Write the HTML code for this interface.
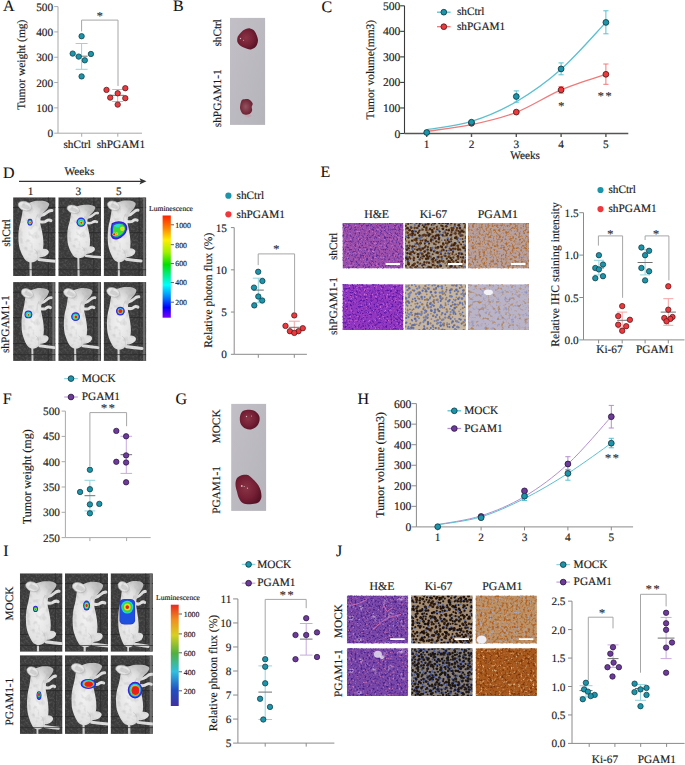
<!DOCTYPE html><html><head><meta charset="utf-8"><title>Figure</title><style>html,body{margin:0;padding:0;background:#fff;width:685px;height:765px;overflow:hidden}svg text{font-family:'Liberation Serif', serif;text-rendering:geometricPrecision;stroke:#1a1a1a;stroke-width:0.16px;paint-order:stroke}</style></head><body><svg width="685" height="765" viewBox="0 0 685 765" style="display:block;font-family:'Liberation Serif', serif"><defs>
<linearGradient id="gbox" x1="0" y1="0" x2="1" y2="1">
 <stop offset="0" stop-color="#c2c0c6"/><stop offset="1" stop-color="#b6b4bb"/>
</linearGradient>
<radialGradient id="tum" cx="0.42" cy="0.45" r="0.62">
 <stop offset="0" stop-color="#8a3446"/><stop offset="0.6" stop-color="#741f34"/><stop offset="1" stop-color="#541224"/>
</radialGradient>
<radialGradient id="tum2" cx="0.45" cy="0.5" r="0.6">
 <stop offset="0" stop-color="#945462"/><stop offset="0.6" stop-color="#7a3040"/><stop offset="1" stop-color="#62202e"/>
</radialGradient>
<linearGradient id="cbar" x1="0" y1="0" x2="0" y2="1">
 <stop offset="0" stop-color="#ff2000"/><stop offset="0.12" stop-color="#ff8000"/><stop offset="0.24" stop-color="#ffee00"/>
 <stop offset="0.36" stop-color="#a0f000"/><stop offset="0.48" stop-color="#00e000"/><stop offset="0.6" stop-color="#00f0a0"/>
 <stop offset="0.68" stop-color="#00ffff"/><stop offset="0.8" stop-color="#0080ff"/><stop offset="0.9" stop-color="#0000ff"/>
 <stop offset="1" stop-color="#8000ff"/>
</linearGradient>
<linearGradient id="cbar2" x1="0" y1="0" x2="0" y2="1">
 <stop offset="0" stop-color="#e82a20"/><stop offset="0.15" stop-color="#f09020"/><stop offset="0.3" stop-color="#d8d020"/>
 <stop offset="0.48" stop-color="#50b040"/><stop offset="0.66" stop-color="#30c0e0"/><stop offset="0.84" stop-color="#2050c0"/>
 <stop offset="1" stop-color="#4030a0"/>
</linearGradient>
<radialGradient id="lum1"><stop offset="0" stop-color="#e83020"/><stop offset="0.35" stop-color="#40c040"/><stop offset="0.7" stop-color="#2060e0"/><stop offset="1" stop-color="#3020c0"/></radialGradient>
<radialGradient id="lum2"><stop offset="0" stop-color="#e82020"/><stop offset="0.3" stop-color="#e8c020"/><stop offset="0.5" stop-color="#40c040"/><stop offset="0.75" stop-color="#2060e0"/><stop offset="1" stop-color="#3020c0"/></radialGradient>
<radialGradient id="lum3"><stop offset="0" stop-color="#a0e040"/><stop offset="0.5" stop-color="#40e080"/><stop offset="0.8" stop-color="#20a0f0"/><stop offset="1" stop-color="#2020d0"/></radialGradient>
<radialGradient id="lum4"><stop offset="0" stop-color="#e81818"/><stop offset="0.45" stop-color="#e03020"/><stop offset="0.7" stop-color="#2050e0"/><stop offset="1" stop-color="#3020c0"/></radialGradient>
<radialGradient id="lum5" cx="0.55" cy="0.35" r="0.6"><stop offset="0" stop-color="#e83020"/><stop offset="0.25" stop-color="#d0d020"/><stop offset="0.45" stop-color="#40b040"/><stop offset="0.7" stop-color="#2070d0"/><stop offset="1" stop-color="#2040b0"/></radialGradient>
<radialGradient id="lum6"><stop offset="0" stop-color="#f02020"/><stop offset="0.55" stop-color="#f02818"/><stop offset="0.7" stop-color="#40c040"/><stop offset="0.85" stop-color="#2060e0"/><stop offset="1" stop-color="#3030b0"/></radialGradient>
<radialGradient id="mshade" cx="0.42" cy="0.55" r="0.62"><stop offset="0" stop-color="#f2f2f2"/><stop offset="0.65" stop-color="#e2e2e2"/><stop offset="1" stop-color="#bcbcbc"/></radialGradient>
<g id="mouse">
 <path d="M28.5,20.5 Q33,19.5 35,17.5 Q37,15.5 39.5,15.8" stroke="#dedede" stroke-width="2.6" stroke-linecap="round" stroke-linejoin="round" fill="none"/>
 <path d="M28.2,25.5 Q32.5,26.6 34.5,24.8 Q36.5,23.5 38.6,24.6" stroke="#e2e2e2" stroke-width="2.6" stroke-linecap="round" stroke-linejoin="round" fill="none"/>
 <path d="M27.5,58.4 Q35,59.4 42.5,60.0" stroke="#dcdcdc" stroke-width="2.6" stroke-linecap="round" fill="none"/>
 <path d="M20.0,58 L20.3,79" stroke="#d4d4d4" stroke-width="2.0" stroke-linecap="round" fill="none"/>
 <ellipse cx="30.0" cy="52.8" rx="6.8" ry="3.6" transform="rotate(-12 30 52.8)" fill="#e0e0e0"/>
 <path d="M19.00,9.00 C20.43,8.52 22.25,7.87 24.00,7.60 C25.75,7.33 27.75,7.30 29.50,7.40 C31.25,7.50 33.25,7.73 34.50,8.20 C35.75,8.67 36.82,9.30 37.00,10.20 C37.18,11.10 36.35,12.47 35.60,13.60 C34.85,14.73 33.47,15.85 32.50,17.00 C31.53,18.15 30.38,19.25 29.80,20.50 C29.22,21.75 29.13,23.28 29.00,24.50 C28.87,25.72 28.87,26.70 29.00,27.80 C29.13,28.90 29.43,29.43 29.80,31.10 C30.17,32.77 30.87,35.57 31.20,37.80 C31.53,40.03 31.80,42.47 31.80,44.50 C31.80,46.53 31.57,48.42 31.20,50.00 C30.83,51.58 30.20,52.77 29.60,54.00 C29.00,55.23 28.50,56.37 27.60,57.40 C26.70,58.43 25.38,59.60 24.20,60.20 C23.02,60.80 21.63,61.00 20.50,61.00 C19.37,61.00 18.32,60.63 17.40,60.20 C16.48,59.77 15.90,59.53 15.00,58.40 C14.10,57.27 12.90,55.35 12.00,53.40 C11.10,51.45 10.10,49.12 9.60,46.70 C9.10,44.28 9.05,41.12 9.00,38.90 C8.95,36.68 9.13,35.05 9.30,33.40 C9.47,31.75 9.72,30.32 10.00,29.00 C10.28,27.68 10.70,26.67 11.00,25.50 C11.30,24.33 11.57,23.15 11.80,22.00 C12.03,20.85 12.17,19.85 12.40,18.60 C12.63,17.35 12.70,15.85 13.20,14.50 C13.70,13.15 14.43,11.42 15.40,10.50 C16.37,9.58 17.57,9.48 19.00,9.00Z" fill="url(#mshade)"/>
 <path d="M27,19 Q24,22 25,27" stroke="#c4c4c4" stroke-width="0.7" fill="none" opacity="0.7"/>
 <path d="M23.5,49.5 Q27.5,52 26.5,57" stroke="#c4c4c4" stroke-width="0.7" fill="none" opacity="0.8"/>
 <ellipse cx="15.0" cy="12.0" rx="6.4" ry="3.9" transform="rotate(18 15 12)" fill="#e6e6e6" stroke="#b4b4b4" stroke-width="0.5"/>
 <ellipse cx="15.4" cy="12.4" rx="3.6" ry="1.9" transform="rotate(18 15.4 12.4)" fill="#d0d0d0"/>
</g>
<filter id="mnoise" x="-5%" y="-5%" width="110%" height="110%" color-interpolation-filters="sRGB"><feTurbulence type="fractalNoise" baseFrequency="0.22" numOctaves="2" seed="4" result="n"/><feColorMatrix in="n" type="matrix" values="0 0 0 0 0.62  0 0 0 0 0.62  0 0 0 0 0.62  0.9 0 0 0 -0.44" result="g"/><feComposite in="g" in2="SourceAlpha" operator="in"/></filter><filter id="bgn" x="0" y="0" width="100%" height="100%" color-interpolation-filters="sRGB"><feTurbulence type="fractalNoise" baseFrequency="0.45" numOctaves="2" seed="21" result="n"/><feColorMatrix in="n" type="matrix" values="0 0 0 0 0.5  0 0 0 0 0.5  0 0 0 0 0.5  0.9 0 0 0 -0.38"/></filter><filter id="hblur" x="0" y="0" width="100%" height="100%"><feGaussianBlur stdDeviation="0.55"/></filter><filter id="the1" x="0" y="0" width="100%" height="100%" color-interpolation-filters="sRGB"><feTurbulence type="fractalNoise" baseFrequency="0.5" numOctaves="2" seed="3" result="n"/><feColorMatrix in="n" type="matrix" values="0 0 0 0 0.831  0 0 0 0 0.439  0 0 0 0 0.737  0 4.00 0 0 -2.274" result="l2"/><feColorMatrix in="n" type="matrix" values="0 0 0 0 0.353  0 0 0 0 0.165  0 0 0 0 0.596  4.00 0 0 0 -2.000" result="l1"/><feMerge><feMergeNode in="l2"/><feMergeNode in="l1"/></feMerge><feGaussianBlur stdDeviation="0.4"/></filter><filter id="the2" x="0" y="0" width="100%" height="100%" color-interpolation-filters="sRGB"><feTurbulence type="fractalNoise" baseFrequency="0.5" numOctaves="2" seed="5" result="n"/><feColorMatrix in="n" type="matrix" values="0 0 0 0 0.816  0 0 0 0 0.439  0 0 0 0 0.847  0 4.00 0 0 -2.304" result="l2"/><feColorMatrix in="n" type="matrix" values="0 0 0 0 0.353  0 0 0 0 0.078  0 0 0 0 0.643  4.00 0 0 0 -2.000" result="l1"/><feMerge><feMergeNode in="l2"/><feMergeNode in="l1"/></feMerge><feGaussianBlur stdDeviation="0.4"/></filter><filter id="the3" x="0" y="0" width="100%" height="100%" color-interpolation-filters="sRGB"><feTurbulence type="fractalNoise" baseFrequency="0.5" numOctaves="2" seed="6" result="n"/><feTurbulence type="fractalNoise" baseFrequency="0.12" numOctaves="2" seed="56" result="n3"/><feColorMatrix in="n3" type="matrix" values="0 0 0 0 0.925  0 0 0 0 0.863  0 0 0 0 0.925  4.00 0 0 0 -2.669" result="l3"/><feColorMatrix in="n" type="matrix" values="0 0 0 0 0.816  0 0 0 0 0.471  0 0 0 0 0.722  0 4.00 0 0 -2.304" result="l2"/><feColorMatrix in="n" type="matrix" values="0 0 0 0 0.282  0 0 0 0 0.125  0 0 0 0 0.541  4.00 0 0 0 -2.000" result="l1"/><feMerge><feMergeNode in="l3"/><feMergeNode in="l2"/><feMergeNode in="l1"/></feMerge><feGaussianBlur stdDeviation="0.4"/></filter><filter id="tpg1" x="0" y="0" width="100%" height="100%" color-interpolation-filters="sRGB"><feTurbulence type="fractalNoise" baseFrequency="0.45" numOctaves="2" seed="13" result="n"/><feColorMatrix in="n" type="matrix" values="0 0 0 0 0.659  0 0 0 0 0.643  0 0 0 0 0.784  0 3.60 0 0 -2.046" result="l2"/><feColorMatrix in="n" type="matrix" values="0 0 0 0 0.690  0 0 0 0 0.424  0 0 0 0 0.188  3.60 0 0 0 -1.636" result="l1"/><feMerge><feMergeNode in="l2"/><feMergeNode in="l1"/></feMerge><feGaussianBlur stdDeviation="0.45"/></filter><filter id="tpg2" x="0" y="0" width="100%" height="100%" color-interpolation-filters="sRGB"><feTurbulence type="fractalNoise" baseFrequency="0.3" numOctaves="2" seed="15" result="n"/><feColorMatrix in="n" type="matrix" values="0 0 0 0 0.549  0 0 0 0 0.565  0 0 0 0 0.753  0 3.20 0 0 -1.843" result="l2"/><feColorMatrix in="n" type="matrix" values="0 0 0 0 0.690  0 0 0 0 0.502  0 0 0 0 0.314  3.20 0 0 0 -1.722" result="l1"/><feMerge><feMergeNode in="l2"/><feMergeNode in="l1"/></feMerge><feGaussianBlur stdDeviation="0.5"/></filter><filter id="tpg3" x="0" y="0" width="100%" height="100%" color-interpolation-filters="sRGB"><feTurbulence type="fractalNoise" baseFrequency="0.42" numOctaves="2" seed="17" result="n"/><feColorMatrix in="n" type="matrix" values="0 0 0 0 0.659  0 0 0 0 0.682  0 0 0 0 0.816  0 3.60 0 0 -2.019" result="l2"/><feColorMatrix in="n" type="matrix" values="0 0 0 0 0.690  0 0 0 0 0.376  0 0 0 0 0.125  3.60 0 0 0 -1.691" result="l1"/><feMerge><feMergeNode in="l2"/><feMergeNode in="l1"/></feMerge><feGaussianBlur stdDeviation="0.45"/></filter><filter id="tpg4" x="0" y="0" width="100%" height="100%" color-interpolation-filters="sRGB"><feTurbulence type="fractalNoise" baseFrequency="0.42" numOctaves="2" seed="19" result="n"/><feColorMatrix in="n" type="matrix" values="0 0 0 0 0.910  0 0 0 0 0.753  0 0 0 0 0.565  0 3.80 0 0 -2.189" result="l2"/><feColorMatrix in="n" type="matrix" values="0 0 0 0 0.478  0 0 0 0 0.204  0 0 0 0 0.031  3.80 0 0 0 -1.900" result="l1"/><feMerge><feMergeNode in="l2"/><feMergeNode in="l1"/></feMerge><feGaussianBlur stdDeviation="0.45"/></filter></defs><rect width="685" height="765" fill="#fff"/><text x="3.00" y="11.30" font-size="16" text-anchor="start" fill="#111" style="stroke-width:0.1px">A</text>
<line x1="58.00" y1="6.60" x2="58.00" y2="133.20" stroke="#a9a9a9" stroke-width="1.0"/>
<line x1="54.20" y1="133.20" x2="58.00" y2="133.20" stroke="#a9a9a9" stroke-width="1.0"/>
<text x="53.10" y="137.20" font-size="11.3" text-anchor="end" fill="#1a1a1a" >0</text>
<line x1="54.20" y1="107.88" x2="58.00" y2="107.88" stroke="#a9a9a9" stroke-width="1.0"/>
<text x="53.10" y="111.88" font-size="11.3" text-anchor="end" fill="#1a1a1a" >100</text>
<line x1="54.20" y1="82.56" x2="58.00" y2="82.56" stroke="#a9a9a9" stroke-width="1.0"/>
<text x="53.10" y="86.56" font-size="11.3" text-anchor="end" fill="#1a1a1a" >200</text>
<line x1="54.20" y1="57.24" x2="58.00" y2="57.24" stroke="#a9a9a9" stroke-width="1.0"/>
<text x="53.10" y="61.24" font-size="11.3" text-anchor="end" fill="#1a1a1a" >300</text>
<line x1="54.20" y1="31.92" x2="58.00" y2="31.92" stroke="#a9a9a9" stroke-width="1.0"/>
<text x="53.10" y="35.92" font-size="11.3" text-anchor="end" fill="#1a1a1a" >400</text>
<line x1="54.20" y1="6.60" x2="58.00" y2="6.60" stroke="#a9a9a9" stroke-width="1.0"/>
<text x="53.10" y="10.60" font-size="11.3" text-anchor="end" fill="#1a1a1a" >500</text>
<line x1="58.00" y1="133.20" x2="142.00" y2="133.20" stroke="#a9a9a9" stroke-width="1.0"/>
<line x1="81.70" y1="133.20" x2="81.70" y2="136.70" stroke="#a9a9a9" stroke-width="1.0"/>
<line x1="117.80" y1="133.20" x2="117.80" y2="136.70" stroke="#a9a9a9" stroke-width="1.0"/>
<text x="77.20" y="148.00" font-size="11.3" text-anchor="middle" fill="#1a1a1a" >shCtrl</text>
<text x="120.90" y="148.00" font-size="11.3" text-anchor="middle" fill="#1a1a1a" >shPGAM1</text>
<text transform="translate(24.80,64.70) rotate(-90)" font-size="11.5" text-anchor="middle" fill="#1a1a1a" >Tumor weight (mg)</text>
<path d="M81.60,31.40 V20.10 H118.00 V86.00" fill="none" stroke="#a6a6a6" stroke-width="1.0"/>
<text x="99.70" y="19.50" font-size="12.2" text-anchor="middle" fill="#333" >*</text>
<line x1="81.60" y1="43.50" x2="81.60" y2="69.30" stroke="#93d4df" stroke-width="1.0"/>
<line x1="75.60" y1="43.50" x2="87.60" y2="43.50" stroke="#93d4df" stroke-width="1.0"/>
<line x1="75.60" y1="69.30" x2="87.60" y2="69.30" stroke="#93d4df" stroke-width="1.0"/>
<line x1="75.60" y1="56.20" x2="87.60" y2="56.20" stroke="#707070" stroke-width="1.0"/>
<circle cx="81.60" cy="36.20" r="2.7" fill="#1b95aa" stroke="#123a44" stroke-width="0.75"/>
<circle cx="72.70" cy="53.60" r="2.7" fill="#1b95aa" stroke="#123a44" stroke-width="0.75"/>
<circle cx="90.90" cy="54.00" r="2.7" fill="#1b95aa" stroke="#123a44" stroke-width="0.75"/>
<circle cx="78.70" cy="56.60" r="2.7" fill="#1b95aa" stroke="#123a44" stroke-width="0.75"/>
<circle cx="84.80" cy="60.30" r="2.7" fill="#1b95aa" stroke="#123a44" stroke-width="0.75"/>
<circle cx="81.60" cy="76.40" r="2.7" fill="#1b95aa" stroke="#123a44" stroke-width="0.75"/>
<line x1="117.70" y1="89.50" x2="117.70" y2="101.50" stroke="#f6a3a3" stroke-width="1.0"/>
<line x1="112.20" y1="89.50" x2="123.20" y2="89.50" stroke="#f6a3a3" stroke-width="1.0"/>
<line x1="112.20" y1="101.50" x2="123.20" y2="101.50" stroke="#f6a3a3" stroke-width="1.0"/>
<line x1="111.20" y1="95.30" x2="124.20" y2="95.30" stroke="#707070" stroke-width="1.0"/>
<circle cx="106.50" cy="89.90" r="2.7" fill="#ef383d" stroke="#4a1a1a" stroke-width="0.75"/>
<circle cx="125.30" cy="88.20" r="2.7" fill="#ef383d" stroke="#4a1a1a" stroke-width="0.75"/>
<circle cx="117.70" cy="93.30" r="2.7" fill="#ef383d" stroke="#4a1a1a" stroke-width="0.75"/>
<circle cx="110.20" cy="97.60" r="2.7" fill="#ef383d" stroke="#4a1a1a" stroke-width="0.75"/>
<circle cx="125.30" cy="98.20" r="2.7" fill="#ef383d" stroke="#4a1a1a" stroke-width="0.75"/>
<circle cx="117.70" cy="104.60" r="2.7" fill="#ef383d" stroke="#4a1a1a" stroke-width="0.75"/>
<text x="173.00" y="11.30" font-size="16" text-anchor="start" fill="#111" style="stroke-width:0.1px">B</text>
<rect x="230" y="17.9" width="35.1" height="107" fill="url(#gbox)"/>
<path d="M245.80,28.90 C246.97,28.55 248.78,28.27 250.00,28.40 C251.22,28.53 252.15,28.93 253.10,29.70 C254.05,30.47 254.90,31.38 255.70,33.00 C256.50,34.62 257.65,37.57 257.90,39.40 C258.15,41.23 257.65,42.68 257.20,44.00 C256.75,45.32 256.23,46.40 255.20,47.30 C254.17,48.20 252.37,49.15 251.00,49.40 C249.63,49.65 248.32,49.15 247.00,48.80 C245.68,48.45 244.35,47.93 243.10,47.30 C241.85,46.67 240.45,45.87 239.50,45.00 C238.55,44.13 237.75,43.28 237.40,42.10 C237.05,40.92 237.22,39.00 237.40,37.90 C237.58,36.80 237.98,36.30 238.50,35.50 C239.02,34.70 239.75,33.93 240.50,33.10 C241.25,32.27 242.12,31.20 243.00,30.50 C243.88,29.80 244.63,29.25 245.80,28.90Z" fill="url(#tum)"/><circle cx="240.5" cy="38.5" r="0.7" fill="#e8c8d0" opacity="0.85"/><circle cx="243.5" cy="40.2" r="0.5" fill="#e8c8d0" opacity="0.85"/>
<ellipse cx="248.2" cy="115.6" rx="3.4" ry="1.6" fill="#c89aa6" opacity="0.6"/>
<path d="M242.90,99.40 C244.10,99.12 246.98,98.57 248.60,99.20 C250.22,99.83 252.08,101.92 252.60,103.20 C253.12,104.48 251.78,105.70 251.70,106.90 C251.62,108.10 252.47,109.23 252.10,110.40 C251.73,111.57 250.95,113.25 249.50,113.90 C248.05,114.55 244.93,115.03 243.40,114.30 C241.87,113.57 240.82,111.10 240.30,109.50 C239.78,107.90 240.12,106.13 240.30,104.70 C240.48,103.27 240.97,101.78 241.40,100.90 C241.83,100.02 241.70,99.68 242.90,99.40Z" fill="url(#tum2)"/>
<text transform="translate(221.00,32.80) rotate(-90)" font-size="11.3" text-anchor="middle" fill="#1a1a1a" >shCtrl</text>
<text transform="translate(221.00,98.30) rotate(-90)" font-size="11.3" text-anchor="middle" fill="#1a1a1a" >shPGAM1-1</text>
<text x="321.50" y="11.50" font-size="16" text-anchor="start" fill="#111" style="stroke-width:0.1px">C</text>
<line x1="404.50" y1="5.80" x2="404.50" y2="133.50" stroke="#3a3a3a" stroke-width="1.1"/>
<line x1="400.20" y1="133.50" x2="404.50" y2="133.50" stroke="#3a3a3a" stroke-width="1.1"/>
<text x="400.40" y="137.50" font-size="11.6" text-anchor="end" fill="#1a1a1a" >0</text>
<line x1="400.20" y1="107.96" x2="404.50" y2="107.96" stroke="#3a3a3a" stroke-width="1.1"/>
<text x="400.40" y="111.96" font-size="11.6" text-anchor="end" fill="#1a1a1a" >100</text>
<line x1="400.20" y1="82.42" x2="404.50" y2="82.42" stroke="#3a3a3a" stroke-width="1.1"/>
<text x="400.40" y="86.42" font-size="11.6" text-anchor="end" fill="#1a1a1a" >200</text>
<line x1="400.20" y1="56.88" x2="404.50" y2="56.88" stroke="#3a3a3a" stroke-width="1.1"/>
<text x="400.40" y="60.88" font-size="11.6" text-anchor="end" fill="#1a1a1a" >300</text>
<line x1="400.20" y1="31.34" x2="404.50" y2="31.34" stroke="#3a3a3a" stroke-width="1.1"/>
<text x="400.40" y="35.34" font-size="11.6" text-anchor="end" fill="#1a1a1a" >400</text>
<line x1="400.20" y1="5.80" x2="404.50" y2="5.80" stroke="#3a3a3a" stroke-width="1.1"/>
<text x="400.40" y="9.80" font-size="11.6" text-anchor="end" fill="#1a1a1a" >500</text>
<line x1="404.50" y1="133.50" x2="628.30" y2="133.50" stroke="#555" stroke-width="1.4"/>
<line x1="426.70" y1="133.50" x2="426.70" y2="137.00" stroke="#555" stroke-width="1.4"/>
<line x1="471.50" y1="133.50" x2="471.50" y2="137.00" stroke="#555" stroke-width="1.4"/>
<line x1="516.30" y1="133.50" x2="516.30" y2="137.00" stroke="#555" stroke-width="1.4"/>
<line x1="561.10" y1="133.50" x2="561.10" y2="137.00" stroke="#555" stroke-width="1.4"/>
<line x1="605.90" y1="133.50" x2="605.90" y2="137.00" stroke="#555" stroke-width="1.4"/>
<text x="426.70" y="148.30" font-size="11.3" text-anchor="middle" fill="#1a1a1a" >1</text>
<text x="471.50" y="148.30" font-size="11.3" text-anchor="middle" fill="#1a1a1a" >2</text>
<text x="516.30" y="148.30" font-size="11.3" text-anchor="middle" fill="#1a1a1a" >3</text>
<text x="561.10" y="148.30" font-size="11.3" text-anchor="middle" fill="#1a1a1a" >4</text>
<text x="605.90" y="148.30" font-size="11.3" text-anchor="middle" fill="#1a1a1a" >5</text>
<text x="525.10" y="159.30" font-size="11.3" text-anchor="middle" fill="#1a1a1a" >Weeks</text>
<text transform="translate(373.80,69.60) rotate(-90)" font-size="11.5" text-anchor="middle" fill="#1a1a1a" >Tumor volume(mm3)</text>
<line x1="437.00" y1="12.20" x2="450.60" y2="12.20" stroke="#5bc0d0" stroke-width="1.3"/>
<circle cx="443.80" cy="12.20" r="2.85" fill="#1b95aa" stroke="#123a44" stroke-width="0.85"/>
<text x="456.90" y="15.30" font-size="11.3" text-anchor="start" fill="#1a1a1a" >shCtrl</text>
<line x1="437.00" y1="26.70" x2="450.60" y2="26.70" stroke="#f07a7a" stroke-width="1.3"/>
<circle cx="443.80" cy="26.70" r="2.85" fill="#ef383d" stroke="#4a1a1a" stroke-width="0.85"/>
<text x="456.90" y="29.80" font-size="11.3" text-anchor="start" fill="#1a1a1a" >shPGAM1</text>
<path d="M426.70,129.80 C434.17,128.40 456.57,126.08 471.50,121.40 C486.43,116.72 501.37,110.38 516.30,101.70 C531.23,93.02 546.17,82.52 561.10,69.30 C576.03,56.08 598.43,30.22 605.90,22.40" fill="none" stroke="#5bc0d0" stroke-width="1.3"/>
<path d="M426.70,131.40 C434.17,130.27 456.57,127.78 471.50,124.60 C486.43,121.42 501.37,118.08 516.30,112.30 C531.23,106.52 546.17,96.23 561.10,89.90 C576.03,83.57 598.43,76.90 605.90,74.30" fill="none" stroke="#f07a7a" stroke-width="1.3"/>
<line x1="516.30" y1="90.90" x2="516.30" y2="102.20" stroke="#5bc0d0" stroke-width="1.0"/>
<line x1="513.70" y1="90.90" x2="518.90" y2="90.90" stroke="#5bc0d0" stroke-width="1.0"/>
<line x1="513.70" y1="102.20" x2="518.90" y2="102.20" stroke="#5bc0d0" stroke-width="1.0"/>
<line x1="561.10" y1="62.90" x2="561.10" y2="74.80" stroke="#5bc0d0" stroke-width="1.0"/>
<line x1="558.50" y1="62.90" x2="563.70" y2="62.90" stroke="#5bc0d0" stroke-width="1.0"/>
<line x1="558.50" y1="74.80" x2="563.70" y2="74.80" stroke="#5bc0d0" stroke-width="1.0"/>
<line x1="605.90" y1="10.80" x2="605.90" y2="33.80" stroke="#5bc0d0" stroke-width="1.0"/>
<line x1="603.30" y1="10.80" x2="608.50" y2="10.80" stroke="#5bc0d0" stroke-width="1.0"/>
<line x1="603.30" y1="33.80" x2="608.50" y2="33.80" stroke="#5bc0d0" stroke-width="1.0"/>
<line x1="561.10" y1="86.60" x2="561.10" y2="93.20" stroke="#f07a7a" stroke-width="1.0"/>
<line x1="558.50" y1="86.60" x2="563.70" y2="86.60" stroke="#f07a7a" stroke-width="1.0"/>
<line x1="558.50" y1="93.20" x2="563.70" y2="93.20" stroke="#f07a7a" stroke-width="1.0"/>
<line x1="605.90" y1="64.00" x2="605.90" y2="84.30" stroke="#f07a7a" stroke-width="1.0"/>
<line x1="603.30" y1="64.00" x2="608.50" y2="64.00" stroke="#f07a7a" stroke-width="1.0"/>
<line x1="603.30" y1="84.30" x2="608.50" y2="84.30" stroke="#f07a7a" stroke-width="1.0"/>
<circle cx="471.50" cy="123.30" r="2.9" fill="#ef383d" stroke="#4a1a1a" stroke-width="0.85"/>
<circle cx="516.30" cy="112.10" r="2.9" fill="#ef383d" stroke="#4a1a1a" stroke-width="0.85"/>
<circle cx="561.10" cy="89.90" r="2.9" fill="#ef383d" stroke="#4a1a1a" stroke-width="0.85"/>
<circle cx="605.90" cy="74.30" r="2.9" fill="#ef383d" stroke="#4a1a1a" stroke-width="0.85"/>
<circle cx="426.70" cy="132.50" r="2.9" fill="#1b95aa" stroke="#123a44" stroke-width="0.85"/>
<circle cx="471.50" cy="122.20" r="2.9" fill="#1b95aa" stroke="#123a44" stroke-width="0.85"/>
<circle cx="516.30" cy="96.50" r="2.9" fill="#1b95aa" stroke="#123a44" stroke-width="0.85"/>
<circle cx="561.10" cy="68.90" r="2.9" fill="#1b95aa" stroke="#123a44" stroke-width="0.85"/>
<circle cx="605.90" cy="22.40" r="2.9" fill="#1b95aa" stroke="#123a44" stroke-width="0.85"/>
<text x="561.20" y="110.40" font-size="12.2" text-anchor="middle" fill="#333" >*</text>
<text x="605.50" y="100.10" font-size="12.2" text-anchor="middle" fill="#333" letter-spacing="1.6">**</text>
<text x="2.90" y="177.50" font-size="16" text-anchor="start" fill="#111" style="stroke-width:0.1px">D</text>
<text x="79.40" y="175.00" font-size="11.3" text-anchor="middle" fill="#1a1a1a" >Weeks</text>
<line x1="19.00" y1="181.30" x2="142.00" y2="181.30" stroke="#3a3030" stroke-width="1.2"/>
<path d="M146.5,181.3 L139.5,178.2 L141,181.3 L139.5,184.4 Z" fill="#333"/>
<text x="30.50" y="194.80" font-size="11.3" text-anchor="middle" fill="#1a1a1a" >1</text>
<text x="78.40" y="194.80" font-size="11.3" text-anchor="middle" fill="#1a1a1a" >3</text>
<text x="118.80" y="194.80" font-size="11.3" text-anchor="middle" fill="#1a1a1a" >5</text>
<svg x="13.10" y="197.30" width="42.50" height="78.70" overflow="hidden"><rect x="0" y="0" width="42.50" height="78.70" fill="#3a3a3a"/><rect x="0" y="0" width="42.50" height="78.70" filter="url(#bgn)"/><line x1="0" y1="10.2" x2="42.5" y2="10.2" stroke="#2a2a2a" stroke-width="0.9"/><line x1="0" y1="35.4" x2="42.5" y2="35.4" stroke="#2a2a2a" stroke-width="0.9"/><line x1="0" y1="61.4" x2="42.5" y2="61.4" stroke="#2a2a2a" stroke-width="0.9"/><line x1="35.3" y1="0" x2="35.3" y2="78.7" stroke="#2c2c2c" stroke-width="0.8"/><g transform="translate(-4.6,-5) scale(1.1,1.15)"><use href="#mouse"/><use href="#mouse" filter="url(#mnoise)"/></g><line x1="0" y1="72.4" x2="42.5" y2="72.4" stroke="#2a2a2a" stroke-width="0.7"/><g transform="translate(16.9,24.9) rotate(0)"><ellipse cx="0.00" cy="0.00" rx="2.60" ry="3.40" fill="#3a1ccc"/><ellipse cx="0.00" cy="0.00" rx="2.13" ry="2.79" fill="#1e4ff0"/><ellipse cx="0.00" cy="0.17" rx="1.61" ry="2.11" fill="#3ad83a"/><ellipse cx="0.13" cy="0.27" rx="1.04" ry="1.36" fill="#e4e020"/><ellipse cx="0.13" cy="0.34" rx="0.57" ry="0.75" fill="#e8201c"/></g></svg><svg x="58.30" y="197.30" width="42.80" height="78.70" overflow="hidden"><rect x="0" y="0" width="42.80" height="78.70" fill="#3a3a3a"/><rect x="0" y="0" width="42.80" height="78.70" filter="url(#bgn)"/><line x1="0" y1="10.2" x2="42.8" y2="10.2" stroke="#2a2a2a" stroke-width="0.9"/><line x1="0" y1="35.4" x2="42.8" y2="35.4" stroke="#2a2a2a" stroke-width="0.9"/><line x1="0" y1="61.4" x2="42.8" y2="61.4" stroke="#2a2a2a" stroke-width="0.9"/><line x1="35.5" y1="0" x2="35.5" y2="78.7" stroke="#2c2c2c" stroke-width="0.8"/><g transform="translate(0,0) scale(1,1)"><use href="#mouse"/><use href="#mouse" filter="url(#mnoise)"/></g><line x1="0" y1="72.4" x2="42.8" y2="72.4" stroke="#2a2a2a" stroke-width="0.7"/><g transform="translate(22.8,24.9) rotate(0)"><ellipse cx="0.00" cy="0.00" rx="4.60" ry="4.60" fill="#3a1ccc"/><ellipse cx="0.00" cy="0.00" rx="3.91" ry="3.91" fill="#1e4ff0"/><ellipse cx="0.00" cy="0.00" rx="3.22" ry="3.22" fill="#22d8f0"/><ellipse cx="0.00" cy="0.23" rx="2.53" ry="2.53" fill="#3ad83a"/><ellipse cx="0.23" cy="0.46" rx="1.75" ry="1.75" fill="#e4e020"/><ellipse cx="0.23" cy="0.55" rx="1.01" ry="1.01" fill="#e8201c"/></g></svg><svg x="103.70" y="197.30" width="42.60" height="78.70" overflow="hidden"><rect x="0" y="0" width="42.60" height="78.70" fill="#3a3a3a"/><rect x="0" y="0" width="42.60" height="78.70" filter="url(#bgn)"/><line x1="0" y1="10.2" x2="42.6" y2="10.2" stroke="#2a2a2a" stroke-width="0.9"/><line x1="0" y1="35.4" x2="42.6" y2="35.4" stroke="#2a2a2a" stroke-width="0.9"/><line x1="0" y1="61.4" x2="42.6" y2="61.4" stroke="#2a2a2a" stroke-width="0.9"/><line x1="35.4" y1="0" x2="35.4" y2="78.7" stroke="#2c2c2c" stroke-width="0.8"/><rect x="39.4" y="0" width="2.2" height="78.7" fill="#7a7a7a" opacity="0.8"/><g transform="translate(-5,-5.3) scale(1.0,1.15)"><use href="#mouse"/><use href="#mouse" filter="url(#mnoise)"/></g><line x1="0" y1="72.4" x2="42.6" y2="72.4" stroke="#2a2a2a" stroke-width="0.7"/><path d="M8,26 Q14,22.5 20,25 Q24,27 23.5,32 Q22,39 14,42 Q8,43 7,38 Q6.5,31 8,26Z" fill="#3a1ccc"/><path d="M9,27 Q14,24 19.5,26 Q22.5,28 22.3,32 Q21,38 14,40.7 Q9,41.5 8.2,37.5 Q7.8,31 9,27Z" fill="#1e4ff0"/><path d="M10,28 Q14,25.5 19,27 Q21.5,29 21.3,32 Q20,37 14,39.5 Q10,40 9.3,37 Q9,31 10,28Z" fill="#3ad83a"/><path d="M11,28 Q14,26.3 18,27.5 Q16,30 12.5,30 Z" fill="#22d8f0"/><g transform="translate(18.6,31.5) rotate(0)"><ellipse cx="0.00" cy="0.00" rx="2.20" ry="2.20" fill="#e4e020"/><ellipse cx="0.00" cy="0.00" rx="1.10" ry="1.10" fill="#c8e020"/></g><g transform="translate(10.5,37) rotate(0)"><ellipse cx="0.00" cy="0.00" rx="1.80" ry="1.80" fill="#e4e020"/><ellipse cx="0.00" cy="0.00" rx="1.08" ry="1.08" fill="#e8201c"/></g><g transform="translate(13,36.5) rotate(0)"><ellipse cx="0.00" cy="0.00" rx="1.50" ry="1.50" fill="#e4e020"/><ellipse cx="0.00" cy="0.00" rx="0.75" ry="0.75" fill="#f08a1a"/></g></svg><svg x="13.10" y="282.10" width="42.50" height="78.80" overflow="hidden"><rect x="0" y="0" width="42.50" height="78.80" fill="#3a3a3a"/><rect x="0" y="0" width="42.50" height="78.80" filter="url(#bgn)"/><line x1="0" y1="10.2" x2="42.5" y2="10.2" stroke="#2a2a2a" stroke-width="0.9"/><line x1="0" y1="35.5" x2="42.5" y2="35.5" stroke="#2a2a2a" stroke-width="0.9"/><line x1="0" y1="61.5" x2="42.5" y2="61.5" stroke="#2a2a2a" stroke-width="0.9"/><line x1="35.3" y1="0" x2="35.3" y2="78.8" stroke="#2c2c2c" stroke-width="0.8"/><rect x="39.3" y="0" width="2.2" height="78.8" fill="#7a7a7a" opacity="0.8"/><g transform="translate(-0.4,-2.3) scale(0.98,1.13)"><use href="#mouse"/><use href="#mouse" filter="url(#mnoise)"/></g><line x1="0" y1="72.5" x2="42.5" y2="72.5" stroke="#2a2a2a" stroke-width="0.7"/><g transform="translate(15.3,32.3) rotate(0)"><ellipse cx="0.00" cy="0.00" rx="3.90" ry="3.90" fill="#3a1ccc"/><ellipse cx="0.00" cy="0.00" rx="3.31" ry="3.31" fill="#1e4ff0"/><ellipse cx="0.00" cy="0.00" rx="2.73" ry="2.73" fill="#22d8f0"/><ellipse cx="0.00" cy="0.20" rx="2.15" ry="2.15" fill="#3ad83a"/><ellipse cx="0.20" cy="0.39" rx="1.48" ry="1.48" fill="#e4e020"/><ellipse cx="0.20" cy="0.47" rx="0.86" ry="0.86" fill="#e8201c"/></g></svg><svg x="58.30" y="282.10" width="42.80" height="78.80" overflow="hidden"><rect x="0" y="0" width="42.80" height="78.80" fill="#3a3a3a"/><rect x="0" y="0" width="42.80" height="78.80" filter="url(#bgn)"/><line x1="0" y1="10.2" x2="42.8" y2="10.2" stroke="#2a2a2a" stroke-width="0.9"/><line x1="0" y1="35.5" x2="42.8" y2="35.5" stroke="#2a2a2a" stroke-width="0.9"/><line x1="0" y1="61.5" x2="42.8" y2="61.5" stroke="#2a2a2a" stroke-width="0.9"/><line x1="35.5" y1="0" x2="35.5" y2="78.8" stroke="#2c2c2c" stroke-width="0.8"/><rect x="39.6" y="0" width="2.2" height="78.8" fill="#7a7a7a" opacity="0.8"/><g transform="translate(-3.6,-2.3) scale(1.02,1.13)"><use href="#mouse"/><use href="#mouse" filter="url(#mnoise)"/></g><line x1="0" y1="72.5" x2="42.8" y2="72.5" stroke="#2a2a2a" stroke-width="0.7"/><g transform="translate(17.3,34.6) rotate(0)"><ellipse cx="0.00" cy="0.00" rx="4.40" ry="4.40" fill="#3a1ccc"/><ellipse cx="0.00" cy="0.00" rx="3.74" ry="3.74" fill="#1e4ff0"/><ellipse cx="0.00" cy="0.00" rx="2.99" ry="2.99" fill="#22d8f0"/><ellipse cx="0.00" cy="0.00" rx="2.42" ry="2.42" fill="#3ad83a"/><ellipse cx="0.00" cy="0.00" rx="1.85" ry="1.85" fill="#e4e020"/><ellipse cx="0.22" cy="0.22" rx="1.32" ry="1.32" fill="#e8201c"/></g></svg><svg x="103.70" y="282.10" width="42.60" height="78.80" overflow="hidden"><rect x="0" y="0" width="42.60" height="78.80" fill="#3a3a3a"/><rect x="0" y="0" width="42.60" height="78.80" filter="url(#bgn)"/><line x1="0" y1="10.2" x2="42.6" y2="10.2" stroke="#2a2a2a" stroke-width="0.9"/><line x1="0" y1="35.5" x2="42.6" y2="35.5" stroke="#2a2a2a" stroke-width="0.9"/><line x1="0" y1="61.5" x2="42.6" y2="61.5" stroke="#2a2a2a" stroke-width="0.9"/><line x1="35.4" y1="0" x2="35.4" y2="78.8" stroke="#2c2c2c" stroke-width="0.8"/><rect x="39.4" y="0" width="2.2" height="78.8" fill="#7a7a7a" opacity="0.8"/><g transform="translate(-6.2,-3.8) scale(1.05,1.17)"><use href="#mouse"/><use href="#mouse" filter="url(#mnoise)"/></g><line x1="0" y1="72.5" x2="42.6" y2="72.5" stroke="#2a2a2a" stroke-width="0.7"/><g transform="translate(16.7,29) rotate(0)"><ellipse cx="0.00" cy="0.00" rx="4.40" ry="4.40" fill="#3a1ccc"/><ellipse cx="0.00" cy="0.00" rx="3.61" ry="3.61" fill="#1e4ff0"/><ellipse cx="0.00" cy="0.00" rx="2.90" ry="2.90" fill="#22d8f0"/><ellipse cx="0.00" cy="0.00" rx="2.46" ry="2.46" fill="#e4e020"/><ellipse cx="0.00" cy="0.00" rx="2.11" ry="2.11" fill="#e8201c"/></g></svg>
<text transform="translate(9.50,233.00) rotate(-90)" font-size="11.3" text-anchor="middle" fill="#1a1a1a" >shCtrl</text>
<text transform="translate(9.30,324.20) rotate(-90)" font-size="11.3" text-anchor="middle" fill="#1a1a1a" >shPGAM1-1</text>
<rect x="162.6" y="215.5" width="8.2" height="102.2" fill="url(#cbar)"/>
<text x="171.00" y="211.30" font-size="7.6" text-anchor="middle" fill="#1a1a1a" >Luminescence</text>
<line x1="170.80" y1="224.80" x2="174.00" y2="224.80" stroke="#333" stroke-width="0.8"/>
<text x="175.30" y="227.60" font-size="7.8" text-anchor="start" fill="#1a1a1a" >1000</text>
<line x1="170.80" y1="244.70" x2="174.00" y2="244.70" stroke="#333" stroke-width="0.8"/>
<text x="175.30" y="247.50" font-size="7.8" text-anchor="start" fill="#1a1a1a" >800</text>
<line x1="170.80" y1="263.60" x2="174.00" y2="263.60" stroke="#333" stroke-width="0.8"/>
<text x="175.30" y="266.40" font-size="7.8" text-anchor="start" fill="#1a1a1a" >600</text>
<line x1="170.80" y1="282.60" x2="174.00" y2="282.60" stroke="#333" stroke-width="0.8"/>
<text x="175.30" y="285.40" font-size="7.8" text-anchor="start" fill="#1a1a1a" >400</text>
<line x1="170.80" y1="302.20" x2="174.00" y2="302.20" stroke="#333" stroke-width="0.8"/>
<text x="175.30" y="305.00" font-size="7.8" text-anchor="start" fill="#1a1a1a" >200</text>
<line x1="234.20" y1="227.60" x2="234.20" y2="354.30" stroke="#8a8a8a" stroke-width="1.0"/>
<line x1="230.90" y1="354.30" x2="234.20" y2="354.30" stroke="#8a8a8a" stroke-width="1.0"/>
<text x="227.00" y="358.30" font-size="11.3" text-anchor="end" fill="#1a1a1a" >0</text>
<line x1="230.90" y1="312.06" x2="234.20" y2="312.06" stroke="#8a8a8a" stroke-width="1.0"/>
<text x="227.00" y="316.06" font-size="11.3" text-anchor="end" fill="#1a1a1a" >5</text>
<line x1="230.90" y1="269.83" x2="234.20" y2="269.83" stroke="#8a8a8a" stroke-width="1.0"/>
<text x="227.00" y="273.83" font-size="11.3" text-anchor="end" fill="#1a1a1a" >10</text>
<line x1="230.90" y1="227.60" x2="234.20" y2="227.60" stroke="#8a8a8a" stroke-width="1.0"/>
<text x="227.00" y="231.60" font-size="11.3" text-anchor="end" fill="#1a1a1a" >15</text>
<line x1="234.20" y1="354.30" x2="306.90" y2="354.30" stroke="#8a8a8a" stroke-width="1.0"/>
<line x1="258.30" y1="354.30" x2="258.30" y2="357.80" stroke="#8a8a8a" stroke-width="1.0"/>
<line x1="294.30" y1="354.30" x2="294.30" y2="357.80" stroke="#8a8a8a" stroke-width="1.0"/>
<text transform="translate(211.90,290.30) rotate(-90)" font-size="11.55" text-anchor="middle" fill="#1a1a1a" >Relative photon flux (%)</text>
<circle cx="228.40" cy="195.70" r="3.1" fill="#1b95aa"/>
<text x="236.50" y="199.00" font-size="11.3" text-anchor="start" fill="#1a1a1a" >shCtrl</text>
<circle cx="228.40" cy="214.30" r="3.1" fill="#ef383d"/>
<text x="236.50" y="217.60" font-size="11.3" text-anchor="start" fill="#1a1a1a" >shPGAM1</text>
<path d="M258.20,265.20 V253.90 H294.60 V312.30" fill="none" stroke="#a6a6a6" stroke-width="1.0"/>
<text x="276.40" y="253.20" font-size="12.2" text-anchor="middle" fill="#333" >*</text>
<line x1="258.30" y1="278.20" x2="258.30" y2="302.80" stroke="#93d4df" stroke-width="1.0"/>
<line x1="252.80" y1="278.20" x2="263.80" y2="278.20" stroke="#93d4df" stroke-width="1.0"/>
<line x1="252.80" y1="302.80" x2="263.80" y2="302.80" stroke="#93d4df" stroke-width="1.0"/>
<line x1="252.80" y1="290.10" x2="263.80" y2="290.10" stroke="#707070" stroke-width="1.0"/>
<circle cx="258.20" cy="271.80" r="2.7" fill="#1b95aa" stroke="#123a44" stroke-width="0.75"/>
<circle cx="262.40" cy="281.00" r="2.7" fill="#1b95aa" stroke="#123a44" stroke-width="0.75"/>
<circle cx="254.00" cy="287.60" r="2.7" fill="#1b95aa" stroke="#123a44" stroke-width="0.75"/>
<circle cx="258.30" cy="296.50" r="2.7" fill="#1b95aa" stroke="#123a44" stroke-width="0.75"/>
<circle cx="262.20" cy="300.50" r="2.7" fill="#1b95aa" stroke="#123a44" stroke-width="0.75"/>
<circle cx="254.30" cy="305.40" r="2.7" fill="#1b95aa" stroke="#123a44" stroke-width="0.75"/>
<line x1="294.30" y1="321.20" x2="294.30" y2="333.00" stroke="#f6a3a3" stroke-width="1.0"/>
<line x1="288.80" y1="321.20" x2="299.80" y2="321.20" stroke="#f6a3a3" stroke-width="1.0"/>
<line x1="288.80" y1="333.00" x2="299.80" y2="333.00" stroke="#f6a3a3" stroke-width="1.0"/>
<line x1="288.80" y1="327.30" x2="299.80" y2="327.30" stroke="#707070" stroke-width="1.0"/>
<circle cx="294.30" cy="315.40" r="2.7" fill="#ef383d" stroke="#4a1a1a" stroke-width="0.75"/>
<circle cx="285.50" cy="325.90" r="2.7" fill="#ef383d" stroke="#4a1a1a" stroke-width="0.75"/>
<circle cx="302.80" cy="328.20" r="2.7" fill="#ef383d" stroke="#4a1a1a" stroke-width="0.75"/>
<circle cx="289.90" cy="331.20" r="2.7" fill="#ef383d" stroke="#4a1a1a" stroke-width="0.75"/>
<circle cx="298.50" cy="331.20" r="2.7" fill="#ef383d" stroke="#4a1a1a" stroke-width="0.75"/>
<circle cx="294.30" cy="332.90" r="2.7" fill="#ef383d" stroke="#4a1a1a" stroke-width="0.75"/>
<text x="320.50" y="176.90" font-size="16" text-anchor="start" fill="#111" style="stroke-width:0.1px">E</text>
<svg x="342.50" y="223.00" width="61.00" height="45.50" overflow="hidden"><rect x="0" y="0" width="61.00" height="45.50" fill="#9c50ac"/><rect x="0" y="0" width="61.00" height="45.50" filter="url(#the1)"/><line x1="43.00" y1="41.00" x2="57.50" y2="41.00" stroke="#fff" stroke-width="1.8"/></svg><svg x="404.90" y="223.00" width="61.00" height="45.50" overflow="hidden"><g filter="url(#hblur)"><rect x="-2" y="-2" width="65.00" height="49.50" fill="#aa9c8a"/><g fill="#8a6a48"><circle cx="-2.2" cy="-4.0" r="1.2"/><circle cx="2.4" cy="-1.8" r="0.9"/><circle cx="9.6" cy="-2.6" r="1.1"/><circle cx="15.0" cy="-4.5" r="0.9"/><circle cx="17.7" cy="-2.4" r="0.9"/><circle cx="21.8" cy="-1.2" r="1.0"/><circle cx="27.8" cy="-3.5" r="0.8"/><circle cx="34.0" cy="-0.8" r="1.0"/><circle cx="37.1" cy="-4.5" r="1.1"/><circle cx="41.2" cy="-2.7" r="1.0"/><circle cx="50.0" cy="-3.2" r="0.9"/><circle cx="54.0" cy="-4.2" r="0.8"/><circle cx="57.8" cy="-1.3" r="1.0"/><circle cx="65.8" cy="-2.2" r="0.9"/><circle cx="1.7" cy="0.4" r="1.0"/><circle cx="7.2" cy="-0.1" r="1.0"/><circle cx="11.8" cy="0.1" r="1.1"/><circle cx="16.7" cy="0.2" r="0.9"/><circle cx="21.6" cy="3.7" r="1.0"/><circle cx="23.7" cy="0.3" r="0.9"/><circle cx="28.7" cy="2.1" r="1.1"/><circle cx="35.6" cy="0.5" r="1.1"/><circle cx="39.1" cy="3.9" r="0.9"/><circle cx="45.7" cy="2.0" r="1.1"/><circle cx="50.0" cy="0.9" r="1.2"/><circle cx="54.0" cy="2.5" r="1.1"/><circle cx="62.1" cy="-0.2" r="0.9"/><circle cx="-2.7" cy="4.9" r="1.0"/><circle cx="1.8" cy="8.4" r="0.9"/><circle cx="9.5" cy="5.9" r="0.8"/><circle cx="12.9" cy="5.0" r="1.1"/><circle cx="17.2" cy="5.7" r="1.0"/><circle cx="23.8" cy="7.2" r="0.9"/><circle cx="26.4" cy="6.6" r="0.9"/><circle cx="34.3" cy="5.2" r="1.0"/><circle cx="40.6" cy="7.5" r="0.9"/><circle cx="44.6" cy="6.1" r="1.1"/><circle cx="48.9" cy="5.0" r="0.8"/><circle cx="55.9" cy="6.9" r="1.1"/><circle cx="58.4" cy="6.1" r="0.9"/><circle cx="63.9" cy="7.8" r="1.1"/><circle cx="0.9" cy="9.7" r="1.1"/><circle cx="7.3" cy="12.2" r="0.9"/><circle cx="8.6" cy="11.8" r="1.0"/><circle cx="13.1" cy="10.1" r="1.1"/><circle cx="22.7" cy="11.9" r="1.1"/><circle cx="26.6" cy="11.2" r="1.1"/><circle cx="30.5" cy="8.7" r="0.9"/><circle cx="34.0" cy="10.9" r="0.8"/><circle cx="41.3" cy="10.7" r="0.9"/><circle cx="48.3" cy="10.6" r="1.0"/><circle cx="53.4" cy="10.3" r="0.9"/><circle cx="54.5" cy="11.6" r="0.8"/><circle cx="60.5" cy="9.6" r="1.1"/><circle cx="-1.8" cy="14.7" r="1.1"/><circle cx="3.5" cy="14.1" r="1.0"/><circle cx="7.5" cy="13.9" r="0.9"/><circle cx="12.8" cy="15.2" r="0.9"/><circle cx="19.1" cy="16.4" r="0.9"/><circle cx="21.8" cy="15.4" r="0.8"/><circle cx="26.4" cy="15.7" r="1.1"/><circle cx="34.5" cy="17.1" r="1.0"/><circle cx="40.0" cy="13.2" r="1.1"/><circle cx="42.0" cy="13.0" r="1.0"/><circle cx="50.2" cy="14.7" r="0.9"/><circle cx="51.4" cy="13.5" r="1.2"/><circle cx="60.8" cy="13.8" r="1.1"/><circle cx="62.9" cy="17.4" r="1.1"/><circle cx="1.6" cy="18.0" r="0.9"/><circle cx="4.2" cy="18.5" r="1.2"/><circle cx="8.2" cy="17.9" r="1.1"/><circle cx="14.4" cy="20.3" r="1.0"/><circle cx="19.8" cy="19.6" r="1.1"/><circle cx="26.7" cy="19.2" r="1.0"/><circle cx="28.8" cy="19.9" r="1.2"/><circle cx="34.8" cy="19.0" r="1.0"/><circle cx="41.2" cy="18.5" r="1.1"/><circle cx="47.2" cy="20.9" r="1.2"/><circle cx="50.6" cy="21.2" r="0.8"/><circle cx="55.2" cy="20.7" r="1.0"/><circle cx="61.5" cy="20.1" r="1.1"/><circle cx="-2.3" cy="25.2" r="0.8"/><circle cx="0.5" cy="22.7" r="1.0"/><circle cx="7.6" cy="26.3" r="0.9"/><circle cx="11.2" cy="23.8" r="1.1"/><circle cx="17.3" cy="25.9" r="1.0"/><circle cx="23.8" cy="21.9" r="0.9"/><circle cx="27.1" cy="26.2" r="1.1"/><circle cx="32.1" cy="25.8" r="0.9"/><circle cx="37.7" cy="25.9" r="1.1"/><circle cx="42.2" cy="23.2" r="1.2"/><circle cx="50.8" cy="22.6" r="1.2"/><circle cx="53.2" cy="24.3" r="1.1"/><circle cx="57.7" cy="23.9" r="1.2"/><circle cx="62.2" cy="22.2" r="1.2"/><circle cx="1.7" cy="26.4" r="0.9"/><circle cx="5.1" cy="29.7" r="0.8"/><circle cx="10.8" cy="29.5" r="0.9"/><circle cx="16.7" cy="27.1" r="0.8"/><circle cx="22.8" cy="28.6" r="1.1"/><circle cx="26.5" cy="27.4" r="0.9"/><circle cx="30.7" cy="29.8" r="1.1"/><circle cx="34.9" cy="28.3" r="0.8"/><circle cx="40.3" cy="30.5" r="1.1"/><circle cx="46.0" cy="30.0" r="0.9"/><circle cx="53.3" cy="26.6" r="1.1"/><circle cx="55.7" cy="27.3" r="1.1"/><circle cx="63.0" cy="27.2" r="1.2"/><circle cx="-3.6" cy="34.7" r="0.8"/><circle cx="1.9" cy="33.6" r="1.2"/><circle cx="8.5" cy="33.5" r="0.9"/><circle cx="13.9" cy="32.7" r="1.0"/><circle cx="17.6" cy="31.0" r="0.9"/><circle cx="21.8" cy="32.3" r="0.9"/><circle cx="26.2" cy="33.2" r="0.9"/><circle cx="34.3" cy="31.9" r="0.8"/><circle cx="37.4" cy="33.4" r="0.8"/><circle cx="44.7" cy="32.6" r="1.2"/><circle cx="49.6" cy="32.3" r="1.0"/><circle cx="52.6" cy="33.3" r="1.1"/><circle cx="58.5" cy="31.5" r="0.9"/><circle cx="62.2" cy="33.2" r="0.9"/><circle cx="-1.4" cy="37.0" r="1.2"/><circle cx="3.2" cy="35.9" r="0.9"/><circle cx="8.3" cy="36.1" r="1.1"/><circle cx="13.2" cy="39.5" r="1.1"/><circle cx="22.6" cy="38.6" r="0.8"/><circle cx="26.4" cy="37.1" r="1.0"/><circle cx="32.5" cy="36.1" r="0.9"/><circle cx="36.9" cy="35.9" r="0.9"/><circle cx="42.3" cy="39.2" r="1.1"/><circle cx="45.6" cy="37.7" r="1.0"/><circle cx="52.0" cy="36.4" r="1.0"/><circle cx="57.2" cy="36.0" r="1.1"/><circle cx="63.4" cy="38.4" r="0.8"/><circle cx="-4.3" cy="40.6" r="0.9"/><circle cx="0.8" cy="42.6" r="1.0"/><circle cx="7.6" cy="42.2" r="0.8"/><circle cx="14.0" cy="40.8" r="0.9"/><circle cx="18.4" cy="41.7" r="0.9"/><circle cx="23.5" cy="43.3" r="1.1"/><circle cx="29.1" cy="40.0" r="0.9"/><circle cx="35.1" cy="43.5" r="1.1"/><circle cx="40.2" cy="40.3" r="1.0"/><circle cx="43.2" cy="40.9" r="1.1"/><circle cx="47.8" cy="40.4" r="0.9"/><circle cx="54.1" cy="43.0" r="0.9"/><circle cx="57.4" cy="41.7" r="1.2"/><circle cx="64.7" cy="42.2" r="1.1"/><circle cx="1.4" cy="44.3" r="1.0"/><circle cx="5.4" cy="46.6" r="0.8"/><circle cx="12.4" cy="45.7" r="0.9"/><circle cx="15.0" cy="45.1" r="1.1"/><circle cx="22.5" cy="44.9" r="0.9"/><circle cx="26.8" cy="46.5" r="1.1"/><circle cx="29.2" cy="47.1" r="1.2"/><circle cx="34.7" cy="47.6" r="0.8"/><circle cx="42.9" cy="46.1" r="1.1"/><circle cx="48.3" cy="48.0" r="1.0"/><circle cx="49.5" cy="47.8" r="1.0"/><circle cx="58.3" cy="44.4" r="0.8"/><circle cx="62.4" cy="46.7" r="1.2"/></g><g fill="#58659a"><circle cx="-3.9" cy="-2.5" r="0.9"/><circle cx="1.9" cy="-1.3" r="1.2"/><circle cx="5.5" cy="-2.5" r="1.0"/><circle cx="10.9" cy="-0.4" r="0.9"/><circle cx="18.0" cy="-1.9" r="1.1"/><circle cx="23.2" cy="-0.3" r="1.0"/><circle cx="28.2" cy="-3.6" r="1.3"/><circle cx="32.4" cy="-1.1" r="0.8"/><circle cx="37.0" cy="-3.3" r="1.2"/><circle cx="43.3" cy="-1.2" r="0.9"/><circle cx="46.4" cy="-2.0" r="1.3"/><circle cx="53.4" cy="-2.6" r="0.9"/><circle cx="57.4" cy="-2.6" r="0.9"/><circle cx="62.8" cy="-0.9" r="1.2"/><circle cx="-1.1" cy="3.4" r="1.0"/><circle cx="5.9" cy="3.9" r="1.2"/><circle cx="10.0" cy="2.0" r="1.0"/><circle cx="14.6" cy="1.2" r="1.1"/><circle cx="19.9" cy="1.8" r="1.3"/><circle cx="23.0" cy="2.8" r="0.8"/><circle cx="28.6" cy="0.6" r="1.2"/><circle cx="32.6" cy="3.1" r="0.8"/><circle cx="41.9" cy="0.7" r="1.1"/><circle cx="42.9" cy="1.2" r="0.9"/><circle cx="49.8" cy="3.3" r="1.3"/><circle cx="54.7" cy="2.7" r="1.2"/><circle cx="60.9" cy="4.1" r="0.9"/><circle cx="64.9" cy="1.0" r="1.1"/><circle cx="-1.0" cy="7.4" r="1.0"/><circle cx="1.0" cy="5.8" r="1.1"/><circle cx="7.4" cy="7.9" r="1.0"/><circle cx="12.7" cy="4.7" r="1.2"/><circle cx="16.7" cy="6.8" r="1.1"/><circle cx="24.4" cy="6.3" r="0.9"/><circle cx="27.0" cy="4.2" r="0.8"/><circle cx="33.8" cy="7.3" r="1.0"/><circle cx="39.4" cy="8.3" r="0.8"/><circle cx="40.2" cy="8.3" r="0.9"/><circle cx="47.7" cy="7.2" r="1.3"/><circle cx="52.3" cy="7.5" r="1.3"/><circle cx="57.1" cy="7.5" r="1.2"/><circle cx="60.8" cy="4.1" r="1.3"/><circle cx="-0.8" cy="12.1" r="0.8"/><circle cx="5.6" cy="12.3" r="0.9"/><circle cx="9.6" cy="8.3" r="1.3"/><circle cx="16.9" cy="12.6" r="1.2"/><circle cx="21.0" cy="11.8" r="1.1"/><circle cx="24.7" cy="12.0" r="1.0"/><circle cx="31.0" cy="8.7" r="1.1"/><circle cx="35.7" cy="11.6" r="1.0"/><circle cx="38.4" cy="9.7" r="1.0"/><circle cx="46.2" cy="11.9" r="1.2"/><circle cx="50.6" cy="8.5" r="1.2"/><circle cx="55.8" cy="11.7" r="1.2"/><circle cx="61.7" cy="8.6" r="0.8"/><circle cx="64.0" cy="9.4" r="1.1"/><circle cx="-4.3" cy="15.1" r="1.2"/><circle cx="1.1" cy="13.7" r="1.2"/><circle cx="7.5" cy="13.4" r="1.0"/><circle cx="14.6" cy="15.4" r="1.2"/><circle cx="16.5" cy="14.2" r="1.3"/><circle cx="23.6" cy="13.6" r="0.9"/><circle cx="26.9" cy="14.2" r="1.3"/><circle cx="31.0" cy="15.0" r="1.0"/><circle cx="38.1" cy="13.1" r="1.1"/><circle cx="42.9" cy="15.5" r="1.2"/><circle cx="46.6" cy="14.2" r="0.9"/><circle cx="53.1" cy="14.9" r="1.0"/><circle cx="55.3" cy="16.1" r="0.8"/><circle cx="64.4" cy="12.6" r="0.9"/><circle cx="-0.7" cy="20.6" r="1.0"/><circle cx="4.2" cy="19.3" r="1.1"/><circle cx="10.7" cy="21.0" r="1.3"/><circle cx="15.7" cy="17.9" r="1.0"/><circle cx="20.8" cy="19.0" r="1.3"/><circle cx="23.2" cy="18.7" r="1.0"/><circle cx="28.3" cy="16.9" r="1.0"/><circle cx="36.8" cy="17.2" r="0.8"/><circle cx="38.7" cy="20.4" r="0.9"/><circle cx="45.6" cy="18.7" r="0.9"/><circle cx="51.0" cy="20.0" r="0.9"/><circle cx="53.1" cy="18.0" r="0.9"/><circle cx="60.3" cy="18.1" r="1.0"/><circle cx="66.1" cy="17.5" r="1.3"/><circle cx="-2.9" cy="25.2" r="1.2"/><circle cx="1.8" cy="24.1" r="1.3"/><circle cx="7.5" cy="25.6" r="1.3"/><circle cx="14.5" cy="22.8" r="1.3"/><circle cx="16.2" cy="24.9" r="0.9"/><circle cx="22.5" cy="24.5" r="1.0"/><circle cx="27.4" cy="25.0" r="1.2"/><circle cx="32.7" cy="24.2" r="1.1"/><circle cx="37.2" cy="23.5" r="0.9"/><circle cx="41.5" cy="23.2" r="0.9"/><circle cx="45.4" cy="23.2" r="0.8"/><circle cx="53.2" cy="24.7" r="1.1"/><circle cx="59.1" cy="21.7" r="0.9"/><circle cx="60.8" cy="22.3" r="0.9"/><circle cx="1.0" cy="29.3" r="0.8"/><circle cx="4.4" cy="27.8" r="1.0"/><circle cx="8.1" cy="27.5" r="0.8"/><circle cx="15.7" cy="29.7" r="1.2"/><circle cx="20.9" cy="27.4" r="0.8"/><circle cx="25.9" cy="26.5" r="1.1"/><circle cx="29.7" cy="27.7" r="1.3"/><circle cx="35.6" cy="29.3" r="1.3"/><circle cx="39.1" cy="27.6" r="1.1"/><circle cx="44.1" cy="27.4" r="1.0"/><circle cx="48.3" cy="27.9" r="1.1"/><circle cx="55.0" cy="29.7" r="1.0"/><circle cx="60.5" cy="28.0" r="1.2"/><circle cx="65.6" cy="29.9" r="0.8"/><circle cx="-4.1" cy="31.1" r="1.2"/><circle cx="1.7" cy="33.4" r="1.2"/><circle cx="6.9" cy="32.0" r="0.9"/><circle cx="14.7" cy="30.4" r="1.0"/><circle cx="16.8" cy="33.3" r="1.1"/><circle cx="24.5" cy="30.4" r="1.2"/><circle cx="27.5" cy="31.2" r="0.9"/><circle cx="32.3" cy="34.1" r="1.0"/><circle cx="39.4" cy="32.5" r="1.2"/><circle cx="43.3" cy="30.3" r="1.2"/><circle cx="47.4" cy="31.4" r="0.9"/><circle cx="54.2" cy="31.5" r="0.9"/><circle cx="58.5" cy="34.3" r="1.1"/><circle cx="62.8" cy="33.0" r="1.0"/><circle cx="-0.6" cy="35.1" r="1.3"/><circle cx="3.2" cy="37.5" r="1.3"/><circle cx="9.2" cy="35.5" r="1.2"/><circle cx="14.6" cy="36.4" r="1.2"/><circle cx="21.9" cy="36.4" r="0.9"/><circle cx="26.1" cy="34.8" r="1.0"/><circle cx="31.6" cy="36.3" r="1.0"/><circle cx="36.7" cy="36.1" r="0.9"/><circle cx="37.6" cy="35.7" r="0.9"/><circle cx="44.4" cy="38.7" r="1.1"/><circle cx="48.9" cy="34.9" r="0.8"/><circle cx="53.7" cy="35.0" r="1.0"/><circle cx="58.8" cy="35.6" r="0.8"/><circle cx="64.8" cy="35.9" r="1.1"/><circle cx="-1.6" cy="41.2" r="0.9"/><circle cx="4.1" cy="41.6" r="0.8"/><circle cx="9.0" cy="42.7" r="0.9"/><circle cx="14.3" cy="41.5" r="0.8"/><circle cx="17.5" cy="41.1" r="0.9"/><circle cx="20.5" cy="42.2" r="1.0"/><circle cx="26.2" cy="40.3" r="0.8"/><circle cx="33.8" cy="40.1" r="1.3"/><circle cx="35.3" cy="42.0" r="1.2"/><circle cx="44.4" cy="40.4" r="1.0"/><circle cx="47.3" cy="43.0" r="1.0"/><circle cx="53.1" cy="40.1" r="0.9"/><circle cx="55.8" cy="40.8" r="0.9"/><circle cx="62.0" cy="39.4" r="0.9"/><circle cx="-0.8" cy="47.3" r="1.3"/><circle cx="5.4" cy="45.2" r="0.8"/><circle cx="11.7" cy="44.6" r="0.8"/><circle cx="13.6" cy="45.1" r="1.0"/><circle cx="21.7" cy="44.9" r="0.9"/><circle cx="25.3" cy="44.9" r="1.0"/><circle cx="31.6" cy="46.3" r="1.0"/><circle cx="33.2" cy="47.2" r="0.9"/><circle cx="37.9" cy="46.2" r="0.9"/><circle cx="44.5" cy="47.1" r="1.0"/><circle cx="48.7" cy="44.9" r="1.2"/><circle cx="54.3" cy="44.7" r="1.1"/><circle cx="59.2" cy="43.7" r="0.9"/><circle cx="64.3" cy="43.2" r="0.9"/><circle cx="-1.8" cy="49.6" r="0.9"/><circle cx="2.7" cy="47.4" r="1.1"/><circle cx="8.5" cy="48.5" r="0.9"/><circle cx="10.6" cy="47.4" r="1.1"/><circle cx="16.8" cy="49.4" r="0.9"/><circle cx="23.1" cy="51.1" r="0.9"/><circle cx="27.1" cy="48.4" r="1.1"/><circle cx="31.7" cy="49.2" r="1.3"/><circle cx="37.1" cy="47.9" r="1.2"/><circle cx="41.9" cy="48.4" r="0.9"/><circle cx="45.2" cy="47.6" r="1.2"/><circle cx="52.0" cy="51.0" r="0.9"/><circle cx="55.4" cy="51.1" r="0.8"/><circle cx="62.1" cy="50.5" r="1.2"/></g><g fill="#4a2812"><circle cx="-2.7" cy="-1.1" r="1.2"/><circle cx="7.3" cy="-2.3" r="1.1"/><circle cx="16.5" cy="-1.9" r="1.3"/><circle cx="27.6" cy="-0.2" r="1.0"/><circle cx="32.3" cy="-2.8" r="1.1"/><circle cx="40.5" cy="-0.3" r="1.2"/><circle cx="60.6" cy="-2.2" r="1.1"/><circle cx="17.7" cy="2.2" r="0.9"/><circle cx="20.9" cy="1.6" r="1.1"/><circle cx="23.4" cy="0.9" r="1.4"/><circle cx="37.9" cy="-0.2" r="1.4"/><circle cx="49.9" cy="1.7" r="0.9"/><circle cx="53.9" cy="2.2" r="1.4"/><circle cx="12.1" cy="5.0" r="1.0"/><circle cx="13.9" cy="2.9" r="1.2"/><circle cx="21.5" cy="5.0" r="1.3"/><circle cx="25.2" cy="5.6" r="1.0"/><circle cx="31.8" cy="4.0" r="1.1"/><circle cx="36.4" cy="2.7" r="1.1"/><circle cx="41.4" cy="3.3" r="1.4"/><circle cx="52.1" cy="5.1" r="1.1"/><circle cx="55.0" cy="5.1" r="1.4"/><circle cx="62.2" cy="4.5" r="1.3"/><circle cx="4.7" cy="7.2" r="1.4"/><circle cx="27.3" cy="7.1" r="1.3"/><circle cx="32.5" cy="6.4" r="0.9"/><circle cx="47.3" cy="6.9" r="1.3"/><circle cx="53.7" cy="7.9" r="1.0"/><circle cx="-2.7" cy="8.9" r="1.3"/><circle cx="13.0" cy="9.9" r="1.1"/><circle cx="13.9" cy="8.9" r="1.0"/><circle cx="24.5" cy="11.2" r="1.4"/><circle cx="55.1" cy="9.4" r="1.4"/><circle cx="58.6" cy="8.7" r="1.3"/><circle cx="-0.7" cy="11.8" r="1.1"/><circle cx="3.5" cy="12.3" r="1.0"/><circle cx="7.3" cy="12.2" r="1.1"/><circle cx="28.2" cy="13.4" r="1.2"/><circle cx="37.7" cy="12.1" r="1.2"/><circle cx="45.3" cy="12.4" r="0.9"/><circle cx="46.2" cy="11.6" r="1.2"/><circle cx="0.3" cy="16.0" r="1.0"/><circle cx="17.5" cy="17.5" r="1.0"/><circle cx="20.9" cy="17.5" r="1.3"/><circle cx="30.0" cy="15.2" r="1.2"/><circle cx="34.2" cy="15.1" r="1.3"/><circle cx="40.0" cy="17.1" r="0.9"/><circle cx="63.0" cy="17.3" r="1.1"/><circle cx="-0.8" cy="17.5" r="1.3"/><circle cx="15.8" cy="20.2" r="1.3"/><circle cx="33.7" cy="19.5" r="1.1"/><circle cx="40.9" cy="20.1" r="0.9"/><circle cx="44.0" cy="18.9" r="1.4"/><circle cx="54.4" cy="19.3" r="0.9"/><circle cx="58.2" cy="18.8" r="1.1"/><circle cx="62.0" cy="18.4" r="1.4"/><circle cx="20.8" cy="23.1" r="1.1"/><circle cx="24.2" cy="20.5" r="1.1"/><circle cx="35.8" cy="23.4" r="1.1"/><circle cx="46.8" cy="22.5" r="1.2"/><circle cx="56.2" cy="21.6" r="1.0"/><circle cx="7.6" cy="23.6" r="1.3"/><circle cx="14.4" cy="25.8" r="1.2"/><circle cx="19.9" cy="24.4" r="1.1"/><circle cx="23.1" cy="24.0" r="1.0"/><circle cx="40.8" cy="24.4" r="1.1"/><circle cx="48.2" cy="25.6" r="1.2"/><circle cx="2.0" cy="26.7" r="1.2"/><circle cx="8.0" cy="28.7" r="1.3"/><circle cx="19.7" cy="28.6" r="1.3"/><circle cx="22.8" cy="26.6" r="1.2"/><circle cx="38.6" cy="26.9" r="1.1"/><circle cx="41.6" cy="27.7" r="1.0"/><circle cx="46.1" cy="26.8" r="1.3"/><circle cx="53.3" cy="26.5" r="1.2"/><circle cx="55.0" cy="26.4" r="1.1"/><circle cx="5.3" cy="31.0" r="1.4"/><circle cx="23.4" cy="30.2" r="1.3"/><circle cx="27.9" cy="31.3" r="0.9"/><circle cx="53.9" cy="30.3" r="1.1"/><circle cx="-2.9" cy="35.1" r="1.2"/><circle cx="1.4" cy="35.1" r="1.3"/><circle cx="4.5" cy="34.2" r="1.1"/><circle cx="22.5" cy="33.4" r="1.2"/><circle cx="33.5" cy="34.1" r="1.3"/><circle cx="53.1" cy="33.5" r="1.4"/><circle cx="55.9" cy="34.2" r="1.0"/><circle cx="-0.4" cy="37.3" r="1.1"/><circle cx="5.5" cy="35.6" r="1.1"/><circle cx="30.6" cy="37.3" r="1.1"/><circle cx="43.7" cy="38.0" r="1.2"/><circle cx="51.1" cy="37.6" r="1.1"/><circle cx="57.6" cy="37.8" r="1.0"/><circle cx="60.6" cy="37.3" r="1.1"/><circle cx="3.6" cy="40.0" r="1.3"/><circle cx="9.9" cy="40.5" r="1.1"/><circle cx="12.7" cy="39.4" r="1.1"/><circle cx="15.5" cy="40.5" r="1.0"/><circle cx="19.4" cy="39.2" r="1.1"/><circle cx="24.1" cy="39.8" r="1.2"/><circle cx="60.5" cy="39.1" r="1.4"/><circle cx="1.0" cy="42.7" r="1.0"/><circle cx="12.4" cy="43.1" r="1.1"/><circle cx="17.4" cy="42.6" r="1.1"/><circle cx="19.2" cy="41.4" r="1.1"/><circle cx="27.9" cy="42.1" r="1.3"/><circle cx="55.2" cy="41.8" r="1.3"/><circle cx="61.9" cy="43.9" r="1.4"/><circle cx="2.5" cy="45.9" r="1.1"/><circle cx="7.0" cy="45.8" r="1.3"/><circle cx="43.1" cy="45.3" r="0.9"/><circle cx="51.9" cy="45.3" r="1.0"/><circle cx="-0.6" cy="49.0" r="1.3"/><circle cx="5.8" cy="49.8" r="1.2"/><circle cx="25.3" cy="49.6" r="1.1"/><circle cx="29.9" cy="49.4" r="1.4"/><circle cx="38.5" cy="48.2" r="1.3"/><circle cx="47.7" cy="48.5" r="1.1"/><circle cx="58.7" cy="47.5" r="0.9"/><circle cx="62.3" cy="49.4" r="1.1"/></g><g fill="#5e3618"><circle cx="3.9" cy="-0.9" r="1.2"/><circle cx="10.8" cy="-1.0" r="1.0"/><circle cx="22.8" cy="-0.4" r="1.2"/><circle cx="37.0" cy="-0.6" r="1.1"/><circle cx="43.6" cy="-2.8" r="1.0"/><circle cx="49.7" cy="-1.1" r="1.2"/><circle cx="52.0" cy="-2.8" r="1.4"/><circle cx="62.7" cy="-1.9" r="1.4"/><circle cx="0.9" cy="2.8" r="1.2"/><circle cx="5.7" cy="-0.2" r="1.2"/><circle cx="11.6" cy="0.2" r="1.0"/><circle cx="42.2" cy="0.5" r="0.9"/><circle cx="46.6" cy="0.4" r="0.9"/><circle cx="59.1" cy="0.1" r="1.3"/><circle cx="60.7" cy="2.4" r="1.3"/><circle cx="6.4" cy="4.7" r="1.3"/><circle cx="9.8" cy="4.8" r="1.2"/><circle cx="29.2" cy="5.4" r="1.1"/><circle cx="46.5" cy="4.9" r="1.1"/><circle cx="48.2" cy="5.4" r="1.4"/><circle cx="60.2" cy="4.3" r="1.3"/><circle cx="-0.7" cy="6.8" r="1.3"/><circle cx="18.0" cy="6.8" r="1.0"/><circle cx="21.5" cy="7.1" r="1.3"/><circle cx="31.9" cy="6.2" r="1.0"/><circle cx="51.6" cy="7.1" r="1.2"/><circle cx="2.8" cy="9.7" r="1.2"/><circle cx="5.3" cy="11.4" r="1.1"/><circle cx="19.3" cy="11.6" r="1.2"/><circle cx="32.1" cy="11.4" r="0.9"/><circle cx="40.5" cy="9.8" r="1.1"/><circle cx="46.6" cy="9.1" r="1.1"/><circle cx="50.5" cy="10.5" r="1.4"/><circle cx="54.1" cy="10.8" r="1.0"/><circle cx="10.0" cy="11.7" r="1.3"/><circle cx="18.3" cy="12.4" r="1.3"/><circle cx="20.8" cy="12.6" r="1.4"/><circle cx="55.8" cy="12.7" r="1.3"/><circle cx="57.5" cy="12.4" r="1.2"/><circle cx="-1.4" cy="16.4" r="1.3"/><circle cx="9.6" cy="16.8" r="1.2"/><circle cx="15.7" cy="17.4" r="1.0"/><circle cx="46.2" cy="16.3" r="1.3"/><circle cx="52.2" cy="16.1" r="1.1"/><circle cx="57.6" cy="16.0" r="1.0"/><circle cx="61.0" cy="15.3" r="1.2"/><circle cx="3.9" cy="19.6" r="1.0"/><circle cx="11.4" cy="17.5" r="1.3"/><circle cx="25.9" cy="17.9" r="1.2"/><circle cx="46.4" cy="18.3" r="0.9"/><circle cx="2.3" cy="22.8" r="1.1"/><circle cx="4.7" cy="22.8" r="1.2"/><circle cx="13.2" cy="21.2" r="0.9"/><circle cx="15.2" cy="20.6" r="1.1"/><circle cx="30.8" cy="21.6" r="1.0"/><circle cx="38.5" cy="21.5" r="1.3"/><circle cx="42.4" cy="20.5" r="1.3"/><circle cx="53.0" cy="22.8" r="1.4"/><circle cx="60.6" cy="23.3" r="1.2"/><circle cx="61.7" cy="22.2" r="1.1"/><circle cx="-0.1" cy="25.9" r="0.9"/><circle cx="10.0" cy="26.1" r="0.9"/><circle cx="25.7" cy="25.1" r="1.0"/><circle cx="30.8" cy="24.7" r="1.2"/><circle cx="44.8" cy="25.5" r="1.1"/><circle cx="50.4" cy="25.8" r="1.4"/><circle cx="53.3" cy="24.9" r="1.0"/><circle cx="60.1" cy="25.6" r="1.1"/><circle cx="-2.9" cy="28.6" r="1.3"/><circle cx="6.4" cy="29.2" r="1.3"/><circle cx="15.7" cy="26.9" r="1.3"/><circle cx="33.0" cy="29.1" r="0.9"/><circle cx="36.8" cy="27.7" r="1.1"/><circle cx="61.6" cy="28.9" r="1.0"/><circle cx="-0.6" cy="30.8" r="1.0"/><circle cx="17.4" cy="31.0" r="1.4"/><circle cx="32.9" cy="30.0" r="1.3"/><circle cx="36.1" cy="31.2" r="1.1"/><circle cx="40.5" cy="30.3" r="0.9"/><circle cx="44.3" cy="30.7" r="1.0"/><circle cx="47.6" cy="31.0" r="1.0"/><circle cx="51.3" cy="31.2" r="0.9"/><circle cx="60.9" cy="31.9" r="1.1"/><circle cx="9.1" cy="34.9" r="1.2"/><circle cx="15.8" cy="34.7" r="0.9"/><circle cx="36.6" cy="34.0" r="1.2"/><circle cx="40.5" cy="33.0" r="1.3"/><circle cx="43.8" cy="33.7" r="1.3"/><circle cx="48.4" cy="34.4" r="1.1"/><circle cx="14.9" cy="36.6" r="1.1"/><circle cx="17.5" cy="35.5" r="1.0"/><circle cx="36.4" cy="38.0" r="1.1"/><circle cx="53.3" cy="36.0" r="1.1"/><circle cx="-2.4" cy="40.0" r="0.9"/><circle cx="3.1" cy="39.1" r="1.1"/><circle cx="21.7" cy="39.5" r="1.2"/><circle cx="28.1" cy="38.6" r="1.4"/><circle cx="34.9" cy="39.0" r="1.0"/><circle cx="38.4" cy="38.4" r="1.3"/><circle cx="48.4" cy="38.6" r="1.3"/><circle cx="57.2" cy="38.8" r="1.2"/><circle cx="62.5" cy="39.7" r="1.2"/><circle cx="9.1" cy="41.5" r="1.4"/><circle cx="29.8" cy="42.5" r="1.1"/><circle cx="32.5" cy="43.4" r="1.3"/><circle cx="41.6" cy="42.7" r="1.0"/><circle cx="45.3" cy="43.5" r="1.2"/><circle cx="50.2" cy="43.4" r="1.1"/><circle cx="56.8" cy="43.3" r="1.1"/><circle cx="-2.9" cy="45.3" r="1.3"/><circle cx="5.6" cy="44.1" r="1.2"/><circle cx="10.7" cy="44.3" r="1.4"/><circle cx="23.6" cy="44.2" r="1.3"/><circle cx="30.1" cy="45.4" r="1.1"/><circle cx="33.0" cy="44.7" r="1.0"/><circle cx="36.9" cy="47.1" r="1.2"/><circle cx="44.6" cy="45.7" r="1.1"/><circle cx="50.2" cy="44.5" r="1.0"/><circle cx="57.4" cy="47.2" r="1.4"/><circle cx="58.3" cy="46.5" r="1.1"/><circle cx="63.3" cy="45.5" r="1.3"/><circle cx="4.6" cy="47.2" r="1.2"/><circle cx="17.7" cy="48.1" r="1.4"/><circle cx="33.0" cy="48.0" r="1.3"/></g><g fill="#3e2210"><circle cx="0.8" cy="-3.2" r="1.3"/><circle cx="19.3" cy="-2.0" r="1.2"/><circle cx="25.1" cy="-2.1" r="1.3"/><circle cx="46.3" cy="-0.3" r="1.2"/><circle cx="55.4" cy="-0.7" r="1.2"/><circle cx="3.2" cy="1.0" r="1.0"/><circle cx="14.8" cy="0.8" r="1.0"/><circle cx="26.7" cy="1.9" r="0.9"/><circle cx="29.9" cy="0.2" r="1.2"/><circle cx="34.3" cy="0.3" r="1.0"/><circle cx="43.0" cy="0.4" r="1.1"/><circle cx="-0.6" cy="2.7" r="1.0"/><circle cx="2.6" cy="5.2" r="1.4"/><circle cx="19.2" cy="3.7" r="1.3"/><circle cx="37.7" cy="3.1" r="1.0"/><circle cx="7.5" cy="8.2" r="1.3"/><circle cx="11.1" cy="8.5" r="0.9"/><circle cx="14.6" cy="7.5" r="1.1"/><circle cx="25.3" cy="6.3" r="1.1"/><circle cx="38.0" cy="5.8" r="1.4"/><circle cx="41.6" cy="6.8" r="1.0"/><circle cx="43.9" cy="7.3" r="1.3"/><circle cx="57.0" cy="8.1" r="1.4"/><circle cx="62.2" cy="7.0" r="1.2"/><circle cx="7.7" cy="10.3" r="1.4"/><circle cx="22.6" cy="9.6" r="1.1"/><circle cx="27.6" cy="8.9" r="1.3"/><circle cx="34.8" cy="8.6" r="1.1"/><circle cx="42.9" cy="10.5" r="1.1"/><circle cx="63.5" cy="9.4" r="1.0"/><circle cx="14.6" cy="12.6" r="1.3"/><circle cx="23.8" cy="12.4" r="1.3"/><circle cx="30.9" cy="12.8" r="1.3"/><circle cx="33.5" cy="12.5" r="1.4"/><circle cx="41.7" cy="11.9" r="1.2"/><circle cx="51.6" cy="14.3" r="1.0"/><circle cx="61.6" cy="13.8" r="1.4"/><circle cx="3.6" cy="14.6" r="1.2"/><circle cx="11.5" cy="15.7" r="1.3"/><circle cx="26.4" cy="16.8" r="1.4"/><circle cx="33.8" cy="16.1" r="1.2"/><circle cx="42.7" cy="17.0" r="1.0"/><circle cx="50.5" cy="14.9" r="1.4"/><circle cx="7.1" cy="17.7" r="1.1"/><circle cx="12.1" cy="20.1" r="1.0"/><circle cx="20.7" cy="17.5" r="0.9"/><circle cx="23.0" cy="18.5" r="0.9"/><circle cx="31.4" cy="18.4" r="1.2"/><circle cx="38.1" cy="20.2" r="1.0"/><circle cx="50.0" cy="20.4" r="1.4"/><circle cx="-0.3" cy="20.6" r="1.0"/><circle cx="9.5" cy="23.1" r="0.9"/><circle cx="19.9" cy="20.8" r="1.0"/><circle cx="29.2" cy="21.0" r="0.9"/><circle cx="48.9" cy="22.1" r="1.3"/><circle cx="3.7" cy="25.3" r="1.2"/><circle cx="18.1" cy="25.5" r="1.3"/><circle cx="33.1" cy="24.4" r="1.3"/><circle cx="37.0" cy="24.0" r="1.2"/><circle cx="58.6" cy="24.8" r="1.4"/><circle cx="12.5" cy="26.7" r="1.3"/><circle cx="26.1" cy="27.2" r="1.2"/><circle cx="28.9" cy="28.4" r="1.0"/><circle cx="48.1" cy="29.1" r="1.0"/><circle cx="60.8" cy="27.3" r="1.0"/><circle cx="2.6" cy="30.3" r="1.2"/><circle cx="9.4" cy="30.2" r="1.0"/><circle cx="13.1" cy="31.3" r="1.3"/><circle cx="21.6" cy="32.0" r="1.3"/><circle cx="32.1" cy="29.5" r="1.2"/><circle cx="56.8" cy="30.9" r="1.3"/><circle cx="13.0" cy="33.9" r="1.2"/><circle cx="18.8" cy="33.2" r="1.3"/><circle cx="24.5" cy="33.4" r="1.1"/><circle cx="28.9" cy="35.1" r="1.2"/><circle cx="45.7" cy="34.9" r="1.2"/><circle cx="58.2" cy="34.4" r="1.1"/><circle cx="61.4" cy="34.6" r="1.0"/><circle cx="2.6" cy="36.1" r="1.4"/><circle cx="8.9" cy="37.2" r="1.0"/><circle cx="21.2" cy="35.7" r="1.2"/><circle cx="23.2" cy="35.4" r="1.3"/><circle cx="27.8" cy="36.2" r="1.3"/><circle cx="34.6" cy="37.8" r="1.0"/><circle cx="41.9" cy="35.7" r="1.1"/><circle cx="46.8" cy="36.8" r="1.2"/><circle cx="32.7" cy="39.1" r="1.3"/><circle cx="43.9" cy="40.3" r="1.4"/><circle cx="45.2" cy="39.6" r="1.4"/><circle cx="52.7" cy="39.7" r="1.4"/><circle cx="3.7" cy="41.3" r="1.4"/><circle cx="7.6" cy="42.4" r="1.2"/><circle cx="24.5" cy="43.9" r="1.0"/><circle cx="35.9" cy="43.0" r="1.3"/><circle cx="46.4" cy="43.4" r="1.3"/><circle cx="16.6" cy="46.6" r="1.2"/><circle cx="18.5" cy="45.1" r="1.1"/><circle cx="26.0" cy="44.5" r="1.2"/><circle cx="37.7" cy="46.2" r="1.1"/><circle cx="8.9" cy="49.2" r="1.3"/><circle cx="13.5" cy="47.3" r="1.0"/><circle cx="21.0" cy="47.1" r="1.3"/><circle cx="27.9" cy="50.1" r="1.2"/><circle cx="39.3" cy="48.8" r="1.1"/><circle cx="43.5" cy="48.8" r="0.9"/><circle cx="49.7" cy="49.7" r="1.4"/><circle cx="55.3" cy="47.3" r="1.3"/></g></g><line x1="43.00" y1="41.00" x2="57.50" y2="41.00" stroke="#fff" stroke-width="1.8"/></svg><svg x="467.90" y="223.00" width="61.10" height="45.50" overflow="hidden"><rect x="0" y="0" width="61.10" height="45.50" fill="#b8a09c"/><rect x="0" y="0" width="61.10" height="45.50" filter="url(#tpg1)"/><line x1="43.10" y1="41.00" x2="57.60" y2="41.00" stroke="#fff" stroke-width="1.8"/></svg><svg x="342.50" y="284.20" width="61.00" height="45.80" overflow="hidden"><rect x="0" y="0" width="61.00" height="45.80" fill="#9238c0"/><rect x="0" y="0" width="61.00" height="45.80" filter="url(#the2)"/></svg><svg x="404.90" y="284.20" width="61.00" height="45.80" overflow="hidden"><g filter="url(#hblur)"><rect x="-2" y="-2" width="65.00" height="49.80" fill="#c6b6a2"/><g fill="#9a7858"><circle cx="-0.4" cy="-0.8" r="1.1"/><circle cx="2.1" cy="-4.8" r="0.9"/><circle cx="9.6" cy="-4.4" r="0.9"/><circle cx="13.6" cy="-3.4" r="1.1"/><circle cx="18.3" cy="-3.1" r="0.9"/><circle cx="23.7" cy="-3.0" r="1.0"/><circle cx="27.1" cy="-4.0" r="1.0"/><circle cx="31.2" cy="-1.2" r="0.8"/><circle cx="37.4" cy="-3.0" r="1.2"/><circle cx="44.2" cy="-2.4" r="1.1"/><circle cx="46.7" cy="-1.8" r="1.1"/><circle cx="54.5" cy="-0.7" r="1.2"/><circle cx="60.7" cy="-4.0" r="1.0"/><circle cx="62.5" cy="-4.1" r="1.0"/><circle cx="-2.0" cy="-0.1" r="0.9"/><circle cx="3.4" cy="1.8" r="1.0"/><circle cx="10.9" cy="2.1" r="1.0"/><circle cx="14.5" cy="3.5" r="1.1"/><circle cx="20.6" cy="2.0" r="1.1"/><circle cx="24.5" cy="-0.3" r="1.1"/><circle cx="29.1" cy="0.5" r="0.9"/><circle cx="37.4" cy="2.4" r="0.9"/><circle cx="41.7" cy="3.5" r="0.8"/><circle cx="48.5" cy="1.4" r="1.0"/><circle cx="49.4" cy="0.6" r="0.9"/><circle cx="56.9" cy="2.8" r="1.1"/><circle cx="61.1" cy="2.8" r="1.0"/><circle cx="-2.7" cy="7.3" r="0.8"/><circle cx="2.9" cy="5.9" r="1.0"/><circle cx="7.7" cy="5.9" r="0.9"/><circle cx="13.4" cy="8.3" r="1.0"/><circle cx="19.8" cy="4.7" r="0.9"/><circle cx="22.9" cy="4.1" r="1.0"/><circle cx="30.0" cy="5.3" r="1.0"/><circle cx="31.2" cy="4.9" r="0.9"/><circle cx="37.6" cy="7.2" r="1.1"/><circle cx="41.6" cy="5.6" r="0.9"/><circle cx="47.0" cy="5.2" r="1.1"/><circle cx="52.9" cy="7.5" r="1.1"/><circle cx="58.8" cy="6.0" r="1.2"/><circle cx="64.7" cy="5.1" r="1.0"/><circle cx="-1.8" cy="10.0" r="1.1"/><circle cx="4.2" cy="12.7" r="0.9"/><circle cx="12.4" cy="12.5" r="0.8"/><circle cx="15.7" cy="9.2" r="0.9"/><circle cx="21.9" cy="10.1" r="0.9"/><circle cx="27.4" cy="11.7" r="1.0"/><circle cx="28.8" cy="12.7" r="0.9"/><circle cx="37.9" cy="9.9" r="1.1"/><circle cx="39.4" cy="9.1" r="1.0"/><circle cx="45.8" cy="11.9" r="1.1"/><circle cx="51.4" cy="13.1" r="0.8"/><circle cx="58.5" cy="10.7" r="1.0"/><circle cx="61.5" cy="8.8" r="1.0"/><circle cx="-2.0" cy="15.7" r="1.1"/><circle cx="1.7" cy="17.1" r="1.1"/><circle cx="7.2" cy="17.4" r="1.1"/><circle cx="13.4" cy="14.4" r="1.0"/><circle cx="20.0" cy="15.6" r="1.1"/><circle cx="22.1" cy="15.3" r="1.2"/><circle cx="29.1" cy="15.8" r="1.0"/><circle cx="32.6" cy="15.6" r="1.2"/><circle cx="37.8" cy="14.1" r="1.1"/><circle cx="41.7" cy="13.5" r="0.9"/><circle cx="48.8" cy="15.4" r="0.8"/><circle cx="54.5" cy="13.3" r="1.0"/><circle cx="59.9" cy="17.2" r="0.9"/><circle cx="62.9" cy="17.5" r="1.0"/><circle cx="1.0" cy="18.5" r="1.0"/><circle cx="4.3" cy="18.5" r="0.9"/><circle cx="10.2" cy="19.7" r="0.8"/><circle cx="17.3" cy="20.0" r="1.2"/><circle cx="22.0" cy="20.0" r="0.9"/><circle cx="26.0" cy="18.5" r="1.0"/><circle cx="29.4" cy="18.8" r="0.9"/><circle cx="36.3" cy="21.4" r="0.9"/><circle cx="40.7" cy="20.9" r="1.1"/><circle cx="47.8" cy="20.5" r="1.0"/><circle cx="53.5" cy="20.7" r="0.8"/><circle cx="54.6" cy="19.7" r="0.8"/><circle cx="60.4" cy="18.3" r="0.9"/><circle cx="-3.6" cy="25.7" r="0.9"/><circle cx="2.8" cy="26.4" r="1.0"/><circle cx="7.4" cy="25.9" r="0.9"/><circle cx="10.9" cy="23.3" r="0.9"/><circle cx="18.5" cy="24.4" r="1.0"/><circle cx="23.4" cy="23.2" r="1.2"/><circle cx="26.1" cy="25.6" r="0.9"/><circle cx="33.5" cy="26.5" r="1.0"/><circle cx="38.0" cy="23.9" r="0.8"/><circle cx="41.7" cy="25.1" r="1.1"/><circle cx="48.7" cy="26.2" r="1.0"/><circle cx="51.6" cy="22.8" r="1.1"/><circle cx="57.9" cy="24.0" r="1.1"/><circle cx="65.4" cy="22.2" r="1.0"/><circle cx="0.2" cy="28.1" r="0.9"/><circle cx="7.2" cy="30.8" r="1.1"/><circle cx="11.7" cy="29.8" r="1.0"/><circle cx="16.7" cy="27.6" r="1.1"/><circle cx="21.1" cy="27.6" r="1.2"/><circle cx="26.0" cy="29.5" r="0.8"/><circle cx="30.1" cy="28.0" r="1.1"/><circle cx="36.6" cy="30.5" r="0.9"/><circle cx="42.4" cy="27.2" r="1.1"/><circle cx="45.5" cy="30.3" r="1.1"/><circle cx="50.2" cy="28.1" r="0.8"/><circle cx="55.1" cy="29.5" r="1.0"/><circle cx="61.9" cy="30.3" r="1.0"/><circle cx="-3.3" cy="32.1" r="1.2"/><circle cx="1.9" cy="31.2" r="0.9"/><circle cx="9.9" cy="31.5" r="0.9"/><circle cx="12.7" cy="32.4" r="1.2"/><circle cx="18.8" cy="33.2" r="1.0"/><circle cx="22.7" cy="33.4" r="1.1"/><circle cx="28.4" cy="31.5" r="1.2"/><circle cx="35.1" cy="34.5" r="0.9"/><circle cx="38.6" cy="35.2" r="1.0"/><circle cx="43.6" cy="33.5" r="1.2"/><circle cx="47.7" cy="32.9" r="0.8"/><circle cx="55.8" cy="31.3" r="0.8"/><circle cx="59.0" cy="31.6" r="0.9"/><circle cx="65.6" cy="34.4" r="1.2"/><circle cx="0.9" cy="38.7" r="1.2"/><circle cx="5.4" cy="39.4" r="0.9"/><circle cx="11.5" cy="36.4" r="1.1"/><circle cx="15.7" cy="38.5" r="0.9"/><circle cx="20.5" cy="35.6" r="1.1"/><circle cx="25.6" cy="39.2" r="1.1"/><circle cx="31.5" cy="36.5" r="1.0"/><circle cx="37.0" cy="36.2" r="0.8"/><circle cx="39.3" cy="39.2" r="1.0"/><circle cx="46.9" cy="38.7" r="0.9"/><circle cx="51.0" cy="36.8" r="1.0"/><circle cx="58.6" cy="38.1" r="1.2"/><circle cx="61.9" cy="39.1" r="1.0"/><circle cx="-1.3" cy="39.9" r="1.1"/><circle cx="0.6" cy="42.3" r="1.0"/><circle cx="7.0" cy="41.1" r="1.0"/><circle cx="11.9" cy="40.0" r="0.8"/><circle cx="19.2" cy="41.7" r="1.0"/><circle cx="22.3" cy="44.1" r="1.1"/><circle cx="28.6" cy="43.2" r="0.9"/><circle cx="33.8" cy="44.0" r="1.1"/><circle cx="38.9" cy="41.1" r="1.2"/><circle cx="42.2" cy="40.6" r="1.1"/><circle cx="49.7" cy="41.0" r="1.0"/><circle cx="52.5" cy="42.3" r="0.8"/><circle cx="59.4" cy="41.3" r="1.1"/><circle cx="63.4" cy="41.6" r="1.2"/><circle cx="-1.0" cy="46.9" r="0.9"/><circle cx="4.9" cy="44.3" r="0.9"/><circle cx="8.3" cy="46.2" r="0.8"/><circle cx="14.3" cy="48.7" r="1.1"/><circle cx="18.8" cy="44.8" r="1.0"/><circle cx="24.6" cy="45.7" r="0.8"/><circle cx="29.9" cy="47.5" r="1.1"/><circle cx="35.7" cy="46.5" r="1.1"/><circle cx="40.4" cy="47.4" r="1.0"/><circle cx="46.8" cy="47.8" r="1.2"/><circle cx="51.3" cy="45.9" r="1.1"/><circle cx="55.1" cy="48.2" r="0.9"/><circle cx="61.6" cy="47.4" r="1.0"/></g><g fill="#6474aa"><circle cx="35.6" cy="-1.8" r="1.0"/><circle cx="51.9" cy="-0.3" r="1.1"/><circle cx="7.0" cy="0.9" r="1.1"/><circle cx="20.4" cy="1.5" r="0.9"/><circle cx="27.4" cy="1.3" r="0.9"/><circle cx="40.4" cy="0.9" r="0.8"/><circle cx="47.2" cy="1.0" r="1.0"/><circle cx="51.1" cy="1.5" r="0.9"/><circle cx="56.1" cy="0.8" r="1.1"/><circle cx="61.1" cy="1.9" r="1.2"/><circle cx="65.0" cy="0.4" r="1.0"/><circle cx="2.3" cy="6.0" r="0.9"/><circle cx="9.2" cy="6.4" r="1.2"/><circle cx="21.0" cy="5.0" r="0.8"/><circle cx="23.6" cy="4.4" r="1.3"/><circle cx="28.9" cy="5.0" r="1.0"/><circle cx="37.2" cy="4.2" r="1.1"/><circle cx="46.1" cy="4.9" r="0.9"/><circle cx="6.0" cy="8.0" r="1.0"/><circle cx="45.4" cy="8.6" r="1.0"/><circle cx="53.6" cy="7.1" r="0.8"/><circle cx="19.7" cy="12.8" r="1.0"/><circle cx="25.3" cy="13.0" r="0.9"/><circle cx="35.3" cy="12.1" r="1.2"/><circle cx="40.5" cy="10.7" r="0.8"/><circle cx="46.9" cy="12.4" r="1.1"/><circle cx="51.8" cy="9.9" r="1.2"/><circle cx="62.3" cy="11.7" r="1.1"/><circle cx="1.1" cy="14.2" r="1.3"/><circle cx="3.8" cy="13.1" r="0.9"/><circle cx="7.8" cy="15.0" r="0.9"/><circle cx="14.6" cy="14.7" r="0.9"/><circle cx="23.2" cy="15.6" r="1.1"/><circle cx="25.0" cy="14.4" r="0.9"/><circle cx="31.3" cy="15.9" r="0.8"/><circle cx="35.5" cy="13.7" r="1.1"/><circle cx="36.6" cy="15.1" r="1.1"/><circle cx="57.1" cy="14.4" r="1.3"/><circle cx="65.0" cy="15.1" r="1.2"/><circle cx="-3.2" cy="19.5" r="0.9"/><circle cx="4.2" cy="18.5" r="1.2"/><circle cx="22.5" cy="18.4" r="0.8"/><circle cx="43.5" cy="17.1" r="1.3"/><circle cx="47.7" cy="18.0" r="1.0"/><circle cx="55.1" cy="18.5" r="1.2"/><circle cx="11.5" cy="22.4" r="1.1"/><circle cx="14.7" cy="22.2" r="1.1"/><circle cx="57.8" cy="20.5" r="0.9"/><circle cx="60.6" cy="19.7" r="0.8"/><circle cx="5.0" cy="25.1" r="0.9"/><circle cx="8.7" cy="25.0" r="0.9"/><circle cx="13.4" cy="23.5" r="1.1"/><circle cx="18.4" cy="25.1" r="0.9"/><circle cx="20.2" cy="26.2" r="1.1"/><circle cx="30.2" cy="25.5" r="1.3"/><circle cx="39.5" cy="23.4" r="0.8"/><circle cx="47.6" cy="26.0" r="1.1"/><circle cx="59.7" cy="23.0" r="0.9"/><circle cx="6.3" cy="28.4" r="1.2"/><circle cx="21.4" cy="26.8" r="1.1"/><circle cx="37.4" cy="28.9" r="1.2"/><circle cx="48.9" cy="28.1" r="1.2"/><circle cx="28.1" cy="31.9" r="0.9"/><circle cx="48.5" cy="29.6" r="0.9"/><circle cx="61.5" cy="32.4" r="1.1"/><circle cx="3.6" cy="32.9" r="1.1"/><circle cx="22.4" cy="33.7" r="1.1"/><circle cx="30.9" cy="32.9" r="1.1"/><circle cx="-2.1" cy="38.4" r="1.0"/><circle cx="19.6" cy="36.2" r="1.2"/><circle cx="35.6" cy="38.4" r="1.2"/><circle cx="42.2" cy="38.9" r="0.8"/><circle cx="53.9" cy="38.0" r="0.8"/><circle cx="-1.2" cy="39.8" r="0.9"/><circle cx="3.6" cy="42.5" r="0.9"/><circle cx="9.8" cy="40.6" r="1.3"/><circle cx="14.1" cy="41.1" r="0.9"/><circle cx="19.5" cy="42.7" r="0.9"/><circle cx="27.9" cy="41.6" r="1.2"/><circle cx="63.7" cy="39.9" r="1.2"/><circle cx="3.2" cy="44.1" r="1.1"/><circle cx="8.4" cy="43.7" r="1.2"/><circle cx="18.0" cy="45.6" r="0.8"/><circle cx="37.6" cy="45.4" r="1.2"/><circle cx="44.5" cy="42.9" r="1.1"/><circle cx="10.7" cy="47.0" r="0.8"/><circle cx="19.1" cy="47.1" r="0.9"/><circle cx="26.9" cy="47.3" r="1.0"/><circle cx="30.1" cy="47.8" r="1.1"/><circle cx="57.6" cy="48.4" r="1.0"/></g><g fill="#5a6aa4"><circle cx="9.8" cy="-0.9" r="1.2"/><circle cx="14.6" cy="-2.6" r="1.3"/><circle cx="18.1" cy="-2.4" r="1.1"/><circle cx="21.8" cy="-0.9" r="1.2"/><circle cx="39.2" cy="-2.4" r="0.8"/><circle cx="43.1" cy="-1.8" r="0.9"/><circle cx="59.4" cy="-1.1" r="1.2"/><circle cx="9.7" cy="0.3" r="0.8"/><circle cx="33.3" cy="2.1" r="1.2"/><circle cx="51.7" cy="1.6" r="1.0"/><circle cx="-3.4" cy="4.2" r="1.0"/><circle cx="4.4" cy="4.0" r="1.2"/><circle cx="31.2" cy="3.8" r="1.0"/><circle cx="41.7" cy="5.5" r="0.8"/><circle cx="45.3" cy="6.2" r="1.2"/><circle cx="51.5" cy="5.6" r="1.3"/><circle cx="54.9" cy="3.8" r="0.9"/><circle cx="58.2" cy="6.4" r="1.1"/><circle cx="14.7" cy="8.3" r="1.2"/><circle cx="17.7" cy="6.5" r="1.1"/><circle cx="21.2" cy="7.1" r="1.3"/><circle cx="26.0" cy="7.9" r="1.3"/><circle cx="30.6" cy="8.3" r="1.2"/><circle cx="49.8" cy="6.9" r="0.9"/><circle cx="58.0" cy="8.9" r="0.9"/><circle cx="60.5" cy="9.7" r="1.2"/><circle cx="64.9" cy="9.1" r="1.0"/><circle cx="-0.6" cy="12.5" r="1.1"/><circle cx="14.2" cy="9.9" r="1.1"/><circle cx="16.7" cy="12.8" r="1.2"/><circle cx="27.0" cy="10.5" r="0.8"/><circle cx="10.1" cy="14.2" r="1.0"/><circle cx="44.7" cy="15.9" r="1.1"/><circle cx="53.4" cy="14.6" r="1.2"/><circle cx="62.4" cy="14.5" r="0.8"/><circle cx="3.2" cy="17.3" r="1.2"/><circle cx="10.8" cy="16.6" r="1.1"/><circle cx="12.5" cy="19.3" r="1.1"/><circle cx="25.3" cy="19.6" r="1.2"/><circle cx="28.6" cy="17.4" r="1.1"/><circle cx="35.8" cy="16.8" r="1.0"/><circle cx="50.3" cy="16.4" r="0.9"/><circle cx="57.4" cy="18.9" r="0.9"/><circle cx="2.7" cy="21.6" r="0.9"/><circle cx="22.4" cy="21.4" r="1.2"/><circle cx="28.9" cy="21.6" r="1.1"/><circle cx="35.9" cy="21.0" r="1.0"/><circle cx="46.1" cy="21.9" r="1.1"/><circle cx="50.0" cy="20.2" r="1.2"/><circle cx="64.9" cy="20.7" r="1.1"/><circle cx="-0.4" cy="24.9" r="1.2"/><circle cx="33.0" cy="25.1" r="1.1"/><circle cx="49.8" cy="23.9" r="1.3"/><circle cx="62.8" cy="23.3" r="0.9"/><circle cx="0.2" cy="28.4" r="0.9"/><circle cx="12.9" cy="29.5" r="1.2"/><circle cx="26.5" cy="26.5" r="1.3"/><circle cx="29.5" cy="28.3" r="1.1"/><circle cx="34.4" cy="27.0" r="1.1"/><circle cx="57.7" cy="28.1" r="0.9"/><circle cx="62.4" cy="29.1" r="0.8"/><circle cx="66.3" cy="26.4" r="1.1"/><circle cx="10.6" cy="29.7" r="1.2"/><circle cx="34.7" cy="32.9" r="0.8"/><circle cx="40.3" cy="30.1" r="1.1"/><circle cx="44.3" cy="32.3" r="1.1"/><circle cx="50.6" cy="29.9" r="1.0"/><circle cx="58.4" cy="31.8" r="0.9"/><circle cx="1.3" cy="33.8" r="1.1"/><circle cx="6.8" cy="35.6" r="0.9"/><circle cx="10.2" cy="34.6" r="1.3"/><circle cx="45.7" cy="34.5" r="1.1"/><circle cx="50.0" cy="34.8" r="0.8"/><circle cx="54.3" cy="34.7" r="0.9"/><circle cx="55.8" cy="35.4" r="1.1"/><circle cx="1.7" cy="38.2" r="0.9"/><circle cx="7.4" cy="36.6" r="0.8"/><circle cx="23.1" cy="37.9" r="1.2"/><circle cx="47.8" cy="37.3" r="1.2"/><circle cx="8.2" cy="40.9" r="1.1"/><circle cx="23.0" cy="39.8" r="1.2"/><circle cx="32.1" cy="39.7" r="0.8"/><circle cx="35.8" cy="41.4" r="1.3"/><circle cx="38.1" cy="40.2" r="0.9"/><circle cx="42.6" cy="42.5" r="0.8"/><circle cx="44.2" cy="39.9" r="0.9"/><circle cx="49.1" cy="41.2" r="0.9"/><circle cx="56.8" cy="39.4" r="1.1"/><circle cx="61.2" cy="40.6" r="1.2"/><circle cx="6.6" cy="43.4" r="1.3"/><circle cx="14.4" cy="45.9" r="1.1"/><circle cx="19.5" cy="45.0" r="1.2"/><circle cx="25.9" cy="43.8" r="1.0"/><circle cx="28.2" cy="45.8" r="1.0"/><circle cx="30.9" cy="43.9" r="1.1"/><circle cx="39.8" cy="45.7" r="1.0"/><circle cx="48.1" cy="42.9" r="1.1"/><circle cx="53.8" cy="43.2" r="0.9"/><circle cx="58.8" cy="45.9" r="1.1"/><circle cx="22.5" cy="46.8" r="1.1"/><circle cx="37.4" cy="46.0" r="0.9"/><circle cx="45.1" cy="47.5" r="1.1"/><circle cx="52.4" cy="48.4" r="1.1"/><circle cx="65.8" cy="47.2" r="1.0"/></g><g fill="#7482b4"><circle cx="-0.8" cy="-1.0" r="0.9"/><circle cx="1.3" cy="-1.2" r="1.3"/><circle cx="7.4" cy="-2.6" r="1.0"/><circle cx="23.9" cy="-1.4" r="0.8"/><circle cx="30.1" cy="-1.0" r="1.1"/><circle cx="33.1" cy="-1.4" r="1.1"/><circle cx="46.6" cy="-0.5" r="0.9"/><circle cx="55.8" cy="-0.5" r="1.3"/><circle cx="61.6" cy="-0.9" r="0.8"/><circle cx="1.7" cy="2.3" r="1.2"/><circle cx="4.1" cy="0.9" r="0.8"/><circle cx="14.2" cy="2.0" r="1.0"/><circle cx="23.8" cy="0.5" r="1.0"/><circle cx="30.0" cy="1.0" r="1.1"/><circle cx="36.8" cy="2.1" r="1.3"/><circle cx="12.3" cy="4.4" r="1.2"/><circle cx="18.6" cy="4.0" r="0.9"/><circle cx="62.5" cy="3.2" r="1.2"/><circle cx="0.4" cy="8.7" r="1.0"/><circle cx="5.2" cy="9.1" r="1.2"/><circle cx="13.0" cy="8.9" r="0.9"/><circle cx="35.0" cy="8.4" r="1.2"/><circle cx="37.3" cy="8.6" r="1.2"/><circle cx="41.0" cy="7.6" r="1.0"/><circle cx="3.6" cy="10.0" r="1.1"/><circle cx="4.5" cy="11.5" r="1.1"/><circle cx="11.2" cy="9.8" r="1.2"/><circle cx="31.0" cy="11.8" r="1.1"/><circle cx="45.3" cy="12.0" r="1.2"/><circle cx="56.5" cy="10.0" r="1.1"/><circle cx="59.1" cy="11.8" r="1.2"/><circle cx="17.3" cy="14.7" r="1.1"/><circle cx="41.0" cy="15.1" r="1.1"/><circle cx="50.8" cy="15.6" r="1.0"/><circle cx="15.5" cy="18.1" r="0.9"/><circle cx="33.3" cy="17.9" r="0.9"/><circle cx="40.5" cy="18.9" r="0.9"/><circle cx="61.8" cy="17.3" r="1.0"/><circle cx="1.7" cy="20.8" r="1.0"/><circle cx="6.2" cy="21.4" r="0.9"/><circle cx="19.1" cy="22.9" r="0.9"/><circle cx="27.4" cy="20.7" r="1.2"/><circle cx="37.0" cy="22.6" r="1.2"/><circle cx="43.4" cy="20.1" r="0.8"/><circle cx="52.2" cy="20.4" r="1.0"/><circle cx="2.6" cy="25.0" r="0.8"/><circle cx="25.9" cy="22.9" r="1.3"/><circle cx="35.4" cy="23.1" r="1.2"/><circle cx="45.0" cy="24.7" r="0.9"/><circle cx="55.7" cy="25.3" r="0.8"/><circle cx="2.5" cy="28.7" r="0.9"/><circle cx="16.8" cy="29.2" r="1.1"/><circle cx="19.7" cy="28.8" r="1.1"/><circle cx="41.9" cy="27.9" r="1.2"/><circle cx="45.8" cy="27.8" r="1.1"/><circle cx="54.1" cy="27.2" r="0.8"/><circle cx="-1.0" cy="30.5" r="0.9"/><circle cx="3.6" cy="29.8" r="0.8"/><circle cx="4.6" cy="30.2" r="1.2"/><circle cx="14.6" cy="29.7" r="1.1"/><circle cx="16.3" cy="30.6" r="1.2"/><circle cx="21.0" cy="32.2" r="1.2"/><circle cx="23.0" cy="30.6" r="1.2"/><circle cx="32.1" cy="30.8" r="1.2"/><circle cx="56.8" cy="29.9" r="0.9"/><circle cx="14.1" cy="34.1" r="1.0"/><circle cx="20.3" cy="33.6" r="0.9"/><circle cx="26.5" cy="34.9" r="0.9"/><circle cx="32.9" cy="35.8" r="1.2"/><circle cx="37.6" cy="35.4" r="1.2"/><circle cx="40.3" cy="33.4" r="1.2"/><circle cx="60.2" cy="35.9" r="1.3"/><circle cx="63.9" cy="33.2" r="0.9"/><circle cx="11.2" cy="37.0" r="1.1"/><circle cx="15.0" cy="39.4" r="1.1"/><circle cx="18.5" cy="37.9" r="1.1"/><circle cx="29.6" cy="36.8" r="0.9"/><circle cx="32.9" cy="38.8" r="1.3"/><circle cx="38.5" cy="39.2" r="1.0"/><circle cx="52.2" cy="37.3" r="1.2"/><circle cx="60.3" cy="36.3" r="0.9"/><circle cx="63.1" cy="36.4" r="1.0"/><circle cx="52.5" cy="42.8" r="1.3"/><circle cx="-0.8" cy="42.9" r="1.3"/><circle cx="50.2" cy="45.1" r="1.3"/><circle cx="63.3" cy="45.7" r="1.1"/><circle cx="1.2" cy="47.4" r="1.1"/><circle cx="4.7" cy="47.5" r="1.2"/><circle cx="6.0" cy="46.4" r="1.0"/><circle cx="14.7" cy="46.2" r="0.8"/><circle cx="33.9" cy="46.2" r="1.1"/><circle cx="42.1" cy="46.6" r="1.1"/><circle cx="49.7" cy="48.6" r="1.2"/><circle cx="60.1" cy="46.9" r="1.2"/></g></g></svg><svg x="467.90" y="284.20" width="61.10" height="45.80" overflow="hidden"><rect x="0" y="0" width="61.10" height="45.80" fill="#bab4c8"/><rect x="0" y="0" width="61.10" height="45.80" filter="url(#tpg2)"/><ellipse cx="20.5" cy="8" rx="4.5" ry="2.8" fill="#f4f2f6"/></svg>
<text x="376.60" y="218.00" font-size="11.8" text-anchor="middle" fill="#1a1a1a" >H&amp;E</text>
<text x="433.50" y="218.00" font-size="11.8" text-anchor="middle" fill="#1a1a1a" >Ki-67</text>
<text x="497.80" y="218.00" font-size="11.8" text-anchor="middle" fill="#1a1a1a" >PGAM1</text>
<text transform="translate(336.50,246.30) rotate(-90)" font-size="11.3" text-anchor="middle" fill="#1a1a1a" >shCtrl</text>
<text transform="translate(336.50,306.00) rotate(-90)" font-size="11.3" text-anchor="middle" fill="#1a1a1a" >shPGAM1-1</text>
<line x1="583.50" y1="212.70" x2="583.50" y2="339.90" stroke="#8a8a8a" stroke-width="1.0"/>
<line x1="579.30" y1="339.90" x2="583.50" y2="339.90" stroke="#8a8a8a" stroke-width="1.0"/>
<text x="578.70" y="343.90" font-size="11.3" text-anchor="end" fill="#1a1a1a" >0.0</text>
<line x1="579.30" y1="297.50" x2="583.50" y2="297.50" stroke="#8a8a8a" stroke-width="1.0"/>
<text x="578.70" y="301.50" font-size="11.3" text-anchor="end" fill="#1a1a1a" >0.5</text>
<line x1="579.30" y1="255.10" x2="583.50" y2="255.10" stroke="#8a8a8a" stroke-width="1.0"/>
<text x="578.70" y="259.10" font-size="11.3" text-anchor="end" fill="#1a1a1a" >1.0</text>
<line x1="579.30" y1="212.70" x2="583.50" y2="212.70" stroke="#8a8a8a" stroke-width="1.0"/>
<text x="578.70" y="216.70" font-size="11.3" text-anchor="end" fill="#1a1a1a" >1.5</text>
<line x1="583.50" y1="339.90" x2="684.50" y2="339.90" stroke="#8a8a8a" stroke-width="1.0"/>
<line x1="598.60" y1="339.90" x2="598.60" y2="343.40" stroke="#8a8a8a" stroke-width="1.0"/>
<line x1="622.20" y1="339.90" x2="622.20" y2="343.40" stroke="#8a8a8a" stroke-width="1.0"/>
<line x1="645.10" y1="339.90" x2="645.10" y2="343.40" stroke="#8a8a8a" stroke-width="1.0"/>
<line x1="668.30" y1="339.90" x2="668.30" y2="343.40" stroke="#8a8a8a" stroke-width="1.0"/>
<text x="609.40" y="352.80" font-size="11.3" text-anchor="middle" fill="#1a1a1a" >Ki-67</text>
<text x="655.10" y="352.80" font-size="11.3" text-anchor="middle" fill="#1a1a1a" >PGAM1</text>
<text transform="translate(558.60,274.50) rotate(-90)" font-size="11.65" text-anchor="middle" fill="#1a1a1a" >Relative IHC staining intensity</text>
<circle cx="600.50" cy="190.00" r="3.1" fill="#1b95aa"/>
<text x="608.40" y="193.30" font-size="11.3" text-anchor="start" fill="#1a1a1a" >shCtrl</text>
<circle cx="600.50" cy="209.10" r="3.1" fill="#ef383d"/>
<text x="608.40" y="212.40" font-size="11.3" text-anchor="start" fill="#1a1a1a" >shPGAM1</text>
<path d="M598.40,245.60 V235.90 H622.60 V297.80" fill="none" stroke="#a6a6a6" stroke-width="1.0"/>
<path d="M645.10,240.00 V235.90 H668.90 V280.40" fill="none" stroke="#a6a6a6" stroke-width="1.0"/>
<text x="610.30" y="238.10" font-size="12.2" text-anchor="middle" fill="#333" >*</text>
<text x="656.10" y="238.10" font-size="12.2" text-anchor="middle" fill="#333" >*</text>
<line x1="598.90" y1="260.30" x2="598.90" y2="275.00" stroke="#93d4df" stroke-width="1.0"/>
<line x1="593.90" y1="260.30" x2="603.90" y2="260.30" stroke="#93d4df" stroke-width="1.0"/>
<line x1="593.90" y1="275.00" x2="603.90" y2="275.00" stroke="#93d4df" stroke-width="1.0"/>
<line x1="593.90" y1="268.00" x2="603.90" y2="268.00" stroke="#707070" stroke-width="1.0"/>
<circle cx="598.90" cy="255.20" r="2.7" fill="#1b95aa" stroke="#123a44" stroke-width="0.75"/>
<circle cx="603.00" cy="264.50" r="2.7" fill="#1b95aa" stroke="#123a44" stroke-width="0.75"/>
<circle cx="595.30" cy="268.00" r="2.7" fill="#1b95aa" stroke="#123a44" stroke-width="0.75"/>
<circle cx="598.90" cy="269.40" r="2.7" fill="#1b95aa" stroke="#123a44" stroke-width="0.75"/>
<circle cx="603.00" cy="276.20" r="2.7" fill="#1b95aa" stroke="#123a44" stroke-width="0.75"/>
<circle cx="595.30" cy="278.20" r="2.7" fill="#1b95aa" stroke="#123a44" stroke-width="0.75"/>
<line x1="622.20" y1="312.10" x2="622.20" y2="328.00" stroke="#f6a3a3" stroke-width="1.0"/>
<line x1="617.20" y1="312.10" x2="627.20" y2="312.10" stroke="#f6a3a3" stroke-width="1.0"/>
<line x1="617.20" y1="328.00" x2="627.20" y2="328.00" stroke="#f6a3a3" stroke-width="1.0"/>
<line x1="617.20" y1="320.30" x2="627.20" y2="320.30" stroke="#707070" stroke-width="1.0"/>
<circle cx="622.20" cy="306.10" r="2.7" fill="#ef383d" stroke="#4a1a1a" stroke-width="0.75"/>
<circle cx="618.20" cy="316.10" r="2.7" fill="#ef383d" stroke="#4a1a1a" stroke-width="0.75"/>
<circle cx="629.90" cy="319.80" r="2.7" fill="#ef383d" stroke="#4a1a1a" stroke-width="0.75"/>
<circle cx="618.20" cy="324.70" r="2.7" fill="#ef383d" stroke="#4a1a1a" stroke-width="0.75"/>
<circle cx="626.20" cy="326.20" r="2.7" fill="#ef383d" stroke="#4a1a1a" stroke-width="0.75"/>
<circle cx="622.20" cy="330.80" r="2.7" fill="#ef383d" stroke="#4a1a1a" stroke-width="0.75"/>
<line x1="645.10" y1="249.30" x2="645.10" y2="274.90" stroke="#93d4df" stroke-width="1.0"/>
<line x1="640.10" y1="249.30" x2="650.10" y2="249.30" stroke="#93d4df" stroke-width="1.0"/>
<line x1="640.10" y1="274.90" x2="650.10" y2="274.90" stroke="#93d4df" stroke-width="1.0"/>
<line x1="637.60" y1="262.50" x2="652.60" y2="262.50" stroke="#707070" stroke-width="1.0"/>
<circle cx="641.40" cy="247.50" r="2.7" fill="#1b95aa" stroke="#123a44" stroke-width="0.75"/>
<circle cx="649.10" cy="250.80" r="2.7" fill="#1b95aa" stroke="#123a44" stroke-width="0.75"/>
<circle cx="645.10" cy="255.20" r="2.7" fill="#1b95aa" stroke="#123a44" stroke-width="0.75"/>
<circle cx="641.40" cy="268.00" r="2.7" fill="#1b95aa" stroke="#123a44" stroke-width="0.75"/>
<circle cx="649.10" cy="271.30" r="2.7" fill="#1b95aa" stroke="#123a44" stroke-width="0.75"/>
<circle cx="645.10" cy="280.40" r="2.7" fill="#1b95aa" stroke="#123a44" stroke-width="0.75"/>
<line x1="668.30" y1="298.70" x2="668.30" y2="325.30" stroke="#f6a3a3" stroke-width="1.0"/>
<line x1="663.30" y1="298.70" x2="673.30" y2="298.70" stroke="#f6a3a3" stroke-width="1.0"/>
<line x1="663.30" y1="325.30" x2="673.30" y2="325.30" stroke="#f6a3a3" stroke-width="1.0"/>
<line x1="660.70" y1="312.10" x2="675.90" y2="312.10" stroke="#707070" stroke-width="1.0"/>
<circle cx="668.30" cy="286.30" r="2.7" fill="#ef383d" stroke="#4a1a1a" stroke-width="0.75"/>
<circle cx="668.30" cy="309.70" r="2.7" fill="#ef383d" stroke="#4a1a1a" stroke-width="0.75"/>
<circle cx="664.30" cy="318.00" r="2.7" fill="#ef383d" stroke="#4a1a1a" stroke-width="0.75"/>
<circle cx="672.50" cy="317.00" r="2.7" fill="#ef383d" stroke="#4a1a1a" stroke-width="0.75"/>
<circle cx="670.30" cy="318.90" r="2.7" fill="#ef383d" stroke="#4a1a1a" stroke-width="0.75"/>
<circle cx="666.50" cy="321.30" r="2.7" fill="#ef383d" stroke="#4a1a1a" stroke-width="0.75"/>
<text x="2.80" y="404.00" font-size="16" text-anchor="start" fill="#111" style="stroke-width:0.1px">F</text>
<line x1="64.20" y1="378.60" x2="77.80" y2="378.60" stroke="#93d4df" stroke-width="1.3"/>
<circle cx="71.00" cy="378.60" r="2.85" fill="#1b95aa" stroke="#123a44" stroke-width="0.85"/>
<text x="81.70" y="381.70" font-size="11.3" text-anchor="start" fill="#1a1a1a" >MOCK</text>
<line x1="64.20" y1="397.00" x2="77.80" y2="397.00" stroke="#c8aadf" stroke-width="1.3"/>
<circle cx="71.00" cy="397.00" r="2.85" fill="#6d3b99" stroke="#2c1742" stroke-width="0.85"/>
<text x="81.70" y="400.10" font-size="11.3" text-anchor="start" fill="#1a1a1a" >PGAM1</text>
<line x1="65.40" y1="411.10" x2="65.40" y2="537.60" stroke="#a9a9a9" stroke-width="1.0"/>
<line x1="61.60" y1="537.60" x2="65.40" y2="537.60" stroke="#a9a9a9" stroke-width="1.0"/>
<text x="60.00" y="541.60" font-size="11.3" text-anchor="end" fill="#1a1a1a" >250</text>
<line x1="61.60" y1="512.30" x2="65.40" y2="512.30" stroke="#a9a9a9" stroke-width="1.0"/>
<text x="60.00" y="516.30" font-size="11.3" text-anchor="end" fill="#1a1a1a" >300</text>
<line x1="61.60" y1="487.00" x2="65.40" y2="487.00" stroke="#a9a9a9" stroke-width="1.0"/>
<text x="60.00" y="491.00" font-size="11.3" text-anchor="end" fill="#1a1a1a" >350</text>
<line x1="61.60" y1="461.70" x2="65.40" y2="461.70" stroke="#a9a9a9" stroke-width="1.0"/>
<text x="60.00" y="465.70" font-size="11.3" text-anchor="end" fill="#1a1a1a" >400</text>
<line x1="61.60" y1="436.40" x2="65.40" y2="436.40" stroke="#a9a9a9" stroke-width="1.0"/>
<text x="60.00" y="440.40" font-size="11.3" text-anchor="end" fill="#1a1a1a" >450</text>
<line x1="61.60" y1="411.10" x2="65.40" y2="411.10" stroke="#a9a9a9" stroke-width="1.0"/>
<text x="60.00" y="415.10" font-size="11.3" text-anchor="end" fill="#1a1a1a" >500</text>
<line x1="65.40" y1="537.60" x2="150.70" y2="537.60" stroke="#a9a9a9" stroke-width="1.0"/>
<line x1="89.90" y1="537.60" x2="89.90" y2="541.10" stroke="#a9a9a9" stroke-width="1.0"/>
<line x1="126.60" y1="537.60" x2="126.60" y2="541.10" stroke="#a9a9a9" stroke-width="1.0"/>
<text transform="translate(31.20,476.70) rotate(-90)" font-size="12.1" text-anchor="middle" fill="#1a1a1a" >Tumor weight (mg)</text>
<path d="M89.90,466.00 V412.60 H126.60 V426.20" fill="none" stroke="#a6a6a6" stroke-width="1.0"/>
<text x="108.80" y="411.80" font-size="12.2" text-anchor="middle" fill="#333" letter-spacing="1.6">**</text>
<line x1="126.30" y1="436.30" x2="126.30" y2="473.40" stroke="#c8aadf" stroke-width="1.0"/>
<line x1="120.50" y1="436.30" x2="132.10" y2="436.30" stroke="#c8aadf" stroke-width="1.0"/>
<line x1="120.50" y1="473.40" x2="132.10" y2="473.40" stroke="#c8aadf" stroke-width="1.0"/>
<line x1="120.50" y1="454.70" x2="132.10" y2="454.70" stroke="#707070" stroke-width="1.0"/>
<circle cx="116.30" cy="430.90" r="2.7" fill="#6d3b99" stroke="#2c1742" stroke-width="0.75"/>
<circle cx="126.10" cy="436.30" r="2.7" fill="#6d3b99" stroke="#2c1742" stroke-width="0.75"/>
<circle cx="126.10" cy="455.40" r="2.7" fill="#6d3b99" stroke="#2c1742" stroke-width="0.75"/>
<circle cx="116.30" cy="461.80" r="2.7" fill="#6d3b99" stroke="#2c1742" stroke-width="0.75"/>
<circle cx="126.10" cy="462.50" r="2.7" fill="#6d3b99" stroke="#2c1742" stroke-width="0.75"/>
<circle cx="126.10" cy="482.30" r="2.7" fill="#6d3b99" stroke="#2c1742" stroke-width="0.75"/>
<line x1="89.90" y1="480.30" x2="89.90" y2="510.90" stroke="#93d4df" stroke-width="1.0"/>
<line x1="84.50" y1="480.30" x2="95.30" y2="480.30" stroke="#93d4df" stroke-width="1.0"/>
<line x1="84.50" y1="510.90" x2="95.30" y2="510.90" stroke="#93d4df" stroke-width="1.0"/>
<line x1="84.50" y1="495.70" x2="95.30" y2="495.70" stroke="#707070" stroke-width="1.0"/>
<circle cx="89.90" cy="469.80" r="2.7" fill="#1b95aa" stroke="#123a44" stroke-width="0.75"/>
<circle cx="80.10" cy="492.00" r="2.7" fill="#1b95aa" stroke="#123a44" stroke-width="0.75"/>
<circle cx="89.90" cy="489.20" r="2.7" fill="#1b95aa" stroke="#123a44" stroke-width="0.75"/>
<circle cx="89.90" cy="504.40" r="2.7" fill="#1b95aa" stroke="#123a44" stroke-width="0.75"/>
<circle cx="99.30" cy="503.90" r="2.7" fill="#1b95aa" stroke="#123a44" stroke-width="0.75"/>
<circle cx="89.90" cy="513.30" r="2.7" fill="#1b95aa" stroke="#123a44" stroke-width="0.75"/>
<text x="175.50" y="403.90" font-size="16" text-anchor="start" fill="#111" style="stroke-width:0.1px">G</text>
<rect x="231.2" y="403.9" width="34.9" height="107" fill="url(#gbox)"/>
<path d="M244.00,410.50 C245.53,409.83 248.08,409.63 250.00,409.80 C251.92,409.97 253.97,410.47 255.50,411.50 C257.03,412.53 258.57,414.33 259.20,416.00 C259.83,417.67 259.75,419.75 259.30,421.50 C258.85,423.25 257.88,425.18 256.50,426.50 C255.12,427.82 252.83,429.05 251.00,429.40 C249.17,429.75 247.12,429.33 245.50,428.60 C243.88,427.87 242.25,426.52 241.30,425.00 C240.35,423.48 239.88,421.37 239.80,419.50 C239.72,417.63 240.10,415.30 240.80,413.80 C241.50,412.30 242.47,411.17 244.00,410.50Z" fill="url(#tum)"/><circle cx="246.5" cy="416.5" r="0.7" fill="#e8c8d0" opacity="0.85"/><circle cx="251.5" cy="416.0" r="0.5" fill="#e8c8d0" opacity="0.85"/>
<path d="M240.40,475.70 C241.80,475.03 243.60,474.83 245.00,474.80 C246.40,474.77 247.23,474.53 248.80,475.50 C250.37,476.47 252.78,478.93 254.40,480.60 C256.02,482.27 257.43,483.77 258.50,485.50 C259.57,487.23 260.32,489.03 260.80,491.00 C261.28,492.97 261.62,495.55 261.40,497.30 C261.18,499.05 260.48,500.45 259.50,501.50 C258.52,502.55 257.52,503.13 255.50,503.60 C253.48,504.07 249.65,504.48 247.40,504.30 C245.15,504.12 243.47,503.63 242.00,502.50 C240.53,501.37 239.43,499.28 238.60,497.50 C237.77,495.72 237.52,493.88 237.00,491.80 C236.48,489.72 235.57,487.17 235.50,485.00 C235.43,482.83 235.78,480.35 236.60,478.80 C237.42,477.25 239.00,476.37 240.40,475.70Z" fill="url(#tum)"/><circle cx="241.8" cy="486" r="0.9" fill="#e8c8d0" opacity="0.85"/><circle cx="244.2" cy="486.5" r="0.6" fill="#e8c8d0" opacity="0.85"/><circle cx="247.5" cy="488.2" r="0.6" fill="#e8c8d0" opacity="0.85"/>
<text transform="translate(220.30,426.40) rotate(-90)" font-size="11.3" text-anchor="middle" fill="#1a1a1a" >MOCK</text>
<text transform="translate(220.30,490.00) rotate(-90)" font-size="11.3" text-anchor="middle" fill="#1a1a1a" >PGAM1-1</text>
<text x="357.50" y="403.90" font-size="16" text-anchor="start" fill="#111" style="stroke-width:0.1px">H</text>
<line x1="416.40" y1="403.60" x2="416.40" y2="526.90" stroke="#8a8a8a" stroke-width="1.0"/>
<line x1="411.50" y1="526.90" x2="416.40" y2="526.90" stroke="#8a8a8a" stroke-width="1.0"/>
<text x="411.30" y="530.90" font-size="11.6" text-anchor="end" fill="#1a1a1a" >0</text>
<line x1="411.50" y1="506.35" x2="416.40" y2="506.35" stroke="#8a8a8a" stroke-width="1.0"/>
<text x="411.30" y="510.35" font-size="11.6" text-anchor="end" fill="#1a1a1a" >100</text>
<line x1="411.50" y1="485.80" x2="416.40" y2="485.80" stroke="#8a8a8a" stroke-width="1.0"/>
<text x="411.30" y="489.80" font-size="11.6" text-anchor="end" fill="#1a1a1a" >200</text>
<line x1="411.50" y1="465.25" x2="416.40" y2="465.25" stroke="#8a8a8a" stroke-width="1.0"/>
<text x="411.30" y="469.25" font-size="11.6" text-anchor="end" fill="#1a1a1a" >300</text>
<line x1="411.50" y1="444.70" x2="416.40" y2="444.70" stroke="#8a8a8a" stroke-width="1.0"/>
<text x="411.30" y="448.70" font-size="11.6" text-anchor="end" fill="#1a1a1a" >400</text>
<line x1="411.50" y1="424.15" x2="416.40" y2="424.15" stroke="#8a8a8a" stroke-width="1.0"/>
<text x="411.30" y="428.15" font-size="11.6" text-anchor="end" fill="#1a1a1a" >500</text>
<line x1="411.50" y1="403.60" x2="416.40" y2="403.60" stroke="#8a8a8a" stroke-width="1.0"/>
<text x="411.30" y="407.60" font-size="11.6" text-anchor="end" fill="#1a1a1a" >600</text>
<line x1="416.40" y1="526.90" x2="633.10" y2="526.90" stroke="#8a8a8a" stroke-width="1.0"/>
<line x1="437.70" y1="526.90" x2="437.70" y2="530.40" stroke="#8a8a8a" stroke-width="1.0"/>
<line x1="481.10" y1="526.90" x2="481.10" y2="530.40" stroke="#8a8a8a" stroke-width="1.0"/>
<line x1="524.50" y1="526.90" x2="524.50" y2="530.40" stroke="#8a8a8a" stroke-width="1.0"/>
<line x1="567.90" y1="526.90" x2="567.90" y2="530.40" stroke="#8a8a8a" stroke-width="1.0"/>
<line x1="611.30" y1="526.90" x2="611.30" y2="530.40" stroke="#8a8a8a" stroke-width="1.0"/>
<text x="437.70" y="541.30" font-size="11.3" text-anchor="middle" fill="#1a1a1a" >1</text>
<text x="481.10" y="541.30" font-size="11.3" text-anchor="middle" fill="#1a1a1a" >2</text>
<text x="524.50" y="541.30" font-size="11.3" text-anchor="middle" fill="#1a1a1a" >3</text>
<text x="567.90" y="541.30" font-size="11.3" text-anchor="middle" fill="#1a1a1a" >4</text>
<text x="611.30" y="541.30" font-size="11.3" text-anchor="middle" fill="#1a1a1a" >5</text>
<text transform="translate(383.70,464.90) rotate(-90)" font-size="11.85" text-anchor="middle" fill="#1a1a1a" >Tumor volume (mm3)</text>
<line x1="447.50" y1="410.80" x2="461.10" y2="410.80" stroke="#5bc0d0" stroke-width="1.3"/>
<circle cx="454.30" cy="410.80" r="2.85" fill="#1b95aa" stroke="#123a44" stroke-width="0.85"/>
<text x="464.30" y="413.90" font-size="11.3" text-anchor="start" fill="#1a1a1a" >MOCK</text>
<line x1="447.50" y1="428.50" x2="461.10" y2="428.50" stroke="#b48fd0" stroke-width="1.3"/>
<circle cx="454.30" cy="428.50" r="2.85" fill="#6d3b99" stroke="#2c1742" stroke-width="0.85"/>
<text x="464.30" y="431.60" font-size="11.3" text-anchor="start" fill="#1a1a1a" >PGAM1</text>
<path d="M437.70,524.60 C444.93,523.13 466.63,520.48 481.10,515.80 C495.57,511.12 510.03,505.13 524.50,496.50 C538.97,487.87 553.43,477.30 567.90,464.00 C582.37,450.70 604.07,424.58 611.30,416.70" fill="none" stroke="#b48fd0" stroke-width="1.0"/>
<path d="M437.70,524.80 C444.93,523.48 466.63,521.28 481.10,516.90 C495.57,512.52 510.03,505.75 524.50,498.50 C538.97,491.25 553.43,482.62 567.90,473.40 C582.37,464.18 604.07,448.23 611.30,443.20" fill="none" stroke="#5bc0d0" stroke-width="1.0"/>
<line x1="611.30" y1="405.40" x2="611.30" y2="428.00" stroke="#b48fd0" stroke-width="1.0"/>
<line x1="608.70" y1="405.40" x2="613.90" y2="405.40" stroke="#b48fd0" stroke-width="1.0"/>
<line x1="608.70" y1="428.00" x2="613.90" y2="428.00" stroke="#b48fd0" stroke-width="1.0"/>
<line x1="567.90" y1="456.70" x2="567.90" y2="470.00" stroke="#b48fd0" stroke-width="1.0"/>
<line x1="565.30" y1="456.70" x2="570.50" y2="456.70" stroke="#b48fd0" stroke-width="1.0"/>
<line x1="565.30" y1="470.00" x2="570.50" y2="470.00" stroke="#b48fd0" stroke-width="1.0"/>
<line x1="611.30" y1="438.30" x2="611.30" y2="447.80" stroke="#5bc0d0" stroke-width="1.0"/>
<line x1="608.70" y1="438.30" x2="613.90" y2="438.30" stroke="#5bc0d0" stroke-width="1.0"/>
<line x1="608.70" y1="447.80" x2="613.90" y2="447.80" stroke="#5bc0d0" stroke-width="1.0"/>
<line x1="567.90" y1="469.40" x2="567.90" y2="480.20" stroke="#5bc0d0" stroke-width="1.0"/>
<line x1="565.30" y1="469.40" x2="570.50" y2="469.40" stroke="#5bc0d0" stroke-width="1.0"/>
<line x1="565.30" y1="480.20" x2="570.50" y2="480.20" stroke="#5bc0d0" stroke-width="1.0"/>
<line x1="524.50" y1="494.00" x2="524.50" y2="500.50" stroke="#5bc0d0" stroke-width="1.0"/>
<line x1="521.90" y1="494.00" x2="527.10" y2="494.00" stroke="#5bc0d0" stroke-width="1.0"/>
<line x1="521.90" y1="500.50" x2="527.10" y2="500.50" stroke="#5bc0d0" stroke-width="1.0"/>
<circle cx="481.10" cy="516.50" r="2.9" fill="#6d3b99" stroke="#2c1742" stroke-width="0.85"/>
<circle cx="524.50" cy="490.90" r="2.9" fill="#6d3b99" stroke="#2c1742" stroke-width="0.85"/>
<circle cx="567.90" cy="464.00" r="2.9" fill="#6d3b99" stroke="#2c1742" stroke-width="0.85"/>
<circle cx="611.30" cy="416.70" r="2.9" fill="#6d3b99" stroke="#2c1742" stroke-width="0.85"/>
<circle cx="437.70" cy="526.70" r="2.9" fill="#1b95aa" stroke="#123a44" stroke-width="0.85"/>
<circle cx="481.10" cy="517.70" r="2.9" fill="#1b95aa" stroke="#123a44" stroke-width="0.85"/>
<circle cx="524.50" cy="496.20" r="2.9" fill="#1b95aa" stroke="#123a44" stroke-width="0.85"/>
<circle cx="567.90" cy="473.40" r="2.9" fill="#1b95aa" stroke="#123a44" stroke-width="0.85"/>
<circle cx="611.30" cy="443.20" r="2.9" fill="#1b95aa" stroke="#123a44" stroke-width="0.85"/>
<text x="612.70" y="462.30" font-size="12.2" text-anchor="middle" fill="#333" letter-spacing="1.6">**</text>
<text x="3.20" y="556.20" font-size="16" text-anchor="start" fill="#111" style="stroke-width:0.1px">I</text>
<svg x="19.90" y="573.30" width="42.60" height="78.50" overflow="hidden"><rect x="0" y="0" width="42.60" height="78.50" fill="#3a3a3a"/><rect x="0" y="0" width="42.60" height="78.50" filter="url(#bgn)"/><line x1="0" y1="10.2" x2="42.6" y2="10.2" stroke="#2a2a2a" stroke-width="0.9"/><line x1="0" y1="35.3" x2="42.6" y2="35.3" stroke="#2a2a2a" stroke-width="0.9"/><line x1="0" y1="61.2" x2="42.6" y2="61.2" stroke="#2a2a2a" stroke-width="0.9"/><line x1="35.4" y1="0" x2="35.4" y2="78.5" stroke="#2c2c2c" stroke-width="0.8"/><g transform="translate(-3.8,-0.9) scale(1.09,1.19)"><use href="#mouse"/><use href="#mouse" filter="url(#mnoise)"/></g><line x1="0" y1="72.2" x2="42.6" y2="72.2" stroke="#2a2a2a" stroke-width="0.7"/><g transform="translate(15.6,35.6) rotate(0)"><ellipse cx="0.00" cy="0.00" rx="2.50" ry="3.10" fill="#3a1ccc"/><ellipse cx="0.00" cy="0.00" rx="2.05" ry="2.54" fill="#1e4ff0"/><ellipse cx="0.00" cy="0.16" rx="1.55" ry="1.92" fill="#3ad83a"/><ellipse cx="0.12" cy="0.25" rx="1.00" ry="1.24" fill="#e4e020"/><ellipse cx="0.12" cy="0.31" rx="0.55" ry="0.68" fill="#e8201c"/></g></svg><svg x="65.00" y="573.30" width="43.00" height="78.50" overflow="hidden"><rect x="0" y="0" width="43.00" height="78.50" fill="#3a3a3a"/><rect x="0" y="0" width="43.00" height="78.50" filter="url(#bgn)"/><line x1="0" y1="10.2" x2="43.0" y2="10.2" stroke="#2a2a2a" stroke-width="0.9"/><line x1="0" y1="35.3" x2="43.0" y2="35.3" stroke="#2a2a2a" stroke-width="0.9"/><line x1="0" y1="61.2" x2="43.0" y2="61.2" stroke="#2a2a2a" stroke-width="0.9"/><line x1="35.7" y1="0" x2="35.7" y2="78.5" stroke="#2c2c2c" stroke-width="0.8"/><g transform="translate(-2.2,-0.4) scale(1.09,1.22)"><use href="#mouse"/><use href="#mouse" filter="url(#mnoise)"/></g><line x1="0" y1="72.2" x2="43.0" y2="72.2" stroke="#2a2a2a" stroke-width="0.7"/><g transform="translate(21.6,32.3) rotate(0)"><ellipse cx="0.00" cy="0.00" rx="3.40" ry="5.00" fill="#3a1ccc"/><ellipse cx="0.00" cy="0.00" rx="2.89" ry="4.25" fill="#1e4ff0"/><ellipse cx="0.00" cy="0.00" rx="2.31" ry="3.40" fill="#3ad83a"/><ellipse cx="0.00" cy="0.00" rx="1.70" ry="2.50" fill="#e4e020"/><ellipse cx="0.00" cy="0.00" rx="1.19" ry="1.75" fill="#e8201c"/></g></svg><svg x="110.60" y="573.30" width="42.30" height="78.50" overflow="hidden"><rect x="0" y="0" width="42.30" height="78.50" fill="#3a3a3a"/><rect x="0" y="0" width="42.30" height="78.50" filter="url(#bgn)"/><line x1="0" y1="10.2" x2="42.3" y2="10.2" stroke="#2a2a2a" stroke-width="0.9"/><line x1="0" y1="35.3" x2="42.3" y2="35.3" stroke="#2a2a2a" stroke-width="0.9"/><line x1="0" y1="61.2" x2="42.3" y2="61.2" stroke="#2a2a2a" stroke-width="0.9"/><line x1="35.1" y1="0" x2="35.1" y2="78.5" stroke="#2c2c2c" stroke-width="0.8"/><rect x="39.1" y="0" width="2.2" height="78.5" fill="#7a7a7a" opacity="0.8"/><g transform="translate(-0.5,-1.4) scale(0.9,1.24)"><use href="#mouse"/><use href="#mouse" filter="url(#mnoise)"/></g><line x1="0" y1="72.2" x2="42.3" y2="72.2" stroke="#2a2a2a" stroke-width="0.7"/><rect x="8.9" y="25.6" width="15.6" height="25.6" rx="5" ry="4" fill="#2a3cc8"/><rect x="9.7" y="26.4" width="14" height="24" rx="4.5" ry="3.5" fill="#1e50e0"/><g transform="translate(16.7,33.8) rotate(0)"><ellipse cx="0.00" cy="0.00" rx="6.00" ry="6.40" fill="#22d8f0"/><ellipse cx="0.00" cy="0.00" rx="5.10" ry="5.44" fill="#3ad83a"/><ellipse cx="0.00" cy="0.00" rx="3.30" ry="3.52" fill="#e4e020"/><ellipse cx="0.00" cy="0.00" rx="1.80" ry="1.92" fill="#e8201c"/></g></svg><svg x="19.90" y="655.20" width="42.60" height="78.70" overflow="hidden"><rect x="0" y="0" width="42.60" height="78.70" fill="#3a3a3a"/><rect x="0" y="0" width="42.60" height="78.70" filter="url(#bgn)"/><line x1="0" y1="10.2" x2="42.6" y2="10.2" stroke="#2a2a2a" stroke-width="0.9"/><line x1="0" y1="35.4" x2="42.6" y2="35.4" stroke="#2a2a2a" stroke-width="0.9"/><line x1="0" y1="61.4" x2="42.6" y2="61.4" stroke="#2a2a2a" stroke-width="0.9"/><line x1="35.4" y1="0" x2="35.4" y2="78.7" stroke="#2c2c2c" stroke-width="0.8"/><g transform="translate(-1.3,2.3) scale(0.94,1.18)"><use href="#mouse"/><use href="#mouse" filter="url(#mnoise)"/></g><line x1="0" y1="72.4" x2="42.6" y2="72.4" stroke="#2a2a2a" stroke-width="0.7"/><g transform="translate(19.1,40.4) rotate(0)"><ellipse cx="0.00" cy="0.00" rx="2.50" ry="4.40" fill="#3a1ccc"/><ellipse cx="0.00" cy="0.00" rx="2.00" ry="3.52" fill="#1e4ff0"/><ellipse cx="0.00" cy="-0.88" rx="1.50" ry="2.64" fill="#3ad83a"/><ellipse cx="0.00" cy="-1.10" rx="1.00" ry="1.76" fill="#e8201c"/></g></svg><svg x="65.00" y="655.20" width="43.00" height="78.70" overflow="hidden"><rect x="0" y="0" width="43.00" height="78.70" fill="#3a3a3a"/><rect x="0" y="0" width="43.00" height="78.70" filter="url(#bgn)"/><line x1="0" y1="10.2" x2="43.0" y2="10.2" stroke="#2a2a2a" stroke-width="0.9"/><line x1="0" y1="35.4" x2="43.0" y2="35.4" stroke="#2a2a2a" stroke-width="0.9"/><line x1="0" y1="61.4" x2="43.0" y2="61.4" stroke="#2a2a2a" stroke-width="0.9"/><line x1="35.7" y1="0" x2="35.7" y2="78.7" stroke="#2c2c2c" stroke-width="0.8"/><g transform="translate(-3.3,-0.7) scale(1.09,1.16)"><use href="#mouse"/><use href="#mouse" filter="url(#mnoise)"/></g><line x1="0" y1="72.4" x2="43.0" y2="72.4" stroke="#2a2a2a" stroke-width="0.7"/><g transform="translate(23.4,28.7) rotate(0)"><ellipse cx="0.00" cy="0.00" rx="7.80" ry="5.00" fill="#3a1ccc"/><ellipse cx="0.00" cy="0.00" rx="6.86" ry="4.40" fill="#1e4ff0"/><ellipse cx="0.00" cy="0.00" rx="5.93" ry="3.80" fill="#22d8f0"/><ellipse cx="0.00" cy="0.00" rx="5.30" ry="3.40" fill="#3ad83a"/><ellipse cx="0.00" cy="0.00" rx="4.68" ry="3.00" fill="#e4e020"/><ellipse cx="0.00" cy="0.00" rx="4.37" ry="2.80" fill="#f08a1a"/><ellipse cx="0.39" cy="0.25" rx="4.06" ry="2.60" fill="#e8201c"/></g></svg><svg x="110.60" y="655.20" width="42.30" height="78.70" overflow="hidden"><rect x="0" y="0" width="42.30" height="78.70" fill="#3a3a3a"/><rect x="0" y="0" width="42.30" height="78.70" filter="url(#bgn)"/><line x1="0" y1="10.2" x2="42.3" y2="10.2" stroke="#2a2a2a" stroke-width="0.9"/><line x1="0" y1="35.4" x2="42.3" y2="35.4" stroke="#2a2a2a" stroke-width="0.9"/><line x1="0" y1="61.4" x2="42.3" y2="61.4" stroke="#2a2a2a" stroke-width="0.9"/><line x1="35.1" y1="0" x2="35.1" y2="78.7" stroke="#2c2c2c" stroke-width="0.8"/><rect x="39.1" y="0" width="2.2" height="78.7" fill="#7a7a7a" opacity="0.8"/><g transform="translate(-5.3,1.2) scale(1.19,1.13)"><use href="#mouse"/><use href="#mouse" filter="url(#mnoise)"/></g><line x1="0" y1="72.4" x2="42.3" y2="72.4" stroke="#2a2a2a" stroke-width="0.7"/><g transform="translate(24.5,34.9) rotate(0)"><ellipse cx="0.00" cy="0.00" rx="7.30" ry="8.40" fill="#3a1ccc"/><ellipse cx="0.00" cy="0.00" rx="6.42" ry="7.39" fill="#1e4ff0"/><ellipse cx="0.00" cy="0.00" rx="5.55" ry="6.38" fill="#22d8f0"/><ellipse cx="0.00" cy="0.00" rx="4.96" ry="5.71" fill="#3ad83a"/><ellipse cx="0.00" cy="0.00" rx="4.38" ry="5.04" fill="#e4e020"/><ellipse cx="0.00" cy="0.00" rx="4.09" ry="4.70" fill="#f08a1a"/><ellipse cx="0.36" cy="0.42" rx="3.80" ry="4.37" fill="#e8201c"/></g></svg>
<text transform="translate(13.30,603.50) rotate(-90)" font-size="11.3" text-anchor="middle" fill="#1a1a1a" >MOCK</text>
<text transform="translate(13.30,701.60) rotate(-90)" font-size="11.3" text-anchor="middle" fill="#1a1a1a" >PGAM1-1</text>
<rect x="170.8" y="604.7" width="7.9" height="101.3" fill="url(#cbar2)"/>
<text x="178.00" y="599.60" font-size="7.6" text-anchor="middle" fill="#1a1a1a" >Luminescence</text>
<line x1="178.70" y1="614.00" x2="182.00" y2="614.00" stroke="#333" stroke-width="0.8"/>
<text x="183.80" y="616.80" font-size="7.8" text-anchor="start" fill="#1a1a1a" >1000</text>
<line x1="178.70" y1="633.90" x2="182.00" y2="633.90" stroke="#333" stroke-width="0.8"/>
<text x="183.80" y="636.70" font-size="7.8" text-anchor="start" fill="#1a1a1a" >800</text>
<line x1="178.70" y1="652.80" x2="182.00" y2="652.80" stroke="#333" stroke-width="0.8"/>
<text x="183.80" y="655.60" font-size="7.8" text-anchor="start" fill="#1a1a1a" >600</text>
<line x1="178.70" y1="671.80" x2="182.00" y2="671.80" stroke="#333" stroke-width="0.8"/>
<text x="183.80" y="674.60" font-size="7.8" text-anchor="start" fill="#1a1a1a" >400</text>
<line x1="178.70" y1="690.80" x2="182.00" y2="690.80" stroke="#333" stroke-width="0.8"/>
<text x="183.80" y="693.60" font-size="7.8" text-anchor="start" fill="#1a1a1a" >200</text>
<line x1="237.90" y1="598.92" x2="237.90" y2="743.10" stroke="#8a8a8a" stroke-width="1.0"/>
<line x1="233.10" y1="743.10" x2="237.90" y2="743.10" stroke="#8a8a8a" stroke-width="1.0"/>
<text x="231.50" y="747.10" font-size="11.3" text-anchor="end" fill="#1a1a1a" >5</text>
<line x1="233.10" y1="719.07" x2="237.90" y2="719.07" stroke="#8a8a8a" stroke-width="1.0"/>
<text x="231.50" y="723.07" font-size="11.3" text-anchor="end" fill="#1a1a1a" >6</text>
<line x1="233.10" y1="695.04" x2="237.90" y2="695.04" stroke="#8a8a8a" stroke-width="1.0"/>
<text x="231.50" y="699.04" font-size="11.3" text-anchor="end" fill="#1a1a1a" >7</text>
<line x1="233.10" y1="671.01" x2="237.90" y2="671.01" stroke="#8a8a8a" stroke-width="1.0"/>
<text x="231.50" y="675.01" font-size="11.3" text-anchor="end" fill="#1a1a1a" >8</text>
<line x1="233.10" y1="646.98" x2="237.90" y2="646.98" stroke="#8a8a8a" stroke-width="1.0"/>
<text x="231.50" y="650.98" font-size="11.3" text-anchor="end" fill="#1a1a1a" >9</text>
<line x1="233.10" y1="622.95" x2="237.90" y2="622.95" stroke="#8a8a8a" stroke-width="1.0"/>
<text x="231.50" y="626.95" font-size="11.3" text-anchor="end" fill="#1a1a1a" >10</text>
<line x1="233.10" y1="598.92" x2="237.90" y2="598.92" stroke="#8a8a8a" stroke-width="1.0"/>
<text x="231.50" y="602.92" font-size="11.3" text-anchor="end" fill="#1a1a1a" >11</text>
<line x1="237.90" y1="743.10" x2="334.40" y2="743.10" stroke="#8a8a8a" stroke-width="1.0"/>
<line x1="265.20" y1="743.10" x2="265.20" y2="746.60" stroke="#8a8a8a" stroke-width="1.0"/>
<line x1="306.20" y1="743.10" x2="306.20" y2="746.60" stroke="#8a8a8a" stroke-width="1.0"/>
<text transform="translate(216.70,673.00) rotate(-90)" font-size="11.7" text-anchor="middle" fill="#1a1a1a" >Relative photon flux (%)</text>
<line x1="241.80" y1="564.40" x2="255.40" y2="564.40" stroke="#93d4df" stroke-width="1.3"/>
<circle cx="248.60" cy="564.40" r="2.85" fill="#1b95aa" stroke="#123a44" stroke-width="0.85"/>
<text x="257.20" y="567.50" font-size="11.3" text-anchor="start" fill="#1a1a1a" >MOCK</text>
<line x1="241.80" y1="583.20" x2="255.40" y2="583.20" stroke="#c8aadf" stroke-width="1.3"/>
<circle cx="248.60" cy="583.20" r="2.85" fill="#6d3b99" stroke="#2c1742" stroke-width="0.85"/>
<text x="257.20" y="586.30" font-size="11.3" text-anchor="start" fill="#1a1a1a" >PGAM1</text>
<path d="M265.20,655.10 V599.40 H306.20 V608.20" fill="none" stroke="#a6a6a6" stroke-width="1.0"/>
<text x="287.50" y="599.10" font-size="12.2" text-anchor="middle" fill="#333" letter-spacing="1.6">**</text>
<line x1="265.20" y1="665.90" x2="265.20" y2="719.50" stroke="#93d4df" stroke-width="1.0"/>
<line x1="258.40" y1="665.90" x2="272.00" y2="665.90" stroke="#93d4df" stroke-width="1.0"/>
<line x1="258.40" y1="719.50" x2="272.00" y2="719.50" stroke="#93d4df" stroke-width="1.0"/>
<line x1="258.40" y1="692.10" x2="272.00" y2="692.10" stroke="#707070" stroke-width="1.0"/>
<circle cx="265.20" cy="659.20" r="2.7" fill="#1b95aa" stroke="#123a44" stroke-width="0.75"/>
<circle cx="265.20" cy="666.70" r="2.7" fill="#1b95aa" stroke="#123a44" stroke-width="0.75"/>
<circle cx="265.20" cy="683.30" r="2.7" fill="#1b95aa" stroke="#123a44" stroke-width="0.75"/>
<circle cx="260.10" cy="698.80" r="2.7" fill="#1b95aa" stroke="#123a44" stroke-width="0.75"/>
<circle cx="270.00" cy="706.90" r="2.7" fill="#1b95aa" stroke="#123a44" stroke-width="0.75"/>
<circle cx="263.30" cy="719.50" r="2.7" fill="#1b95aa" stroke="#123a44" stroke-width="0.75"/>
<line x1="306.20" y1="623.50" x2="306.20" y2="655.10" stroke="#c8aadf" stroke-width="1.0"/>
<line x1="299.90" y1="623.50" x2="312.50" y2="623.50" stroke="#c8aadf" stroke-width="1.0"/>
<line x1="299.90" y1="655.10" x2="312.50" y2="655.10" stroke="#c8aadf" stroke-width="1.0"/>
<line x1="299.90" y1="639.10" x2="312.50" y2="639.10" stroke="#707070" stroke-width="1.0"/>
<circle cx="306.20" cy="618.20" r="2.7" fill="#6d3b99" stroke="#2c1742" stroke-width="0.75"/>
<circle cx="295.50" cy="635.00" r="2.7" fill="#6d3b99" stroke="#2c1742" stroke-width="0.75"/>
<circle cx="306.20" cy="635.00" r="2.7" fill="#6d3b99" stroke="#2c1742" stroke-width="0.75"/>
<circle cx="317.00" cy="632.40" r="2.7" fill="#6d3b99" stroke="#2c1742" stroke-width="0.75"/>
<circle cx="295.50" cy="659.20" r="2.7" fill="#6d3b99" stroke="#2c1742" stroke-width="0.75"/>
<circle cx="317.00" cy="657.00" r="2.7" fill="#6d3b99" stroke="#2c1742" stroke-width="0.75"/>
<text x="336.00" y="556.00" font-size="16" text-anchor="start" fill="#111" style="stroke-width:0.1px">J</text>
<svg x="346.90" y="595.50" width="61.30" height="48.10" overflow="hidden"><rect x="0" y="0" width="61.30" height="48.10" fill="#7a48a8"/><rect x="0" y="0" width="61.30" height="48.10" filter="url(#the3)"/><path d="M3,10 L12,8 L20,4 M26,34 L34,27 L42,22 L54,19 M36,8 L40,16 L46,12" stroke="#e078b8" stroke-width="1.0" fill="none" opacity="0.8"/><line x1="43.30" y1="43.60" x2="57.80" y2="43.60" stroke="#fff" stroke-width="1.8"/></svg><svg x="411.20" y="595.50" width="61.30" height="48.10" overflow="hidden"><g filter="url(#hblur)"><rect x="-2" y="-2" width="65.30" height="52.10" fill="#a48c72"/><g fill="#5a6a9a"><circle cx="-4.4" cy="-3.3" r="0.8"/><circle cx="1.7" cy="-1.6" r="1.1"/><circle cx="7.2" cy="-0.9" r="1.1"/><circle cx="14.3" cy="-0.3" r="0.8"/><circle cx="16.1" cy="-1.6" r="0.9"/><circle cx="20.6" cy="-2.2" r="1.3"/><circle cx="28.1" cy="-4.6" r="1.1"/><circle cx="33.5" cy="-1.5" r="1.1"/><circle cx="37.3" cy="-1.3" r="1.0"/><circle cx="44.1" cy="-0.8" r="0.9"/><circle cx="47.0" cy="-4.5" r="1.2"/><circle cx="50.1" cy="-2.9" r="1.2"/><circle cx="57.3" cy="-3.6" r="1.1"/><circle cx="60.5" cy="-3.5" r="1.3"/><circle cx="0.4" cy="3.1" r="1.0"/><circle cx="5.3" cy="2.0" r="0.8"/><circle cx="10.0" cy="3.7" r="0.9"/><circle cx="17.0" cy="-0.2" r="1.2"/><circle cx="19.7" cy="-0.3" r="1.2"/><circle cx="25.3" cy="1.9" r="1.0"/><circle cx="31.7" cy="0.4" r="0.8"/><circle cx="36.3" cy="0.1" r="1.0"/><circle cx="39.5" cy="-0.3" r="0.8"/><circle cx="43.5" cy="1.9" r="1.3"/><circle cx="50.2" cy="0.3" r="0.9"/><circle cx="53.6" cy="4.0" r="1.1"/><circle cx="58.6" cy="3.9" r="0.8"/><circle cx="65.2" cy="2.0" r="1.0"/><circle cx="-3.4" cy="7.5" r="1.1"/><circle cx="3.8" cy="7.0" r="0.8"/><circle cx="6.1" cy="5.2" r="0.9"/><circle cx="12.3" cy="8.1" r="0.8"/><circle cx="18.3" cy="5.6" r="0.9"/><circle cx="24.3" cy="7.5" r="0.9"/><circle cx="26.3" cy="6.1" r="1.2"/><circle cx="31.4" cy="4.1" r="0.9"/><circle cx="37.9" cy="7.8" r="1.1"/><circle cx="40.2" cy="6.2" r="1.2"/><circle cx="45.9" cy="4.4" r="1.2"/><circle cx="52.0" cy="5.3" r="1.1"/><circle cx="58.8" cy="7.1" r="1.1"/><circle cx="61.8" cy="4.2" r="1.0"/><circle cx="-1.8" cy="10.7" r="1.0"/><circle cx="3.4" cy="10.8" r="1.2"/><circle cx="7.7" cy="11.3" r="1.0"/><circle cx="13.6" cy="12.6" r="0.9"/><circle cx="17.7" cy="11.3" r="1.2"/><circle cx="26.9" cy="9.6" r="1.3"/><circle cx="31.7" cy="9.7" r="1.2"/><circle cx="34.3" cy="11.5" r="1.3"/><circle cx="38.8" cy="8.8" r="1.1"/><circle cx="45.3" cy="9.3" r="1.1"/><circle cx="49.6" cy="8.6" r="0.9"/><circle cx="52.6" cy="12.5" r="1.2"/><circle cx="59.1" cy="11.2" r="1.1"/><circle cx="64.3" cy="12.1" r="1.1"/><circle cx="-1.0" cy="13.3" r="0.8"/><circle cx="3.4" cy="15.7" r="0.9"/><circle cx="5.9" cy="15.5" r="1.2"/><circle cx="12.4" cy="14.9" r="1.2"/><circle cx="16.6" cy="15.9" r="1.2"/><circle cx="24.3" cy="15.8" r="0.9"/><circle cx="27.8" cy="16.5" r="1.1"/><circle cx="31.3" cy="16.4" r="1.3"/><circle cx="35.7" cy="15.4" r="1.2"/><circle cx="43.0" cy="12.7" r="1.3"/><circle cx="46.8" cy="15.2" r="1.2"/><circle cx="52.8" cy="15.9" r="1.1"/><circle cx="58.9" cy="13.7" r="0.8"/><circle cx="63.9" cy="15.7" r="1.0"/><circle cx="-1.9" cy="18.7" r="0.9"/><circle cx="4.1" cy="18.9" r="0.9"/><circle cx="11.2" cy="17.9" r="0.9"/><circle cx="13.5" cy="20.1" r="1.2"/><circle cx="22.0" cy="20.1" r="1.1"/><circle cx="25.2" cy="17.3" r="1.0"/><circle cx="28.8" cy="17.6" r="0.9"/><circle cx="34.8" cy="19.5" r="1.1"/><circle cx="41.9" cy="20.4" r="0.9"/><circle cx="46.3" cy="20.8" r="1.1"/><circle cx="48.0" cy="17.6" r="1.1"/><circle cx="53.3" cy="21.3" r="0.9"/><circle cx="59.4" cy="18.0" r="1.0"/><circle cx="66.1" cy="19.2" r="1.2"/><circle cx="-3.0" cy="23.3" r="1.2"/><circle cx="0.8" cy="21.9" r="1.2"/><circle cx="9.1" cy="25.3" r="1.3"/><circle cx="11.0" cy="22.3" r="0.9"/><circle cx="18.1" cy="21.9" r="0.9"/><circle cx="21.4" cy="22.6" r="1.1"/><circle cx="29.3" cy="24.7" r="1.0"/><circle cx="30.7" cy="23.1" r="0.9"/><circle cx="39.2" cy="22.1" r="1.0"/><circle cx="41.5" cy="23.4" r="1.0"/><circle cx="48.0" cy="23.1" r="1.1"/><circle cx="53.9" cy="24.9" r="1.2"/><circle cx="57.0" cy="21.6" r="0.9"/><circle cx="63.1" cy="22.5" r="1.2"/><circle cx="0.8" cy="29.0" r="1.1"/><circle cx="4.4" cy="26.9" r="1.3"/><circle cx="7.9" cy="29.2" r="1.0"/><circle cx="12.8" cy="28.0" r="1.2"/><circle cx="20.2" cy="25.9" r="1.2"/><circle cx="24.8" cy="28.0" r="0.9"/><circle cx="27.6" cy="26.7" r="0.8"/><circle cx="33.4" cy="29.0" r="1.0"/><circle cx="38.1" cy="27.1" r="0.8"/><circle cx="43.7" cy="25.9" r="1.2"/><circle cx="48.1" cy="29.6" r="0.9"/><circle cx="54.6" cy="30.1" r="1.3"/><circle cx="61.9" cy="28.2" r="0.9"/><circle cx="63.0" cy="29.4" r="1.2"/><circle cx="-3.5" cy="34.4" r="1.2"/><circle cx="3.1" cy="32.5" r="1.0"/><circle cx="9.0" cy="30.7" r="1.1"/><circle cx="10.4" cy="30.0" r="1.1"/><circle cx="17.4" cy="30.5" r="1.3"/><circle cx="21.4" cy="33.0" r="1.1"/><circle cx="28.1" cy="32.1" r="1.1"/><circle cx="33.2" cy="31.2" r="1.2"/><circle cx="37.8" cy="32.9" r="1.0"/><circle cx="40.2" cy="31.5" r="1.2"/><circle cx="47.8" cy="34.4" r="1.2"/><circle cx="53.9" cy="31.6" r="1.0"/><circle cx="56.9" cy="33.0" r="0.9"/><circle cx="61.1" cy="30.3" r="1.1"/><circle cx="-0.3" cy="38.1" r="1.2"/><circle cx="5.9" cy="37.7" r="1.1"/><circle cx="8.4" cy="38.4" r="0.9"/><circle cx="14.5" cy="34.4" r="1.3"/><circle cx="19.8" cy="35.9" r="1.1"/><circle cx="23.2" cy="34.3" r="0.9"/><circle cx="28.9" cy="35.3" r="0.8"/><circle cx="36.2" cy="38.4" r="1.1"/><circle cx="42.0" cy="35.7" r="1.0"/><circle cx="45.1" cy="34.5" r="0.9"/><circle cx="51.2" cy="36.1" r="0.9"/><circle cx="55.6" cy="37.7" r="1.0"/><circle cx="60.6" cy="36.1" r="0.8"/><circle cx="62.9" cy="37.5" r="1.0"/><circle cx="-0.8" cy="40.2" r="1.1"/><circle cx="1.2" cy="39.4" r="1.2"/><circle cx="8.0" cy="40.0" r="1.0"/><circle cx="10.9" cy="40.9" r="0.9"/><circle cx="19.2" cy="41.6" r="0.9"/><circle cx="21.0" cy="38.8" r="0.9"/><circle cx="25.2" cy="39.1" r="1.1"/><circle cx="34.2" cy="41.2" r="1.1"/><circle cx="37.0" cy="38.7" r="0.8"/><circle cx="40.7" cy="40.5" r="1.2"/><circle cx="45.4" cy="40.0" r="1.0"/><circle cx="50.3" cy="42.7" r="1.1"/><circle cx="57.8" cy="39.8" r="1.2"/><circle cx="62.0" cy="40.9" r="1.3"/><circle cx="1.0" cy="44.1" r="1.1"/><circle cx="5.6" cy="45.7" r="0.8"/><circle cx="11.9" cy="43.3" r="0.9"/><circle cx="16.7" cy="43.9" r="1.2"/><circle cx="20.6" cy="43.6" r="1.0"/><circle cx="22.9" cy="46.4" r="1.1"/><circle cx="29.3" cy="44.1" r="1.1"/><circle cx="34.4" cy="46.9" r="1.2"/><circle cx="38.1" cy="45.5" r="1.1"/><circle cx="43.0" cy="46.8" r="0.9"/><circle cx="49.2" cy="46.1" r="1.2"/><circle cx="53.7" cy="45.3" r="1.0"/><circle cx="59.8" cy="44.8" r="0.8"/><circle cx="65.8" cy="46.7" r="1.0"/><circle cx="-4.3" cy="50.6" r="1.1"/><circle cx="1.8" cy="47.6" r="1.2"/><circle cx="5.9" cy="50.9" r="1.1"/><circle cx="10.6" cy="49.2" r="1.0"/><circle cx="19.6" cy="49.6" r="1.0"/><circle cx="23.3" cy="49.8" r="1.2"/><circle cx="26.5" cy="48.3" r="1.0"/><circle cx="34.1" cy="47.8" r="1.1"/><circle cx="37.1" cy="49.3" r="1.3"/><circle cx="42.9" cy="49.3" r="1.2"/><circle cx="45.8" cy="47.9" r="1.2"/><circle cx="53.7" cy="48.1" r="1.1"/><circle cx="55.1" cy="47.4" r="1.3"/><circle cx="60.3" cy="49.0" r="1.1"/></g><g fill="#201208"><circle cx="3.0" cy="-2.4" r="1.5"/><circle cx="19.4" cy="-2.9" r="1.1"/><circle cx="24.4" cy="-2.5" r="1.4"/><circle cx="33.5" cy="-2.7" r="1.0"/><circle cx="43.6" cy="-1.7" r="1.5"/><circle cx="54.1" cy="-1.6" r="1.2"/><circle cx="64.5" cy="-0.5" r="1.2"/><circle cx="12.9" cy="1.1" r="1.0"/><circle cx="15.8" cy="1.8" r="1.1"/><circle cx="23.0" cy="0.6" r="1.3"/><circle cx="28.5" cy="2.3" r="1.1"/><circle cx="40.6" cy="0.0" r="0.9"/><circle cx="49.4" cy="2.6" r="1.5"/><circle cx="52.6" cy="1.5" r="1.4"/><circle cx="57.3" cy="0.6" r="1.5"/><circle cx="1.0" cy="5.2" r="1.4"/><circle cx="11.5" cy="3.6" r="1.4"/><circle cx="28.3" cy="4.1" r="1.3"/><circle cx="29.9" cy="2.9" r="1.4"/><circle cx="33.6" cy="3.1" r="1.1"/><circle cx="47.3" cy="3.5" r="1.0"/><circle cx="50.2" cy="3.6" r="1.0"/><circle cx="65.2" cy="4.0" r="1.3"/><circle cx="5.3" cy="6.7" r="1.1"/><circle cx="13.2" cy="6.1" r="1.1"/><circle cx="20.3" cy="7.5" r="1.5"/><circle cx="29.1" cy="7.3" r="1.1"/><circle cx="37.5" cy="6.6" r="1.1"/><circle cx="46.6" cy="5.7" r="1.2"/><circle cx="2.0" cy="11.0" r="1.2"/><circle cx="23.5" cy="8.6" r="1.2"/><circle cx="31.7" cy="11.0" r="1.0"/><circle cx="35.9" cy="9.8" r="1.1"/><circle cx="39.0" cy="8.9" r="1.3"/><circle cx="41.6" cy="10.8" r="1.5"/><circle cx="44.3" cy="9.9" r="0.9"/><circle cx="47.4" cy="9.5" r="1.0"/><circle cx="53.2" cy="10.4" r="1.4"/><circle cx="60.5" cy="10.5" r="1.0"/><circle cx="2.0" cy="13.5" r="1.2"/><circle cx="15.1" cy="12.8" r="1.0"/><circle cx="36.3" cy="11.7" r="1.2"/><circle cx="-0.7" cy="14.6" r="1.3"/><circle cx="2.3" cy="14.2" r="1.4"/><circle cx="9.1" cy="15.3" r="1.5"/><circle cx="14.7" cy="15.1" r="1.3"/><circle cx="22.6" cy="16.7" r="1.3"/><circle cx="25.6" cy="15.3" r="1.0"/><circle cx="31.2" cy="14.9" r="1.0"/><circle cx="38.1" cy="14.3" r="1.4"/><circle cx="42.1" cy="16.4" r="1.0"/><circle cx="48.8" cy="14.7" r="1.1"/><circle cx="60.0" cy="15.1" r="1.0"/><circle cx="4.4" cy="18.8" r="1.0"/><circle cx="15.5" cy="18.7" r="1.1"/><circle cx="23.1" cy="17.0" r="1.1"/><circle cx="29.9" cy="19.6" r="1.0"/><circle cx="44.2" cy="17.0" r="1.0"/><circle cx="44.8" cy="17.7" r="1.0"/><circle cx="51.4" cy="19.5" r="1.2"/><circle cx="60.6" cy="18.4" r="0.9"/><circle cx="0.3" cy="21.9" r="1.4"/><circle cx="9.4" cy="22.0" r="1.5"/><circle cx="14.7" cy="21.2" r="0.9"/><circle cx="19.1" cy="20.7" r="1.2"/><circle cx="23.4" cy="21.8" r="1.5"/><circle cx="28.8" cy="21.6" r="1.0"/><circle cx="38.9" cy="20.1" r="1.4"/><circle cx="44.3" cy="20.6" r="1.2"/><circle cx="53.0" cy="21.1" r="1.5"/><circle cx="58.1" cy="21.2" r="1.3"/><circle cx="1.5" cy="25.5" r="1.5"/><circle cx="2.2" cy="22.7" r="0.9"/><circle cx="6.2" cy="24.3" r="1.1"/><circle cx="14.5" cy="23.6" r="1.1"/><circle cx="24.1" cy="23.1" r="1.5"/><circle cx="39.3" cy="24.4" r="1.4"/><circle cx="45.2" cy="24.4" r="1.4"/><circle cx="58.3" cy="22.9" r="1.3"/><circle cx="63.0" cy="23.7" r="1.4"/><circle cx="6.4" cy="27.2" r="1.3"/><circle cx="12.4" cy="26.0" r="1.4"/><circle cx="41.5" cy="28.0" r="1.0"/><circle cx="63.7" cy="27.2" r="1.5"/><circle cx="1.2" cy="29.4" r="1.3"/><circle cx="22.4" cy="28.6" r="1.2"/><circle cx="24.8" cy="31.0" r="1.2"/><circle cx="33.1" cy="28.5" r="1.1"/><circle cx="35.9" cy="29.9" r="1.4"/><circle cx="52.2" cy="29.4" r="1.2"/><circle cx="55.3" cy="29.6" r="1.1"/><circle cx="60.2" cy="28.7" r="1.3"/><circle cx="0.5" cy="33.1" r="1.4"/><circle cx="24.5" cy="32.2" r="1.1"/><circle cx="32.0" cy="32.2" r="1.5"/><circle cx="40.4" cy="33.2" r="1.4"/><circle cx="43.1" cy="32.7" r="1.3"/><circle cx="50.3" cy="32.9" r="1.0"/><circle cx="19.1" cy="34.4" r="1.5"/><circle cx="25.8" cy="36.2" r="1.4"/><circle cx="29.0" cy="36.0" r="1.3"/><circle cx="38.6" cy="34.3" r="1.2"/><circle cx="42.8" cy="34.2" r="1.5"/><circle cx="49.7" cy="34.8" r="1.4"/><circle cx="55.9" cy="35.9" r="1.4"/><circle cx="0.6" cy="39.1" r="1.2"/><circle cx="3.9" cy="38.1" r="1.2"/><circle cx="9.2" cy="37.3" r="0.9"/><circle cx="12.8" cy="37.6" r="1.5"/><circle cx="16.7" cy="39.0" r="1.5"/><circle cx="24.7" cy="37.9" r="1.0"/><circle cx="27.3" cy="39.0" r="1.4"/><circle cx="41.3" cy="38.4" r="1.0"/><circle cx="-0.1" cy="40.5" r="1.5"/><circle cx="6.3" cy="40.6" r="1.0"/><circle cx="10.8" cy="42.5" r="1.3"/><circle cx="13.3" cy="41.8" r="1.2"/><circle cx="40.2" cy="42.3" r="1.2"/><circle cx="43.5" cy="41.0" r="1.0"/><circle cx="61.7" cy="40.1" r="1.3"/><circle cx="-2.6" cy="45.3" r="1.3"/><circle cx="9.5" cy="44.3" r="1.5"/><circle cx="11.9" cy="44.5" r="1.3"/><circle cx="15.6" cy="45.3" r="1.1"/><circle cx="20.9" cy="44.6" r="1.5"/><circle cx="25.8" cy="45.2" r="1.0"/><circle cx="38.7" cy="44.2" r="1.1"/><circle cx="42.5" cy="44.0" r="1.0"/><circle cx="52.3" cy="45.2" r="1.1"/><circle cx="55.6" cy="44.9" r="1.4"/><circle cx="57.7" cy="44.0" r="1.2"/><circle cx="65.6" cy="43.8" r="1.5"/><circle cx="3.0" cy="46.9" r="1.2"/><circle cx="25.4" cy="45.8" r="1.1"/><circle cx="30.4" cy="47.8" r="1.4"/><circle cx="33.0" cy="47.1" r="1.2"/><circle cx="45.4" cy="47.0" r="1.2"/><circle cx="63.9" cy="47.2" r="1.3"/><circle cx="8.3" cy="51.0" r="1.0"/><circle cx="20.7" cy="48.5" r="1.4"/><circle cx="27.4" cy="49.4" r="0.9"/><circle cx="30.1" cy="49.8" r="1.2"/><circle cx="50.6" cy="50.2" r="1.0"/></g><g fill="#2e1a0c"><circle cx="-0.8" cy="-0.3" r="1.1"/><circle cx="4.7" cy="-1.0" r="1.1"/><circle cx="11.2" cy="-0.4" r="0.9"/><circle cx="20.1" cy="-1.0" r="1.3"/><circle cx="36.7" cy="-1.4" r="1.5"/><circle cx="49.1" cy="-3.0" r="1.1"/><circle cx="61.2" cy="-2.4" r="1.3"/><circle cx="0.1" cy="2.6" r="1.0"/><circle cx="5.3" cy="2.2" r="1.3"/><circle cx="9.0" cy="2.6" r="1.2"/><circle cx="26.0" cy="1.9" r="1.4"/><circle cx="31.7" cy="1.3" r="1.4"/><circle cx="44.6" cy="0.6" r="1.1"/><circle cx="57.9" cy="0.5" r="1.0"/><circle cx="62.4" cy="2.4" r="1.4"/><circle cx="5.4" cy="4.1" r="1.5"/><circle cx="18.1" cy="4.9" r="1.1"/><circle cx="20.4" cy="2.7" r="1.4"/><circle cx="40.0" cy="2.6" r="1.2"/><circle cx="44.4" cy="5.2" r="1.1"/><circle cx="57.9" cy="4.3" r="1.1"/><circle cx="-1.0" cy="6.5" r="1.3"/><circle cx="2.2" cy="6.6" r="1.1"/><circle cx="8.7" cy="7.6" r="1.1"/><circle cx="17.2" cy="6.8" r="1.2"/><circle cx="21.6" cy="6.1" r="1.4"/><circle cx="49.5" cy="5.7" r="1.5"/><circle cx="55.9" cy="5.8" r="1.4"/><circle cx="-2.3" cy="8.9" r="1.4"/><circle cx="6.8" cy="10.8" r="1.1"/><circle cx="14.5" cy="11.3" r="1.1"/><circle cx="19.2" cy="9.7" r="1.3"/><circle cx="22.7" cy="8.9" r="1.3"/><circle cx="52.2" cy="9.7" r="1.0"/><circle cx="64.2" cy="9.4" r="1.4"/><circle cx="-0.4" cy="13.3" r="1.1"/><circle cx="5.3" cy="13.0" r="1.3"/><circle cx="13.9" cy="11.3" r="1.4"/><circle cx="21.0" cy="11.2" r="0.9"/><circle cx="21.8" cy="11.2" r="1.3"/><circle cx="26.1" cy="11.9" r="1.5"/><circle cx="38.2" cy="13.6" r="1.4"/><circle cx="45.0" cy="11.8" r="0.9"/><circle cx="62.2" cy="12.4" r="1.0"/><circle cx="44.9" cy="14.1" r="1.2"/><circle cx="50.2" cy="16.6" r="1.0"/><circle cx="62.9" cy="16.4" r="1.2"/><circle cx="13.1" cy="17.7" r="1.0"/><circle cx="33.4" cy="19.0" r="1.1"/><circle cx="34.9" cy="18.6" r="1.2"/><circle cx="49.4" cy="17.1" r="1.3"/><circle cx="63.3" cy="18.3" r="1.4"/><circle cx="-1.0" cy="20.5" r="1.5"/><circle cx="20.9" cy="21.4" r="1.4"/><circle cx="30.5" cy="20.0" r="1.0"/><circle cx="47.8" cy="21.6" r="1.1"/><circle cx="19.6" cy="23.0" r="0.9"/><circle cx="29.5" cy="23.1" r="1.2"/><circle cx="35.3" cy="25.4" r="1.3"/><circle cx="49.6" cy="23.7" r="1.2"/><circle cx="52.6" cy="23.1" r="1.0"/><circle cx="-1.7" cy="26.4" r="1.5"/><circle cx="2.0" cy="27.7" r="1.2"/><circle cx="16.0" cy="28.4" r="1.2"/><circle cx="20.7" cy="27.0" r="1.3"/><circle cx="24.4" cy="25.7" r="1.3"/><circle cx="31.0" cy="25.8" r="1.3"/><circle cx="33.3" cy="27.4" r="1.3"/><circle cx="48.0" cy="25.5" r="1.5"/><circle cx="51.4" cy="28.4" r="1.4"/><circle cx="54.2" cy="27.0" r="1.4"/><circle cx="57.7" cy="28.2" r="1.2"/><circle cx="9.1" cy="30.8" r="1.4"/><circle cx="20.5" cy="29.1" r="1.0"/><circle cx="39.2" cy="28.6" r="1.0"/><circle cx="45.6" cy="28.8" r="0.9"/><circle cx="-2.9" cy="32.5" r="1.1"/><circle cx="4.1" cy="31.7" r="1.1"/><circle cx="12.5" cy="31.5" r="1.1"/><circle cx="17.3" cy="33.6" r="1.4"/><circle cx="20.5" cy="32.8" r="1.2"/><circle cx="28.9" cy="33.9" r="1.3"/><circle cx="35.4" cy="32.7" r="1.1"/><circle cx="54.4" cy="32.4" r="1.4"/><circle cx="56.6" cy="31.9" r="1.0"/><circle cx="-1.2" cy="35.5" r="1.2"/><circle cx="12.7" cy="35.7" r="1.1"/><circle cx="15.3" cy="37.0" r="1.0"/><circle cx="23.6" cy="36.7" r="1.0"/><circle cx="52.4" cy="36.3" r="1.2"/><circle cx="-1.3" cy="37.7" r="1.1"/><circle cx="22.0" cy="39.8" r="1.0"/><circle cx="31.5" cy="38.9" r="1.3"/><circle cx="37.5" cy="39.1" r="1.3"/><circle cx="54.2" cy="39.2" r="1.0"/><circle cx="57.0" cy="38.2" r="0.9"/><circle cx="59.6" cy="37.5" r="1.2"/><circle cx="63.1" cy="38.6" r="1.2"/><circle cx="2.5" cy="40.7" r="1.2"/><circle cx="17.4" cy="41.2" r="1.0"/><circle cx="20.9" cy="39.9" r="1.2"/><circle cx="22.6" cy="40.0" r="1.5"/><circle cx="27.1" cy="42.1" r="1.5"/><circle cx="28.8" cy="40.7" r="1.0"/><circle cx="33.5" cy="42.2" r="1.4"/><circle cx="34.7" cy="40.6" r="1.4"/><circle cx="46.6" cy="40.0" r="1.5"/><circle cx="48.7" cy="40.2" r="1.2"/><circle cx="54.9" cy="40.3" r="1.4"/><circle cx="59.4" cy="41.3" r="1.2"/><circle cx="18.3" cy="44.7" r="1.3"/><circle cx="26.6" cy="44.7" r="1.2"/><circle cx="48.5" cy="44.9" r="1.1"/><circle cx="60.8" cy="44.7" r="1.3"/><circle cx="-0.4" cy="46.6" r="1.0"/><circle cx="8.5" cy="48.2" r="1.3"/><circle cx="12.6" cy="45.7" r="1.2"/><circle cx="17.6" cy="45.6" r="1.1"/><circle cx="20.2" cy="47.3" r="1.1"/><circle cx="39.2" cy="46.2" r="1.1"/><circle cx="41.8" cy="47.3" r="1.4"/><circle cx="57.2" cy="46.7" r="1.2"/><circle cx="59.2" cy="45.6" r="1.0"/><circle cx="0.3" cy="50.5" r="1.3"/><circle cx="13.0" cy="49.3" r="1.4"/><circle cx="16.2" cy="50.0" r="1.4"/><circle cx="38.9" cy="50.4" r="1.1"/><circle cx="42.3" cy="49.3" r="1.2"/><circle cx="45.3" cy="49.7" r="1.3"/></g><g fill="#1a1008"><circle cx="7.6" cy="-2.3" r="1.1"/><circle cx="13.6" cy="-0.8" r="1.2"/><circle cx="27.6" cy="-1.2" r="1.4"/><circle cx="32.1" cy="-3.1" r="1.0"/><circle cx="41.0" cy="-1.0" r="1.3"/><circle cx="51.7" cy="-1.7" r="1.0"/><circle cx="58.2" cy="-1.4" r="1.1"/><circle cx="3.7" cy="1.2" r="1.1"/><circle cx="19.0" cy="2.1" r="1.2"/><circle cx="37.1" cy="0.7" r="1.4"/><circle cx="43.5" cy="2.0" r="1.1"/><circle cx="-2.3" cy="2.8" r="1.1"/><circle cx="8.5" cy="4.9" r="1.2"/><circle cx="15.3" cy="4.2" r="1.0"/><circle cx="24.9" cy="3.2" r="1.1"/><circle cx="37.9" cy="4.9" r="1.5"/><circle cx="54.6" cy="3.7" r="1.4"/><circle cx="59.7" cy="4.5" r="1.2"/><circle cx="27.4" cy="7.3" r="1.0"/><circle cx="32.0" cy="5.8" r="1.1"/><circle cx="38.8" cy="6.9" r="1.1"/><circle cx="43.4" cy="6.0" r="1.0"/><circle cx="52.7" cy="5.7" r="1.2"/><circle cx="59.7" cy="6.6" r="0.9"/><circle cx="62.6" cy="6.6" r="1.2"/><circle cx="6.0" cy="11.2" r="1.0"/><circle cx="12.2" cy="8.7" r="1.1"/><circle cx="29.2" cy="11.2" r="1.1"/><circle cx="56.1" cy="9.5" r="1.1"/><circle cx="11.1" cy="13.6" r="1.1"/><circle cx="29.7" cy="13.0" r="1.3"/><circle cx="32.0" cy="11.9" r="1.5"/><circle cx="43.7" cy="11.4" r="1.4"/><circle cx="47.8" cy="13.2" r="1.3"/><circle cx="52.0" cy="11.8" r="1.1"/><circle cx="54.9" cy="12.7" r="0.9"/><circle cx="60.5" cy="11.7" r="1.4"/><circle cx="6.1" cy="15.7" r="1.4"/><circle cx="10.7" cy="15.0" r="1.1"/><circle cx="17.0" cy="14.9" r="1.2"/><circle cx="29.0" cy="16.2" r="1.0"/><circle cx="33.5" cy="15.2" r="1.2"/><circle cx="53.4" cy="15.2" r="1.1"/><circle cx="59.0" cy="15.7" r="1.0"/><circle cx="-1.4" cy="19.8" r="1.2"/><circle cx="6.2" cy="18.0" r="1.3"/><circle cx="11.2" cy="18.5" r="1.2"/><circle cx="20.9" cy="17.5" r="1.3"/><circle cx="25.9" cy="18.2" r="0.9"/><circle cx="40.4" cy="18.9" r="1.0"/><circle cx="55.7" cy="19.4" r="1.1"/><circle cx="4.8" cy="21.0" r="1.4"/><circle cx="12.3" cy="21.1" r="1.1"/><circle cx="34.9" cy="20.1" r="1.3"/><circle cx="40.6" cy="22.6" r="1.1"/><circle cx="49.6" cy="20.1" r="1.0"/><circle cx="61.0" cy="20.0" r="1.2"/><circle cx="63.2" cy="20.8" r="1.0"/><circle cx="11.3" cy="23.5" r="1.2"/><circle cx="17.5" cy="25.3" r="1.3"/><circle cx="26.1" cy="25.1" r="1.3"/><circle cx="33.1" cy="23.8" r="1.4"/><circle cx="41.4" cy="25.5" r="1.0"/><circle cx="56.9" cy="23.2" r="1.1"/><circle cx="8.4" cy="27.7" r="0.9"/><circle cx="17.2" cy="27.5" r="1.3"/><circle cx="27.4" cy="27.7" r="1.0"/><circle cx="36.8" cy="28.3" r="1.2"/><circle cx="43.5" cy="25.9" r="1.2"/><circle cx="62.1" cy="26.8" r="1.1"/><circle cx="1.8" cy="29.5" r="1.0"/><circle cx="6.9" cy="30.2" r="1.0"/><circle cx="13.9" cy="28.5" r="1.3"/><circle cx="16.9" cy="29.2" r="1.1"/><circle cx="28.5" cy="30.0" r="1.2"/><circle cx="44.1" cy="28.8" r="1.0"/><circle cx="48.7" cy="30.5" r="1.1"/><circle cx="62.0" cy="28.6" r="1.3"/><circle cx="8.8" cy="32.0" r="1.2"/><circle cx="15.6" cy="32.7" r="1.2"/><circle cx="38.8" cy="33.5" r="1.3"/><circle cx="48.4" cy="33.3" r="1.1"/><circle cx="60.0" cy="33.0" r="1.0"/><circle cx="65.0" cy="31.8" r="0.9"/><circle cx="2.1" cy="36.0" r="1.1"/><circle cx="5.9" cy="36.8" r="1.2"/><circle cx="11.0" cy="36.4" r="1.5"/><circle cx="33.7" cy="36.5" r="1.1"/><circle cx="35.2" cy="36.9" r="1.5"/><circle cx="46.5" cy="34.5" r="1.3"/><circle cx="59.0" cy="36.7" r="1.2"/><circle cx="62.7" cy="34.9" r="1.1"/><circle cx="15.8" cy="39.4" r="1.0"/><circle cx="35.0" cy="38.2" r="1.1"/><circle cx="45.4" cy="38.1" r="1.2"/><circle cx="48.8" cy="37.1" r="0.9"/><circle cx="50.9" cy="39.2" r="1.1"/><circle cx="52.5" cy="41.5" r="1.4"/><circle cx="2.4" cy="44.0" r="1.0"/><circle cx="4.9" cy="43.9" r="1.2"/><circle cx="30.6" cy="44.3" r="1.1"/><circle cx="34.8" cy="43.1" r="1.0"/><circle cx="43.3" cy="45.5" r="1.3"/><circle cx="7.6" cy="47.6" r="1.0"/><circle cx="24.3" cy="48.4" r="1.3"/><circle cx="36.8" cy="47.2" r="1.2"/><circle cx="49.7" cy="46.2" r="1.4"/><circle cx="51.2" cy="47.6" r="1.1"/><circle cx="-3.0" cy="49.8" r="1.3"/><circle cx="3.7" cy="50.7" r="1.2"/><circle cx="18.0" cy="51.1" r="1.3"/><circle cx="24.0" cy="50.6" r="1.5"/><circle cx="35.8" cy="50.9" r="1.3"/><circle cx="49.1" cy="50.0" r="0.9"/><circle cx="53.9" cy="48.7" r="1.4"/><circle cx="57.9" cy="48.5" r="1.5"/><circle cx="61.2" cy="49.6" r="1.1"/><circle cx="62.8" cy="51.0" r="0.9"/></g></g><line x1="43.30" y1="43.60" x2="57.80" y2="43.60" stroke="#fff" stroke-width="1.8"/></svg><svg x="475.60" y="595.50" width="61.30" height="48.10" overflow="hidden"><rect x="0" y="0" width="61.30" height="48.10" fill="#bc9268"/><rect x="0" y="0" width="61.30" height="48.10" filter="url(#tpg3)"/><ellipse cx="6" cy="44" rx="5" ry="4" fill="#eeeef4"/><line x1="43.30" y1="43.60" x2="57.80" y2="43.60" stroke="#fff" stroke-width="1.8"/></svg><svg x="346.90" y="648.20" width="61.30" height="47.90" overflow="hidden"><rect x="0" y="0" width="61.30" height="47.90" fill="#7a48a8"/><rect x="0" y="0" width="61.30" height="47.90" filter="url(#the3)"/><ellipse cx="31" cy="6" rx="4" ry="3.5" fill="#e8e0ee" opacity="0.85"/><ellipse cx="35" cy="9" rx="2" ry="2" fill="#e8e0ee" opacity="0.8"/></svg><svg x="411.20" y="648.20" width="61.30" height="47.90" overflow="hidden"><g filter="url(#hblur)"><rect x="-2" y="-2" width="65.30" height="51.90" fill="#8a8078"/><g fill="#3a4a90"><circle cx="-2.2" cy="-3.2" r="1.1"/><circle cx="1.5" cy="-0.6" r="0.9"/><circle cx="9.7" cy="-0.2" r="1.2"/><circle cx="14.2" cy="-2.7" r="1.2"/><circle cx="23.8" cy="-1.1" r="0.8"/><circle cx="27.6" cy="-2.0" r="1.0"/><circle cx="34.0" cy="-3.4" r="1.0"/><circle cx="56.2" cy="-0.5" r="1.3"/><circle cx="64.8" cy="-2.9" r="1.0"/><circle cx="10.8" cy="1.2" r="1.2"/><circle cx="24.0" cy="-0.1" r="1.1"/><circle cx="35.9" cy="0.8" r="0.9"/><circle cx="54.9" cy="1.4" r="0.9"/><circle cx="62.5" cy="0.4" r="1.2"/><circle cx="-3.1" cy="3.6" r="0.9"/><circle cx="5.1" cy="6.0" r="1.2"/><circle cx="11.9" cy="6.0" r="0.8"/><circle cx="26.9" cy="4.2" r="1.3"/><circle cx="29.8" cy="4.8" r="0.9"/><circle cx="37.5" cy="4.8" r="1.1"/><circle cx="40.5" cy="5.9" r="0.8"/><circle cx="46.3" cy="4.2" r="0.8"/><circle cx="48.5" cy="5.2" r="1.1"/><circle cx="52.9" cy="4.3" r="1.1"/><circle cx="64.3" cy="4.3" r="1.3"/><circle cx="3.0" cy="7.5" r="1.0"/><circle cx="6.1" cy="7.0" r="1.1"/><circle cx="10.6" cy="9.3" r="1.0"/><circle cx="15.0" cy="9.3" r="1.2"/><circle cx="19.5" cy="6.9" r="1.1"/><circle cx="29.3" cy="6.6" r="1.3"/><circle cx="33.5" cy="6.7" r="1.1"/><circle cx="36.9" cy="7.5" r="1.2"/><circle cx="41.6" cy="7.9" r="1.0"/><circle cx="45.4" cy="6.4" r="0.8"/><circle cx="47.2" cy="8.5" r="1.1"/><circle cx="51.8" cy="7.6" r="1.0"/><circle cx="59.6" cy="7.3" r="0.9"/><circle cx="-2.2" cy="10.9" r="1.0"/><circle cx="6.3" cy="11.7" r="1.2"/><circle cx="10.3" cy="10.3" r="1.2"/><circle cx="21.3" cy="11.2" r="0.9"/><circle cx="32.1" cy="9.2" r="1.0"/><circle cx="43.4" cy="11.3" r="1.3"/><circle cx="48.8" cy="12.1" r="1.2"/><circle cx="56.5" cy="11.0" r="1.1"/><circle cx="3.6" cy="15.5" r="1.2"/><circle cx="18.9" cy="15.0" r="1.1"/><circle cx="20.4" cy="13.6" r="1.1"/><circle cx="24.6" cy="12.9" r="0.8"/><circle cx="39.0" cy="14.9" r="0.9"/><circle cx="43.5" cy="13.8" r="0.9"/><circle cx="61.8" cy="13.3" r="1.1"/><circle cx="-1.6" cy="17.9" r="1.2"/><circle cx="9.6" cy="18.3" r="1.2"/><circle cx="12.6" cy="16.7" r="1.0"/><circle cx="17.1" cy="16.3" r="1.3"/><circle cx="26.9" cy="15.9" r="0.8"/><circle cx="31.2" cy="17.4" r="1.1"/><circle cx="35.7" cy="17.7" r="1.2"/><circle cx="38.1" cy="17.8" r="1.1"/><circle cx="43.4" cy="17.9" r="1.1"/><circle cx="46.5" cy="17.0" r="1.1"/><circle cx="57.0" cy="15.8" r="1.2"/><circle cx="60.7" cy="18.6" r="0.9"/><circle cx="65.4" cy="18.3" r="1.2"/><circle cx="4.9" cy="20.2" r="1.1"/><circle cx="7.4" cy="19.2" r="0.9"/><circle cx="10.9" cy="21.2" r="1.3"/><circle cx="25.2" cy="20.4" r="0.9"/><circle cx="30.4" cy="21.8" r="1.2"/><circle cx="40.1" cy="19.7" r="1.2"/><circle cx="51.5" cy="19.0" r="1.1"/><circle cx="58.7" cy="20.7" r="1.0"/><circle cx="26.2" cy="23.5" r="1.0"/><circle cx="35.4" cy="25.0" r="0.9"/><circle cx="38.8" cy="22.1" r="1.0"/><circle cx="41.9" cy="23.7" r="0.9"/><circle cx="49.6" cy="23.5" r="1.0"/><circle cx="51.4" cy="23.7" r="1.0"/><circle cx="58.0" cy="24.3" r="1.0"/><circle cx="60.1" cy="22.0" r="0.8"/><circle cx="65.2" cy="23.8" r="1.2"/><circle cx="6.2" cy="25.7" r="1.1"/><circle cx="10.5" cy="27.5" r="1.0"/><circle cx="19.7" cy="26.3" r="1.2"/><circle cx="21.2" cy="27.9" r="1.1"/><circle cx="25.4" cy="27.1" r="1.2"/><circle cx="29.7" cy="25.8" r="0.8"/><circle cx="33.8" cy="26.4" r="1.0"/><circle cx="35.3" cy="28.0" r="0.8"/><circle cx="41.7" cy="25.2" r="1.2"/><circle cx="42.8" cy="27.4" r="1.0"/><circle cx="50.4" cy="25.6" r="0.8"/><circle cx="58.4" cy="27.0" r="1.1"/><circle cx="60.6" cy="26.4" r="0.8"/><circle cx="-3.2" cy="28.8" r="1.2"/><circle cx="2.9" cy="30.0" r="1.1"/><circle cx="5.5" cy="30.0" r="0.9"/><circle cx="10.1" cy="31.6" r="1.1"/><circle cx="13.2" cy="30.9" r="1.2"/><circle cx="23.0" cy="28.8" r="1.3"/><circle cx="28.2" cy="30.9" r="1.0"/><circle cx="29.6" cy="30.4" r="0.8"/><circle cx="38.1" cy="28.5" r="1.1"/><circle cx="54.6" cy="28.6" r="1.3"/><circle cx="55.2" cy="29.2" r="0.8"/><circle cx="63.4" cy="28.3" r="0.9"/><circle cx="8.2" cy="33.3" r="1.3"/><circle cx="12.2" cy="32.9" r="0.9"/><circle cx="14.0" cy="32.3" r="0.9"/><circle cx="17.0" cy="33.8" r="1.1"/><circle cx="28.6" cy="34.3" r="1.0"/><circle cx="38.0" cy="32.1" r="1.0"/><circle cx="42.7" cy="33.5" r="1.2"/><circle cx="49.0" cy="31.8" r="0.8"/><circle cx="50.5" cy="33.4" r="1.1"/><circle cx="54.9" cy="32.3" r="1.1"/><circle cx="4.6" cy="35.1" r="1.1"/><circle cx="11.5" cy="36.6" r="0.8"/><circle cx="17.3" cy="35.9" r="0.8"/><circle cx="18.7" cy="37.6" r="0.9"/><circle cx="24.2" cy="35.1" r="1.1"/><circle cx="27.2" cy="37.1" r="1.1"/><circle cx="32.5" cy="36.3" r="1.1"/><circle cx="39.5" cy="37.3" r="1.1"/><circle cx="40.7" cy="36.9" r="1.0"/><circle cx="48.4" cy="36.6" r="1.0"/><circle cx="60.0" cy="36.5" r="1.1"/><circle cx="63.3" cy="36.1" r="1.2"/><circle cx="17.4" cy="40.9" r="0.8"/><circle cx="27.0" cy="39.8" r="0.8"/><circle cx="28.3" cy="40.8" r="1.2"/><circle cx="36.0" cy="39.9" r="1.1"/><circle cx="44.1" cy="39.4" r="1.3"/><circle cx="56.9" cy="39.3" r="1.2"/><circle cx="60.7" cy="38.6" r="0.9"/><circle cx="5.1" cy="44.2" r="1.3"/><circle cx="12.2" cy="42.5" r="0.9"/><circle cx="25.1" cy="41.2" r="1.1"/><circle cx="26.8" cy="43.0" r="1.3"/><circle cx="30.5" cy="43.4" r="1.0"/><circle cx="38.7" cy="43.7" r="1.3"/><circle cx="42.9" cy="42.7" r="1.2"/><circle cx="44.8" cy="42.0" r="1.1"/><circle cx="54.0" cy="41.3" r="1.1"/><circle cx="59.5" cy="41.7" r="1.1"/><circle cx="9.9" cy="45.4" r="0.9"/><circle cx="19.4" cy="46.0" r="1.0"/><circle cx="21.4" cy="44.5" r="1.1"/><circle cx="24.8" cy="44.4" r="0.9"/><circle cx="39.1" cy="45.1" r="1.3"/><circle cx="45.0" cy="47.3" r="0.9"/><circle cx="49.9" cy="44.4" r="1.2"/><circle cx="55.1" cy="44.2" r="1.1"/><circle cx="-1.7" cy="48.2" r="0.9"/><circle cx="1.3" cy="50.0" r="0.9"/><circle cx="11.5" cy="48.7" r="1.2"/><circle cx="27.0" cy="50.6" r="0.9"/><circle cx="31.4" cy="48.7" r="1.3"/><circle cx="42.6" cy="48.1" r="1.1"/><circle cx="45.1" cy="50.4" r="1.0"/><circle cx="51.8" cy="48.1" r="1.1"/><circle cx="56.6" cy="48.7" r="0.9"/><circle cx="63.6" cy="48.9" r="0.9"/></g><g fill="#485a9c"><circle cx="4.9" cy="-2.1" r="1.0"/><circle cx="15.4" cy="-2.5" r="1.0"/><circle cx="21.6" cy="-1.0" r="0.9"/><circle cx="30.9" cy="-0.3" r="0.9"/><circle cx="39.6" cy="-2.0" r="1.2"/><circle cx="41.7" cy="-0.8" r="1.0"/><circle cx="46.2" cy="-3.4" r="1.1"/><circle cx="48.3" cy="-3.3" r="1.3"/><circle cx="53.7" cy="-1.4" r="1.0"/><circle cx="60.0" cy="-1.7" r="1.0"/><circle cx="0.8" cy="1.0" r="1.1"/><circle cx="3.2" cy="2.7" r="0.9"/><circle cx="7.1" cy="2.6" r="0.9"/><circle cx="13.9" cy="2.3" r="1.2"/><circle cx="18.6" cy="1.0" r="1.2"/><circle cx="23.0" cy="0.6" r="0.9"/><circle cx="28.2" cy="2.7" r="0.9"/><circle cx="33.2" cy="1.8" r="1.0"/><circle cx="40.8" cy="0.3" r="1.0"/><circle cx="42.8" cy="2.1" r="1.0"/><circle cx="47.7" cy="1.0" r="1.2"/><circle cx="51.2" cy="2.0" r="0.9"/><circle cx="57.0" cy="-0.3" r="1.1"/><circle cx="0.8" cy="4.1" r="1.2"/><circle cx="10.7" cy="6.2" r="1.1"/><circle cx="15.6" cy="3.1" r="0.9"/><circle cx="21.1" cy="4.2" r="1.0"/><circle cx="23.0" cy="3.0" r="1.2"/><circle cx="35.5" cy="4.8" r="1.3"/><circle cx="58.0" cy="5.9" r="1.0"/><circle cx="60.3" cy="4.6" r="1.1"/><circle cx="-0.2" cy="8.6" r="1.0"/><circle cx="22.5" cy="7.4" r="1.0"/><circle cx="24.8" cy="9.2" r="1.2"/><circle cx="53.7" cy="8.0" r="0.8"/><circle cx="61.4" cy="7.8" r="1.1"/><circle cx="1.7" cy="11.3" r="1.2"/><circle cx="11.6" cy="10.7" r="1.3"/><circle cx="16.6" cy="11.2" r="1.1"/><circle cx="24.8" cy="12.3" r="1.1"/><circle cx="26.7" cy="11.6" r="1.1"/><circle cx="36.2" cy="11.0" r="1.2"/><circle cx="36.9" cy="12.0" r="1.0"/><circle cx="45.8" cy="10.2" r="1.1"/><circle cx="53.2" cy="11.6" r="1.0"/><circle cx="60.0" cy="10.6" r="0.8"/><circle cx="64.6" cy="11.7" r="0.9"/><circle cx="0.2" cy="13.2" r="0.9"/><circle cx="8.1" cy="12.6" r="0.9"/><circle cx="11.3" cy="14.8" r="0.9"/><circle cx="14.5" cy="14.0" r="0.9"/><circle cx="30.9" cy="13.1" r="1.1"/><circle cx="33.3" cy="15.5" r="1.1"/><circle cx="35.2" cy="12.6" r="1.1"/><circle cx="48.4" cy="15.4" r="1.0"/><circle cx="50.7" cy="14.1" r="1.2"/><circle cx="54.0" cy="15.1" r="0.9"/><circle cx="58.1" cy="13.7" r="0.9"/><circle cx="0.7" cy="17.2" r="1.0"/><circle cx="5.1" cy="16.9" r="1.2"/><circle cx="21.6" cy="17.4" r="0.9"/><circle cx="25.0" cy="16.2" r="1.2"/><circle cx="49.4" cy="16.5" r="1.1"/><circle cx="52.0" cy="16.8" r="0.9"/><circle cx="-1.3" cy="21.3" r="1.1"/><circle cx="15.7" cy="20.7" r="1.0"/><circle cx="16.7" cy="19.0" r="1.1"/><circle cx="21.9" cy="18.8" r="1.3"/><circle cx="32.2" cy="19.0" r="0.8"/><circle cx="37.0" cy="21.0" r="1.1"/><circle cx="44.5" cy="19.3" r="0.9"/><circle cx="47.6" cy="19.7" r="1.3"/><circle cx="55.2" cy="21.4" r="0.9"/><circle cx="61.0" cy="22.0" r="0.9"/><circle cx="-0.7" cy="24.0" r="0.8"/><circle cx="2.0" cy="23.7" r="0.8"/><circle cx="5.5" cy="24.8" r="1.1"/><circle cx="8.9" cy="24.2" r="1.0"/><circle cx="12.4" cy="24.2" r="1.1"/><circle cx="17.6" cy="23.6" r="0.9"/><circle cx="21.2" cy="23.3" r="1.2"/><circle cx="23.0" cy="24.4" r="0.8"/><circle cx="31.2" cy="22.9" r="1.3"/><circle cx="46.8" cy="23.0" r="1.0"/><circle cx="0.4" cy="27.3" r="1.3"/><circle cx="3.1" cy="26.9" r="1.0"/><circle cx="15.9" cy="27.5" r="1.1"/><circle cx="46.1" cy="27.6" r="1.2"/><circle cx="55.1" cy="28.4" r="0.8"/><circle cx="16.6" cy="30.6" r="1.1"/><circle cx="20.3" cy="30.4" r="1.1"/><circle cx="36.3" cy="31.2" r="0.9"/><circle cx="40.9" cy="30.9" r="1.1"/><circle cx="44.8" cy="29.4" r="1.1"/><circle cx="50.5" cy="29.2" r="0.9"/><circle cx="61.0" cy="31.5" r="1.1"/><circle cx="-1.2" cy="32.7" r="1.1"/><circle cx="4.7" cy="33.6" r="1.0"/><circle cx="21.0" cy="32.3" r="1.3"/><circle cx="27.1" cy="31.7" r="1.1"/><circle cx="31.6" cy="32.5" r="1.2"/><circle cx="40.8" cy="34.5" r="1.1"/><circle cx="57.5" cy="32.0" r="1.3"/><circle cx="62.3" cy="33.8" r="1.0"/><circle cx="-1.1" cy="36.3" r="0.8"/><circle cx="1.3" cy="34.8" r="0.9"/><circle cx="10.1" cy="35.4" r="1.0"/><circle cx="35.8" cy="37.0" r="1.2"/><circle cx="44.7" cy="36.6" r="1.2"/><circle cx="52.6" cy="36.5" r="1.1"/><circle cx="57.8" cy="35.3" r="0.9"/><circle cx="-1.3" cy="39.5" r="0.8"/><circle cx="3.8" cy="40.0" r="0.9"/><circle cx="6.8" cy="40.0" r="1.0"/><circle cx="10.3" cy="40.8" r="1.0"/><circle cx="13.7" cy="38.1" r="1.0"/><circle cx="23.0" cy="38.9" r="1.3"/><circle cx="32.6" cy="40.3" r="1.1"/><circle cx="39.3" cy="38.4" r="1.0"/><circle cx="48.1" cy="40.1" r="0.9"/><circle cx="49.9" cy="38.1" r="0.8"/><circle cx="55.3" cy="39.5" r="1.1"/><circle cx="-1.1" cy="43.5" r="1.3"/><circle cx="2.6" cy="43.0" r="1.1"/><circle cx="10.4" cy="42.7" r="0.9"/><circle cx="16.7" cy="43.6" r="1.0"/><circle cx="21.1" cy="42.1" r="1.1"/><circle cx="36.0" cy="41.1" r="0.9"/><circle cx="49.0" cy="44.1" r="1.1"/><circle cx="56.7" cy="42.9" r="0.9"/><circle cx="65.0" cy="42.7" r="0.9"/><circle cx="-0.5" cy="45.8" r="1.1"/><circle cx="4.5" cy="47.1" r="0.8"/><circle cx="6.4" cy="45.7" r="1.2"/><circle cx="13.0" cy="44.5" r="1.1"/><circle cx="28.6" cy="45.0" r="1.0"/><circle cx="32.3" cy="44.5" r="1.2"/><circle cx="36.8" cy="47.3" r="1.2"/><circle cx="46.2" cy="45.4" r="0.9"/><circle cx="59.6" cy="47.1" r="1.0"/><circle cx="61.9" cy="46.8" r="0.9"/><circle cx="5.1" cy="48.3" r="0.8"/><circle cx="8.1" cy="47.5" r="1.0"/><circle cx="15.8" cy="50.5" r="1.2"/><circle cx="20.8" cy="47.7" r="1.0"/><circle cx="24.0" cy="49.6" r="1.2"/><circle cx="36.1" cy="48.2" r="0.9"/><circle cx="39.2" cy="50.0" r="1.1"/><circle cx="49.9" cy="49.5" r="1.0"/><circle cx="59.4" cy="47.9" r="0.9"/></g><g fill="#1a1410"><circle cx="-2.0" cy="-3.0" r="1.0"/><circle cx="0.7" cy="-0.2" r="1.5"/><circle cx="6.0" cy="-1.3" r="0.9"/><circle cx="14.6" cy="-1.3" r="1.3"/><circle cx="23.2" cy="-2.9" r="0.9"/><circle cx="28.0" cy="-1.9" r="1.4"/><circle cx="30.6" cy="-1.4" r="1.3"/><circle cx="51.3" cy="-1.6" r="1.5"/><circle cx="59.0" cy="-1.1" r="1.0"/><circle cx="9.4" cy="2.4" r="1.5"/><circle cx="17.5" cy="1.3" r="1.0"/><circle cx="21.1" cy="0.7" r="1.2"/><circle cx="26.8" cy="0.0" r="1.4"/><circle cx="31.0" cy="-0.0" r="1.3"/><circle cx="32.4" cy="1.0" r="0.9"/><circle cx="38.0" cy="0.0" r="1.5"/><circle cx="45.5" cy="0.1" r="1.3"/><circle cx="50.7" cy="1.1" r="1.0"/><circle cx="53.4" cy="1.7" r="1.1"/><circle cx="5.2" cy="3.3" r="1.1"/><circle cx="12.1" cy="4.4" r="1.0"/><circle cx="15.9" cy="3.8" r="1.2"/><circle cx="21.6" cy="5.3" r="1.4"/><circle cx="23.9" cy="5.5" r="1.0"/><circle cx="28.1" cy="4.3" r="0.9"/><circle cx="32.5" cy="5.0" r="1.4"/><circle cx="41.4" cy="4.8" r="1.2"/><circle cx="43.8" cy="3.5" r="1.3"/><circle cx="53.1" cy="3.8" r="1.1"/><circle cx="57.3" cy="4.8" r="1.2"/><circle cx="60.2" cy="5.4" r="1.5"/><circle cx="65.2" cy="3.9" r="0.9"/><circle cx="3.9" cy="8.4" r="0.9"/><circle cx="7.9" cy="8.0" r="1.2"/><circle cx="10.0" cy="6.3" r="1.2"/><circle cx="17.6" cy="6.4" r="1.1"/><circle cx="20.0" cy="7.3" r="1.5"/><circle cx="22.9" cy="6.3" r="1.4"/><circle cx="26.5" cy="6.3" r="1.1"/><circle cx="30.1" cy="5.9" r="1.4"/><circle cx="38.6" cy="6.0" r="1.2"/><circle cx="45.7" cy="6.3" r="1.1"/><circle cx="48.4" cy="8.0" r="1.2"/><circle cx="54.5" cy="6.8" r="1.1"/><circle cx="58.2" cy="7.3" r="1.2"/><circle cx="-2.1" cy="9.8" r="1.0"/><circle cx="8.0" cy="11.1" r="1.3"/><circle cx="11.2" cy="8.9" r="1.5"/><circle cx="17.4" cy="10.2" r="1.2"/><circle cx="27.2" cy="11.2" r="1.4"/><circle cx="30.8" cy="10.9" r="1.3"/><circle cx="35.8" cy="10.2" r="1.2"/><circle cx="36.6" cy="9.5" r="1.4"/><circle cx="41.4" cy="8.6" r="1.3"/><circle cx="48.3" cy="11.1" r="1.1"/><circle cx="52.2" cy="9.4" r="1.4"/><circle cx="57.9" cy="10.8" r="1.4"/><circle cx="60.9" cy="8.9" r="1.0"/><circle cx="0.3" cy="11.7" r="1.4"/><circle cx="3.4" cy="13.7" r="1.1"/><circle cx="16.6" cy="11.3" r="1.4"/><circle cx="23.4" cy="11.8" r="1.0"/><circle cx="25.8" cy="13.5" r="1.3"/><circle cx="33.1" cy="12.5" r="0.9"/><circle cx="45.5" cy="13.1" r="1.1"/><circle cx="48.6" cy="12.3" r="0.9"/><circle cx="52.4" cy="13.1" r="1.3"/><circle cx="57.2" cy="12.6" r="1.0"/><circle cx="61.3" cy="12.5" r="1.1"/><circle cx="5.9" cy="16.6" r="1.4"/><circle cx="7.3" cy="15.2" r="1.4"/><circle cx="12.7" cy="17.0" r="1.0"/><circle cx="20.5" cy="16.8" r="1.5"/><circle cx="23.5" cy="15.9" r="1.4"/><circle cx="35.4" cy="14.5" r="1.2"/><circle cx="40.8" cy="16.1" r="1.4"/><circle cx="43.8" cy="15.3" r="1.4"/><circle cx="46.3" cy="14.4" r="1.0"/><circle cx="61.9" cy="16.0" r="1.4"/><circle cx="64.3" cy="15.1" r="1.5"/><circle cx="-0.8" cy="19.5" r="1.5"/><circle cx="21.9" cy="18.4" r="1.4"/><circle cx="26.1" cy="17.8" r="1.0"/><circle cx="33.8" cy="19.1" r="1.3"/><circle cx="47.3" cy="18.1" r="1.4"/><circle cx="52.4" cy="18.1" r="1.4"/><circle cx="56.8" cy="17.6" r="1.0"/><circle cx="59.0" cy="18.5" r="1.4"/><circle cx="1.3" cy="22.3" r="1.4"/><circle cx="16.0" cy="20.7" r="0.9"/><circle cx="25.7" cy="20.6" r="1.4"/><circle cx="34.4" cy="20.8" r="1.1"/><circle cx="38.2" cy="20.7" r="1.1"/><circle cx="44.6" cy="22.6" r="1.4"/><circle cx="47.0" cy="22.6" r="1.0"/><circle cx="49.5" cy="20.3" r="1.5"/><circle cx="61.6" cy="20.9" r="1.4"/><circle cx="63.7" cy="21.6" r="0.9"/><circle cx="-0.2" cy="25.1" r="0.9"/><circle cx="8.8" cy="24.5" r="0.9"/><circle cx="14.6" cy="24.7" r="1.1"/><circle cx="15.9" cy="22.7" r="1.0"/><circle cx="18.8" cy="23.9" r="1.1"/><circle cx="30.9" cy="24.6" r="1.2"/><circle cx="33.5" cy="24.6" r="1.5"/><circle cx="40.2" cy="22.8" r="1.1"/><circle cx="51.8" cy="24.6" r="1.1"/><circle cx="56.9" cy="25.0" r="1.1"/><circle cx="58.4" cy="24.0" r="1.2"/><circle cx="61.8" cy="25.2" r="1.3"/><circle cx="-0.6" cy="26.7" r="1.0"/><circle cx="7.0" cy="26.6" r="1.5"/><circle cx="13.8" cy="25.5" r="0.9"/><circle cx="21.4" cy="27.2" r="1.1"/><circle cx="24.6" cy="26.6" r="1.4"/><circle cx="29.0" cy="26.4" r="1.3"/><circle cx="30.0" cy="25.5" r="1.2"/><circle cx="34.0" cy="26.6" r="1.2"/><circle cx="36.9" cy="26.7" r="1.2"/><circle cx="41.9" cy="25.6" r="1.3"/><circle cx="44.2" cy="27.5" r="1.1"/><circle cx="48.7" cy="28.0" r="1.0"/><circle cx="50.2" cy="27.6" r="1.3"/><circle cx="57.2" cy="27.3" r="1.2"/><circle cx="60.2" cy="25.6" r="1.1"/><circle cx="65.1" cy="28.2" r="1.2"/><circle cx="-0.9" cy="30.9" r="1.1"/><circle cx="4.5" cy="30.0" r="1.0"/><circle cx="6.9" cy="28.5" r="1.4"/><circle cx="10.4" cy="28.4" r="1.0"/><circle cx="16.4" cy="29.2" r="1.2"/><circle cx="20.3" cy="30.2" r="1.3"/><circle cx="21.8" cy="29.4" r="1.1"/><circle cx="28.2" cy="29.2" r="1.2"/><circle cx="32.3" cy="30.9" r="1.1"/><circle cx="37.0" cy="29.2" r="1.4"/><circle cx="38.3" cy="28.9" r="1.3"/><circle cx="44.0" cy="30.5" r="1.1"/><circle cx="50.3" cy="29.2" r="1.4"/><circle cx="52.3" cy="29.8" r="1.3"/><circle cx="62.3" cy="30.3" r="0.9"/><circle cx="-0.7" cy="32.7" r="1.3"/><circle cx="2.4" cy="32.9" r="0.9"/><circle cx="5.1" cy="31.3" r="1.2"/><circle cx="8.0" cy="33.8" r="1.3"/><circle cx="15.0" cy="33.4" r="1.4"/><circle cx="18.6" cy="31.4" r="1.3"/><circle cx="21.9" cy="31.3" r="0.9"/><circle cx="25.6" cy="34.1" r="1.3"/><circle cx="35.1" cy="34.0" r="1.4"/><circle cx="56.6" cy="33.1" r="1.3"/><circle cx="61.6" cy="31.2" r="1.2"/><circle cx="63.8" cy="32.6" r="1.2"/><circle cx="7.0" cy="36.0" r="1.0"/><circle cx="9.4" cy="34.8" r="1.2"/><circle cx="16.8" cy="35.8" r="1.0"/><circle cx="20.9" cy="36.4" r="1.1"/><circle cx="37.5" cy="34.3" r="1.4"/><circle cx="38.2" cy="36.6" r="1.5"/><circle cx="41.5" cy="35.4" r="1.4"/><circle cx="47.0" cy="36.7" r="1.3"/><circle cx="56.1" cy="36.6" r="1.4"/><circle cx="60.6" cy="36.9" r="1.3"/><circle cx="62.3" cy="36.3" r="1.1"/><circle cx="-1.9" cy="37.7" r="1.1"/><circle cx="1.6" cy="38.0" r="0.9"/><circle cx="5.3" cy="39.4" r="1.5"/><circle cx="7.0" cy="38.5" r="1.3"/><circle cx="18.4" cy="37.6" r="1.3"/><circle cx="23.6" cy="39.5" r="1.3"/><circle cx="30.4" cy="37.1" r="1.3"/><circle cx="41.6" cy="37.5" r="1.2"/><circle cx="43.5" cy="37.6" r="1.5"/><circle cx="57.5" cy="38.7" r="1.1"/><circle cx="5.6" cy="42.2" r="1.1"/><circle cx="19.3" cy="42.5" r="1.5"/><circle cx="22.2" cy="40.7" r="0.9"/><circle cx="30.4" cy="41.5" r="1.1"/><circle cx="36.5" cy="42.7" r="1.0"/><circle cx="47.2" cy="41.0" r="1.3"/><circle cx="1.0" cy="44.7" r="1.2"/><circle cx="10.4" cy="45.5" r="0.9"/><circle cx="18.9" cy="42.9" r="1.4"/><circle cx="24.4" cy="43.5" r="0.9"/><circle cx="34.7" cy="44.3" r="1.1"/><circle cx="37.2" cy="45.5" r="1.0"/><circle cx="47.2" cy="43.1" r="1.4"/><circle cx="51.5" cy="45.1" r="1.4"/><circle cx="61.2" cy="42.9" r="0.9"/><circle cx="4.3" cy="46.7" r="1.0"/><circle cx="16.4" cy="46.2" r="0.9"/><circle cx="20.2" cy="45.6" r="1.5"/><circle cx="31.8" cy="46.6" r="1.2"/><circle cx="35.3" cy="47.0" r="1.1"/><circle cx="38.1" cy="48.0" r="1.4"/><circle cx="43.4" cy="47.8" r="1.3"/><circle cx="46.2" cy="46.7" r="1.2"/><circle cx="52.5" cy="46.1" r="1.2"/><circle cx="56.8" cy="47.7" r="1.4"/><circle cx="60.0" cy="48.0" r="1.0"/><circle cx="62.2" cy="46.6" r="1.0"/><circle cx="-0.5" cy="51.3" r="1.2"/><circle cx="3.0" cy="48.9" r="0.9"/><circle cx="12.1" cy="50.6" r="1.3"/><circle cx="13.7" cy="48.9" r="1.2"/><circle cx="17.6" cy="49.7" r="1.3"/><circle cx="21.3" cy="50.3" r="1.5"/><circle cx="25.4" cy="50.2" r="1.3"/><circle cx="26.5" cy="49.2" r="1.4"/><circle cx="30.0" cy="50.5" r="1.1"/><circle cx="51.7" cy="50.5" r="1.2"/><circle cx="61.4" cy="51.1" r="1.4"/><circle cx="64.0" cy="50.6" r="1.1"/></g><g fill="#241a14"><circle cx="9.3" cy="-2.3" r="1.0"/><circle cx="10.7" cy="-2.8" r="1.4"/><circle cx="17.8" cy="-2.1" r="1.3"/><circle cx="21.9" cy="-1.1" r="1.5"/><circle cx="35.5" cy="-1.4" r="1.1"/><circle cx="37.8" cy="-1.3" r="1.2"/><circle cx="40.7" cy="-2.6" r="1.2"/><circle cx="44.0" cy="-0.3" r="1.1"/><circle cx="47.8" cy="-0.6" r="1.2"/><circle cx="53.3" cy="-1.6" r="1.1"/><circle cx="59.8" cy="-1.0" r="1.2"/><circle cx="63.5" cy="-2.2" r="1.3"/><circle cx="-0.6" cy="2.3" r="1.4"/><circle cx="3.8" cy="1.4" r="1.3"/><circle cx="7.7" cy="0.1" r="1.2"/><circle cx="12.7" cy="0.8" r="1.0"/><circle cx="23.7" cy="0.6" r="0.9"/><circle cx="34.9" cy="2.5" r="1.3"/><circle cx="43.5" cy="2.1" r="1.2"/><circle cx="54.9" cy="2.6" r="1.2"/><circle cx="57.8" cy="0.3" r="1.4"/><circle cx="62.1" cy="2.4" r="1.2"/><circle cx="-0.7" cy="3.1" r="1.0"/><circle cx="1.7" cy="5.5" r="1.3"/><circle cx="7.8" cy="4.1" r="1.1"/><circle cx="19.2" cy="5.4" r="0.9"/><circle cx="33.5" cy="4.6" r="1.3"/><circle cx="38.4" cy="4.9" r="1.2"/><circle cx="48.7" cy="5.0" r="1.2"/><circle cx="49.7" cy="4.6" r="1.0"/><circle cx="0.1" cy="5.5" r="1.4"/><circle cx="13.6" cy="6.6" r="0.9"/><circle cx="32.2" cy="6.3" r="1.3"/><circle cx="36.4" cy="6.4" r="1.0"/><circle cx="43.7" cy="6.8" r="1.3"/><circle cx="53.4" cy="6.3" r="1.2"/><circle cx="61.5" cy="7.8" r="0.9"/><circle cx="2.5" cy="9.3" r="1.3"/><circle cx="4.0" cy="11.2" r="1.0"/><circle cx="15.8" cy="9.6" r="0.9"/><circle cx="22.5" cy="9.3" r="1.2"/><circle cx="23.7" cy="8.7" r="1.4"/><circle cx="43.8" cy="10.4" r="1.4"/><circle cx="54.8" cy="10.3" r="1.2"/><circle cx="65.5" cy="9.7" r="1.3"/><circle cx="7.0" cy="12.6" r="1.0"/><circle cx="10.3" cy="13.5" r="1.0"/><circle cx="12.7" cy="11.6" r="1.5"/><circle cx="18.6" cy="13.7" r="1.4"/><circle cx="28.5" cy="12.8" r="1.3"/><circle cx="36.8" cy="12.0" r="1.4"/><circle cx="39.6" cy="11.5" r="0.9"/><circle cx="41.8" cy="11.2" r="1.3"/><circle cx="58.6" cy="13.4" r="1.1"/><circle cx="-3.0" cy="15.2" r="1.1"/><circle cx="1.5" cy="15.3" r="1.3"/><circle cx="14.2" cy="14.7" r="1.2"/><circle cx="17.2" cy="15.7" r="1.3"/><circle cx="28.5" cy="16.6" r="1.0"/><circle cx="31.9" cy="14.7" r="1.3"/><circle cx="37.4" cy="14.9" r="1.5"/><circle cx="49.7" cy="16.0" r="1.1"/><circle cx="54.4" cy="15.9" r="1.1"/><circle cx="58.4" cy="15.2" r="1.1"/><circle cx="3.6" cy="17.4" r="1.4"/><circle cx="6.8" cy="18.8" r="1.3"/><circle cx="10.1" cy="17.3" r="1.2"/><circle cx="12.3" cy="17.2" r="1.2"/><circle cx="16.2" cy="17.1" r="1.3"/><circle cx="19.8" cy="17.8" r="1.4"/><circle cx="29.7" cy="19.5" r="1.4"/><circle cx="37.0" cy="19.1" r="1.1"/><circle cx="38.1" cy="16.9" r="1.2"/><circle cx="43.3" cy="18.9" r="1.4"/><circle cx="49.9" cy="18.4" r="1.0"/><circle cx="62.2" cy="17.3" r="0.9"/><circle cx="-1.4" cy="21.4" r="1.2"/><circle cx="6.3" cy="20.3" r="1.4"/><circle cx="7.1" cy="21.6" r="1.1"/><circle cx="12.1" cy="19.8" r="1.3"/><circle cx="16.7" cy="20.6" r="1.3"/><circle cx="22.4" cy="20.7" r="0.9"/><circle cx="29.3" cy="21.7" r="1.5"/><circle cx="30.4" cy="20.2" r="0.9"/><circle cx="41.2" cy="22.5" r="1.3"/><circle cx="54.3" cy="21.0" r="1.0"/><circle cx="56.6" cy="20.3" r="1.4"/><circle cx="4.1" cy="24.0" r="1.2"/><circle cx="6.9" cy="22.9" r="1.1"/><circle cx="23.6" cy="24.2" r="1.0"/><circle cx="26.9" cy="23.6" r="1.0"/><circle cx="37.0" cy="22.8" r="1.3"/><circle cx="42.1" cy="25.2" r="1.1"/><circle cx="46.7" cy="22.8" r="1.2"/><circle cx="48.1" cy="23.8" r="1.1"/><circle cx="0.4" cy="27.0" r="1.1"/><circle cx="6.0" cy="25.7" r="1.0"/><circle cx="11.3" cy="26.6" r="1.2"/><circle cx="18.2" cy="28.1" r="1.3"/><circle cx="53.3" cy="26.3" r="1.0"/><circle cx="12.2" cy="30.8" r="1.3"/><circle cx="24.9" cy="30.7" r="1.0"/><circle cx="44.7" cy="30.9" r="1.4"/><circle cx="57.0" cy="30.2" r="1.5"/><circle cx="59.2" cy="31.0" r="1.0"/><circle cx="10.1" cy="31.8" r="0.9"/><circle cx="26.7" cy="31.7" r="1.5"/><circle cx="32.0" cy="33.0" r="1.1"/><circle cx="37.8" cy="31.9" r="1.3"/><circle cx="42.3" cy="31.8" r="1.3"/><circle cx="45.1" cy="33.2" r="1.2"/><circle cx="47.4" cy="34.0" r="1.2"/><circle cx="51.3" cy="32.8" r="1.4"/><circle cx="54.8" cy="32.4" r="1.2"/><circle cx="-0.4" cy="35.7" r="1.3"/><circle cx="3.7" cy="35.8" r="1.5"/><circle cx="12.5" cy="34.4" r="0.9"/><circle cx="24.1" cy="36.5" r="1.4"/><circle cx="27.6" cy="35.7" r="1.5"/><circle cx="28.6" cy="36.8" r="1.0"/><circle cx="33.4" cy="34.8" r="1.0"/><circle cx="48.1" cy="35.6" r="1.0"/><circle cx="53.2" cy="36.4" r="1.1"/><circle cx="11.6" cy="38.5" r="1.0"/><circle cx="15.8" cy="39.6" r="1.0"/><circle cx="21.1" cy="37.8" r="1.4"/><circle cx="26.8" cy="38.6" r="0.9"/><circle cx="34.9" cy="39.4" r="1.2"/><circle cx="39.0" cy="37.2" r="1.3"/><circle cx="47.8" cy="39.2" r="0.9"/><circle cx="51.7" cy="38.2" r="1.4"/><circle cx="53.7" cy="39.3" r="1.1"/><circle cx="59.3" cy="39.1" r="1.0"/><circle cx="65.5" cy="37.2" r="1.3"/><circle cx="0.8" cy="41.1" r="1.0"/><circle cx="3.3" cy="42.2" r="1.3"/><circle cx="10.3" cy="39.8" r="1.4"/><circle cx="14.6" cy="41.0" r="1.0"/><circle cx="15.8" cy="40.5" r="1.1"/><circle cx="26.5" cy="41.2" r="1.3"/><circle cx="34.0" cy="40.9" r="0.9"/><circle cx="39.9" cy="40.0" r="1.4"/><circle cx="43.8" cy="41.7" r="1.1"/><circle cx="50.0" cy="39.9" r="1.5"/><circle cx="53.4" cy="41.3" r="1.1"/><circle cx="54.9" cy="40.9" r="1.3"/><circle cx="58.0" cy="41.4" r="1.4"/><circle cx="61.3" cy="40.4" r="1.5"/><circle cx="-1.0" cy="43.3" r="1.1"/><circle cx="5.8" cy="42.9" r="1.3"/><circle cx="8.0" cy="43.5" r="1.3"/><circle cx="14.9" cy="44.0" r="1.0"/><circle cx="21.5" cy="44.9" r="1.1"/><circle cx="27.9" cy="43.0" r="1.0"/><circle cx="30.5" cy="44.8" r="1.1"/><circle cx="39.9" cy="43.4" r="1.1"/><circle cx="44.3" cy="45.4" r="1.0"/><circle cx="55.4" cy="43.6" r="1.3"/><circle cx="57.3" cy="43.9" r="1.4"/><circle cx="65.3" cy="42.7" r="1.3"/><circle cx="-0.2" cy="45.7" r="1.3"/><circle cx="6.6" cy="45.8" r="1.4"/><circle cx="9.1" cy="46.6" r="1.5"/><circle cx="11.7" cy="45.8" r="1.2"/><circle cx="22.5" cy="47.7" r="0.9"/><circle cx="26.8" cy="47.9" r="1.0"/><circle cx="28.9" cy="48.4" r="1.3"/><circle cx="50.7" cy="48.2" r="1.1"/><circle cx="4.1" cy="51.3" r="1.4"/><circle cx="8.4" cy="48.7" r="0.9"/><circle cx="33.4" cy="49.5" r="1.0"/><circle cx="37.6" cy="50.7" r="1.5"/><circle cx="41.8" cy="48.6" r="1.4"/><circle cx="44.2" cy="51.3" r="0.9"/><circle cx="47.3" cy="50.8" r="1.5"/><circle cx="54.6" cy="51.1" r="1.0"/><circle cx="57.8" cy="50.2" r="0.9"/></g></g></svg><svg x="475.60" y="648.20" width="61.30" height="47.90" overflow="hidden"><rect x="0" y="0" width="61.30" height="47.90" fill="#a85a1e"/><rect x="0" y="0" width="61.30" height="47.90" filter="url(#tpg4)"/></svg>
<text x="382.00" y="590.00" font-size="11.8" text-anchor="middle" fill="#1a1a1a" >H&amp;E</text>
<text x="438.60" y="590.00" font-size="11.8" text-anchor="middle" fill="#1a1a1a" >Ki-67</text>
<text x="502.30" y="590.00" font-size="11.8" text-anchor="middle" fill="#1a1a1a" >PGAM1</text>
<text transform="translate(341.80,621.10) rotate(-90)" font-size="11.3" text-anchor="middle" fill="#1a1a1a" >MOCK</text>
<text transform="translate(341.80,673.20) rotate(-90)" font-size="11.3" text-anchor="middle" fill="#1a1a1a" >PGAM1-1</text>
<line x1="572.00" y1="601.15" x2="572.00" y2="743.40" stroke="#8a8a8a" stroke-width="1.0"/>
<line x1="568.00" y1="743.40" x2="572.00" y2="743.40" stroke="#8a8a8a" stroke-width="1.0"/>
<text x="565.50" y="747.40" font-size="11.3" text-anchor="end" fill="#1a1a1a" >0.0</text>
<line x1="568.00" y1="714.95" x2="572.00" y2="714.95" stroke="#8a8a8a" stroke-width="1.0"/>
<text x="565.50" y="718.95" font-size="11.3" text-anchor="end" fill="#1a1a1a" >0.5</text>
<line x1="568.00" y1="686.50" x2="572.00" y2="686.50" stroke="#8a8a8a" stroke-width="1.0"/>
<text x="565.50" y="690.50" font-size="11.3" text-anchor="end" fill="#1a1a1a" >1.0</text>
<line x1="568.00" y1="658.05" x2="572.00" y2="658.05" stroke="#8a8a8a" stroke-width="1.0"/>
<text x="565.50" y="662.05" font-size="11.3" text-anchor="end" fill="#1a1a1a" >1.5</text>
<line x1="568.00" y1="629.60" x2="572.00" y2="629.60" stroke="#8a8a8a" stroke-width="1.0"/>
<text x="565.50" y="633.60" font-size="11.3" text-anchor="end" fill="#1a1a1a" >2.0</text>
<line x1="568.00" y1="601.15" x2="572.00" y2="601.15" stroke="#8a8a8a" stroke-width="1.0"/>
<text x="565.50" y="605.15" font-size="11.3" text-anchor="end" fill="#1a1a1a" >2.5</text>
<line x1="572.00" y1="743.40" x2="684.60" y2="743.40" stroke="#8a8a8a" stroke-width="1.0"/>
<line x1="589.20" y1="743.40" x2="589.20" y2="746.90" stroke="#8a8a8a" stroke-width="1.0"/>
<line x1="614.90" y1="743.40" x2="614.90" y2="746.90" stroke="#8a8a8a" stroke-width="1.0"/>
<line x1="640.70" y1="743.40" x2="640.70" y2="746.90" stroke="#8a8a8a" stroke-width="1.0"/>
<line x1="666.60" y1="743.40" x2="666.60" y2="746.90" stroke="#8a8a8a" stroke-width="1.0"/>
<text x="605.00" y="762.80" font-size="11.3" text-anchor="middle" fill="#1a1a1a" >Ki-67</text>
<text x="656.80" y="762.80" font-size="11.3" text-anchor="middle" fill="#1a1a1a" >PGAM1</text>
<line x1="556.40" y1="564.60" x2="570.00" y2="564.60" stroke="#93d4df" stroke-width="1.3"/>
<circle cx="563.20" cy="564.60" r="2.85" fill="#1b95aa" stroke="#123a44" stroke-width="0.85"/>
<text x="573.60" y="567.70" font-size="11.3" text-anchor="start" fill="#1a1a1a" >MOCK</text>
<line x1="556.40" y1="582.10" x2="570.00" y2="582.10" stroke="#c8aadf" stroke-width="1.3"/>
<circle cx="563.20" cy="582.10" r="2.85" fill="#6d3b99" stroke="#2c1742" stroke-width="0.85"/>
<text x="573.60" y="585.20" font-size="11.3" text-anchor="start" fill="#1a1a1a" >PGAM1</text>
<path d="M588.30,680.60 V617.20 H613.00 V628.40" fill="none" stroke="#a6a6a6" stroke-width="1.0"/>
<path d="M640.50,672.70 V594.30 H666.10 V606.40" fill="none" stroke="#a6a6a6" stroke-width="1.0"/>
<text x="602.10" y="616.60" font-size="12.2" text-anchor="middle" fill="#333" >*</text>
<text x="653.40" y="592.70" font-size="12.2" text-anchor="middle" fill="#333" letter-spacing="1.6">**</text>
<line x1="586.00" y1="685.70" x2="586.00" y2="697.00" stroke="#93d4df" stroke-width="1.0"/>
<line x1="579.50" y1="685.70" x2="592.50" y2="685.70" stroke="#93d4df" stroke-width="1.0"/>
<line x1="579.50" y1="697.00" x2="592.50" y2="697.00" stroke="#93d4df" stroke-width="1.0"/>
<line x1="579.50" y1="690.60" x2="592.50" y2="690.60" stroke="#707070" stroke-width="1.0"/>
<circle cx="585.90" cy="682.80" r="2.7" fill="#1b95aa" stroke="#123a44" stroke-width="0.75"/>
<circle cx="584.10" cy="689.40" r="2.7" fill="#1b95aa" stroke="#123a44" stroke-width="0.75"/>
<circle cx="587.90" cy="691.60" r="2.7" fill="#1b95aa" stroke="#123a44" stroke-width="0.75"/>
<circle cx="594.70" cy="694.90" r="2.7" fill="#1b95aa" stroke="#123a44" stroke-width="0.75"/>
<circle cx="590.70" cy="696.10" r="2.7" fill="#1b95aa" stroke="#123a44" stroke-width="0.75"/>
<circle cx="582.80" cy="699.20" r="2.7" fill="#1b95aa" stroke="#123a44" stroke-width="0.75"/>
<line x1="613.00" y1="644.90" x2="613.00" y2="667.40" stroke="#c8aadf" stroke-width="1.0"/>
<line x1="607.50" y1="644.90" x2="618.50" y2="644.90" stroke="#c8aadf" stroke-width="1.0"/>
<line x1="607.50" y1="667.40" x2="618.50" y2="667.40" stroke="#c8aadf" stroke-width="1.0"/>
<line x1="607.50" y1="658.60" x2="618.50" y2="658.60" stroke="#707070" stroke-width="1.0"/>
<circle cx="613.00" cy="647.20" r="2.7" fill="#6d3b99" stroke="#2c1742" stroke-width="0.75"/>
<circle cx="610.30" cy="653.70" r="2.7" fill="#6d3b99" stroke="#2c1742" stroke-width="0.75"/>
<circle cx="613.60" cy="662.60" r="2.7" fill="#6d3b99" stroke="#2c1742" stroke-width="0.75"/>
<circle cx="607.50" cy="667.20" r="2.7" fill="#6d3b99" stroke="#2c1742" stroke-width="0.75"/>
<circle cx="618.90" cy="667.20" r="2.7" fill="#6d3b99" stroke="#2c1742" stroke-width="0.75"/>
<circle cx="612.50" cy="676.50" r="2.7" fill="#6d3b99" stroke="#2c1742" stroke-width="0.75"/>
<line x1="640.50" y1="684.60" x2="640.50" y2="700.30" stroke="#93d4df" stroke-width="1.0"/>
<line x1="635.00" y1="684.60" x2="646.00" y2="684.60" stroke="#93d4df" stroke-width="1.0"/>
<line x1="635.00" y1="700.30" x2="646.00" y2="700.30" stroke="#93d4df" stroke-width="1.0"/>
<line x1="635.00" y1="688.50" x2="646.00" y2="688.50" stroke="#707070" stroke-width="1.0"/>
<circle cx="634.60" cy="683.70" r="2.7" fill="#1b95aa" stroke="#123a44" stroke-width="0.75"/>
<circle cx="646.50" cy="687.90" r="2.7" fill="#1b95aa" stroke="#123a44" stroke-width="0.75"/>
<circle cx="640.50" cy="689.40" r="2.7" fill="#1b95aa" stroke="#123a44" stroke-width="0.75"/>
<circle cx="634.50" cy="692.10" r="2.7" fill="#1b95aa" stroke="#123a44" stroke-width="0.75"/>
<circle cx="646.50" cy="694.90" r="2.7" fill="#1b95aa" stroke="#123a44" stroke-width="0.75"/>
<circle cx="640.50" cy="706.20" r="2.7" fill="#1b95aa" stroke="#123a44" stroke-width="0.75"/>
<line x1="666.10" y1="617.40" x2="666.10" y2="658.60" stroke="#c8aadf" stroke-width="1.0"/>
<line x1="660.60" y1="617.40" x2="671.60" y2="617.40" stroke="#c8aadf" stroke-width="1.0"/>
<line x1="660.60" y1="658.60" x2="671.60" y2="658.60" stroke="#c8aadf" stroke-width="1.0"/>
<line x1="657.70" y1="638.10" x2="674.50" y2="638.10" stroke="#707070" stroke-width="1.0"/>
<circle cx="666.10" cy="612.80" r="2.7" fill="#6d3b99" stroke="#2c1742" stroke-width="0.75"/>
<circle cx="666.10" cy="623.30" r="2.7" fill="#6d3b99" stroke="#2c1742" stroke-width="0.75"/>
<circle cx="666.10" cy="629.80" r="2.7" fill="#6d3b99" stroke="#2c1742" stroke-width="0.75"/>
<circle cx="672.00" cy="642.50" r="2.7" fill="#6d3b99" stroke="#2c1742" stroke-width="0.75"/>
<circle cx="666.10" cy="647.60" r="2.7" fill="#6d3b99" stroke="#2c1742" stroke-width="0.75"/>
<circle cx="666.10" cy="672.70" r="2.7" fill="#6d3b99" stroke="#2c1742" stroke-width="0.75"/></svg></body></html>
